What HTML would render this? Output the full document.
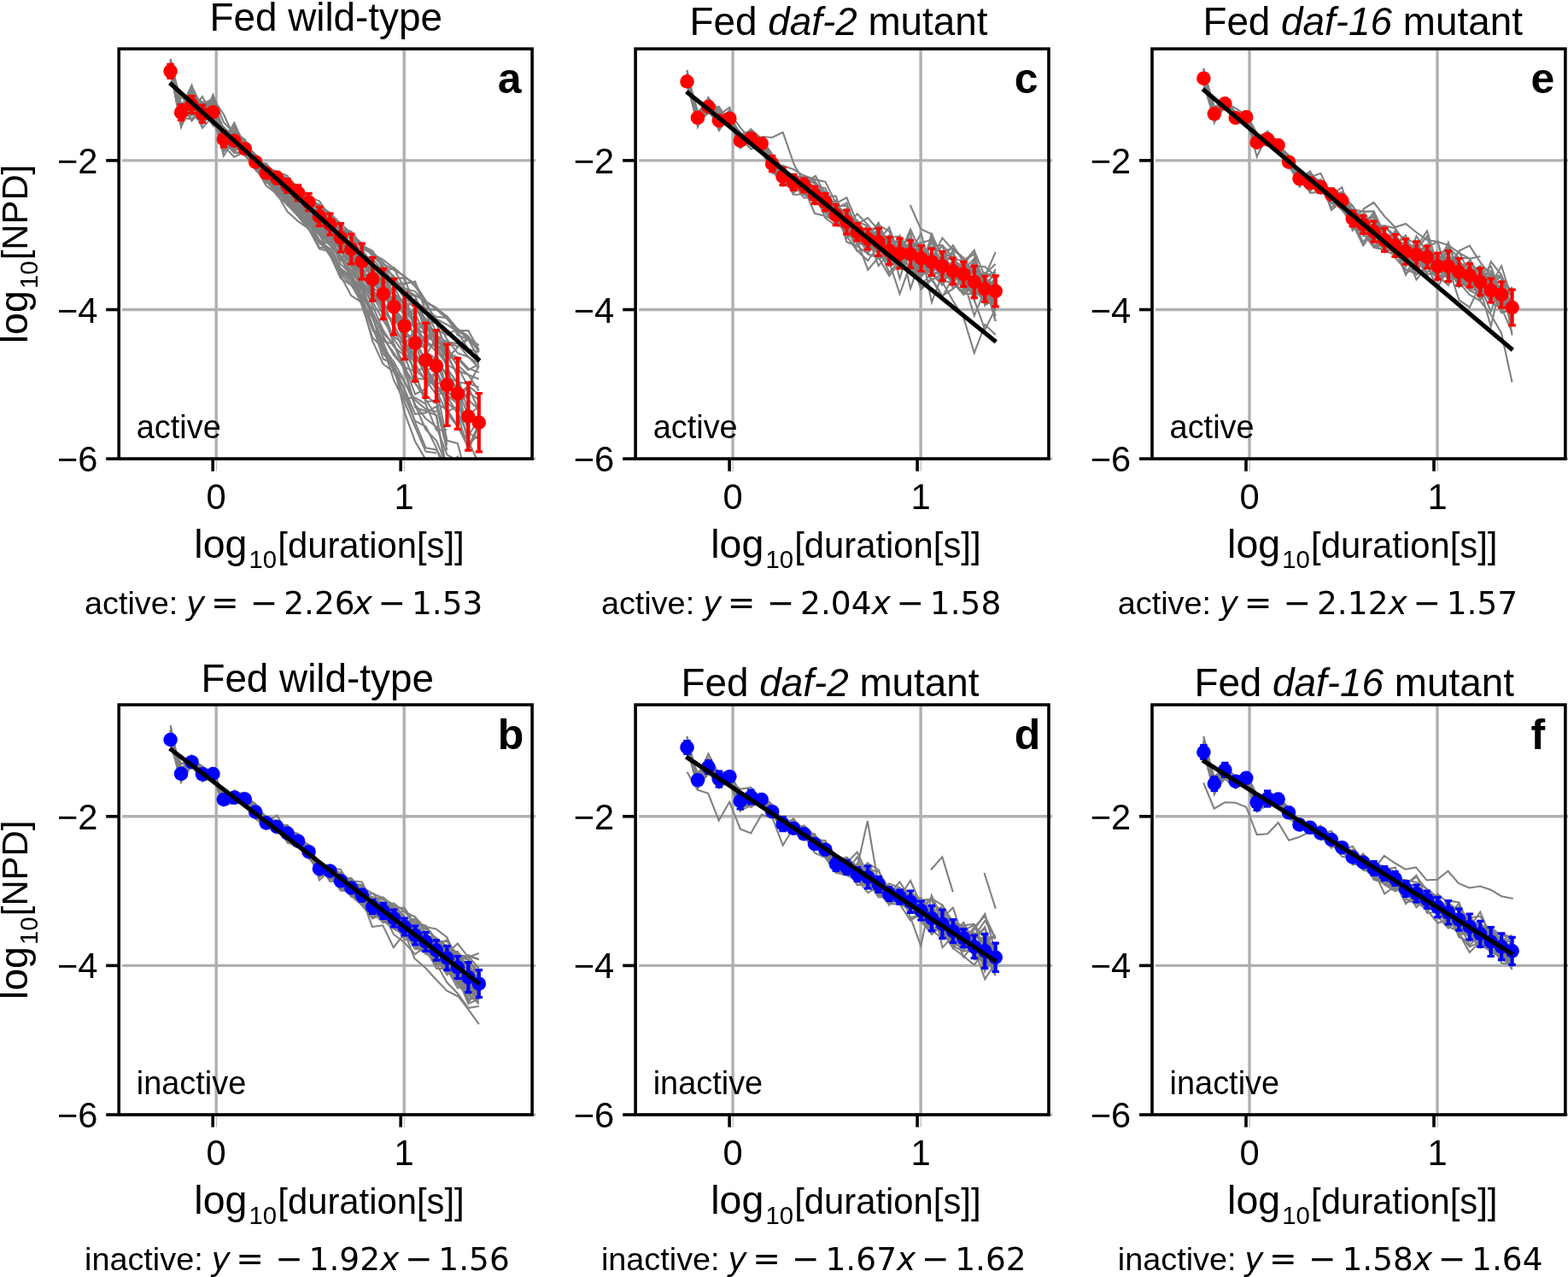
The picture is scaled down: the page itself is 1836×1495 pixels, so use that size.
<!DOCTYPE html>
<html lang="en"><head><meta charset="utf-8"><title>Figure</title>
<style>html,body{margin:0;padding:0;background:#fff;width:1836px;height:1495px;overflow:hidden}svg{display:block}text{font-family:'Liberation Sans', Arial, Helvetica, sans-serif;fill:#000}.dj{font-family:'DejaVu Sans', 'Liberation Sans', sans-serif}.it{font-style:italic}</style></head><body>
<svg width="1836" height="1495" viewBox="0 0 1836 1495" role="img" aria-label="Six-panel figure of log10 NPD versus log10 duration">
<rect width="1836" height="1495" fill="#fff"/>
<g id="panel-a">
<g stroke="#b0b0b0" stroke-width="3.4" fill="none">
<line x1="143.2" y1="187.9" x2="627.1" y2="187.9"/>
<line x1="143.2" y1="362.5" x2="627.1" y2="362.5"/>
<line x1="143.2" y1="537.1" x2="627.1" y2="537.1"/>
<line x1="253.2" y1="57.2" x2="253.2" y2="537.1"/>
<line x1="253.4" y1="537.1" x2="253.4" y2="551.7" stroke="#c4c4c4" stroke-width="1.4"/>
<line x1="473.2" y1="57.2" x2="473.2" y2="537.1"/>
<line x1="473.4" y1="537.1" x2="473.4" y2="551.7" stroke="#c4c4c4" stroke-width="1.4"/>
</g>
<clipPath id="cp-a"><rect x="139.2" y="57.2" width="483.9" height="479.9"/></clipPath>
<g stroke="#808080" stroke-width="2.1" fill="none" stroke-linejoin="miter" clip-path="url(#cp-a)">
<polyline points="199.6,75.5 212.06,141.17 224.51,122.45 236.97,139.13 249.42,120.97 261.88,166.12 274.33,152.88 286.78,164.02 299.24,187.32 311.69,196.36 324.15,204.64 336.61,212.1 349.06,230.2 361.51,244.07 373.97,251.41 386.42,260.76 398.88,272.67 411.34,289.74 423.79,306.39 436.25,314.57 448.7,332.78 461.15,342.81 473.61,356.76 486.06,354.44 498.52,377.62 510.98,377.68 523.43,411.91 535.88,427.42 548.34,438.7 560.79,457.74"/>
<polyline points="199.6,86.31 212.06,131.51 224.51,100.5 236.97,126.38 249.42,115.55 261.88,133.74 274.33,160.99 286.78,180.87 299.24,190.17 311.69,200.91 324.15,210.81 336.61,222.91 349.06,235.93 361.51,238.94 373.97,248.98 386.42,256.99 398.88,275.52 411.34,287.09 423.79,301.13 436.25,329.56 448.7,331.28 461.15,353.34 473.61,368.52 486.06,384.84 498.52,382.13 510.98,390.37 523.43,412.4 535.88,418.45 548.34,431.21 560.79,435.9"/>
<polyline points="199.6,69.69 212.06,133.28 224.51,126.42 236.97,129.53 249.42,139.53 261.88,164.89 274.33,156.21 286.78,169.55 299.24,196.4 311.69,207.17 324.15,213.31 336.61,230.09 349.06,237.71 361.51,255.1 373.97,262.98 386.42,283.95 398.88,301.28 411.34,323.67 423.79,337.78 436.25,365.23 448.7,390.1 461.15,403.07 473.61,429.62 486.06,435.19 498.52,429.8 510.98,449.88 523.43,471.29 535.88,482.21 548.34,510.06 560.79,490.82"/>
<polyline points="199.6,78.23 212.06,136.67 224.51,105.85 236.97,137.9 249.42,133.24 261.88,165.55 274.33,167.38 286.78,170.93 299.24,190.34 311.69,209.17 324.15,219.08 336.61,228.83 349.06,243.29 361.51,249.6 373.97,260.18 386.42,272.32 398.88,274.58 411.34,285.15 423.79,305.18 436.25,317.3 448.7,328.46 461.15,332 473.61,338.05 486.06,345.55 498.52,353.3 510.98,360.3 523.43,370.84 535.88,386.97 548.34,395.43 560.79,404.37"/>
<polyline points="199.6,78.91 212.06,136.79 224.51,129.34 236.97,113.03 249.42,136.4 261.88,161.25 274.33,167.74 286.78,177.61 299.24,188.29 311.69,197.71 324.15,210.91 336.61,216.01 349.06,232.29 361.51,238.97 373.97,253.87 386.42,258.76 398.88,267.07 411.34,274.81 423.79,301.55 436.25,320.66 448.7,336.61 461.15,364.62 473.61,401.48 486.06,419.06 498.52,433.44 510.98,457.32 523.43,483.42 535.88,499.64 548.34,515.93 560.79,543.54"/>
<polyline points="199.6,81.8 212.06,138.6 224.51,117.49 236.97,132.45 249.42,133.91 261.88,173.89 274.33,161.28 286.78,165.49 299.24,186.81 311.69,199.12 324.15,207.72 336.61,219.03 349.06,222.23 361.51,233.73 373.97,242.64 386.42,253.72 398.88,267.95 411.34,270.97 423.79,287.98 436.25,294.76 448.7,308.91 461.15,316 473.61,323.11 486.06,335.45 498.52,352.7 510.98,361.9 523.43,373.56 535.88,386.84 548.34,387.13 560.79,409.32"/>
<polyline points="199.6,73.53 212.06,135.05 224.51,115.24 236.97,126.15 249.42,129.55 261.88,165.45 274.33,154.68 286.78,165.46 299.24,186.82 311.69,199.79 324.15,212.26 336.61,233.78 349.06,239.97 361.51,253.77 373.97,271.63 386.42,284.33 398.88,301.99 411.34,311.45 423.79,339.52 436.25,371.19 448.7,406.18 461.15,445 473.61,470.35 486.06,500.01 498.52,528.56 510.98,530.39"/>
<polyline points="199.6,81.5 212.06,136.23 224.51,116.57 236.97,130.8 249.42,116.75 261.88,152.64 274.33,176.02 286.78,163.26 299.24,190.34 311.69,206.95 324.15,213.64 336.61,222.36 349.06,238.61 361.51,245.99 373.97,262.39 386.42,277.24 398.88,299.68 411.34,304.74 423.79,322.05 436.25,340.15 448.7,363.22 461.15,397 473.61,414.51 486.06,421.52 498.52,422.06 510.98,419.7 523.43,441.03 535.88,447.59 548.34,449.01 560.79,453.38"/>
<polyline points="199.6,83.08 212.06,147.96 224.51,122.79 236.97,131.1 249.42,118.35 261.88,170.95 274.33,183.62 286.78,177.79 299.24,194.92 311.69,204.27 324.15,214.11 336.61,226.62 349.06,233.84 361.51,244.18 373.97,263.36 386.42,277.89 398.88,291.69 411.34,312.08 423.79,319.03 436.25,340.02 448.7,357.27 461.15,381.15 473.61,404.05 486.06,386.08 498.52,397.55 510.98,412.4 523.43,456.5 535.88,454.43"/>
<polyline points="199.6,85.34 212.06,127.07 224.51,117.63 236.97,140.84 249.42,136.52 261.88,157.8 274.33,158.35 286.78,175.61 299.24,192.35 311.69,212.79 324.15,223.85 336.61,233.81 349.06,247.56 361.51,261.06 373.97,274.32 386.42,278.09 398.88,309.13 411.34,321.62 423.79,345.44 436.25,369.38 448.7,413.98 461.15,430.16 473.61,466.83 486.06,465.49 498.52,473.01 510.98,503.34 523.43,503.32"/>
<polyline points="199.6,71.45 212.06,139.64 224.51,114.12 236.97,131.16 249.42,140.4 261.88,158.42 274.33,166.04 286.78,168.97 299.24,188.23 311.69,204.2 324.15,219.9 336.61,231.37 349.06,242.41 361.51,255.27 373.97,265.72 386.42,269.8 398.88,283.69 411.34,285.19 423.79,292.29 436.25,309.08 448.7,316.5 461.15,329.68 473.61,346.8 486.06,351.44 498.52,363.42 510.98,403.31 523.43,418.36 535.88,419.95 548.34,433.27 560.79,426.4"/>
<polyline points="199.6,76.82 212.06,140.93 224.51,115.26 236.97,130.24 249.42,120.12 261.88,151.07 274.33,156.6 286.78,172.4 299.24,193.58 311.69,203.54 324.15,221.56 336.61,229.33 349.06,250.87 361.51,256.55 373.97,275.1 386.42,285.35 398.88,302.74 411.34,319.52 423.79,333.9 436.25,372.32 448.7,399.48 461.15,402.82 473.61,434.47 486.06,474.05 498.52,502.97 510.98,515.81 523.43,545.24 535.88,534.56 548.34,571.93 560.79,556.51"/>
<polyline points="199.6,80.01 212.06,114.32 224.51,121.34 236.97,129.12 249.42,135.24 261.88,154.43 274.33,163.67 286.78,169 299.24,193.1 311.69,208.78 324.15,216.72 336.61,231.84 349.06,245.6 361.51,261.82 373.97,275.1 386.42,296.89 398.88,316.39 411.34,325.15 423.79,351.17 436.25,386.14 448.7,406.57 461.15,423.47 473.61,446.59 486.06,468.21 498.52,478.92 510.98,482.09"/>
<polyline points="199.6,80.74 212.06,148.94 224.51,119.11 236.97,133.17 249.42,136.05 261.88,177.28 274.33,164.26 286.78,179.4 299.24,189.94 311.69,195.21 324.15,206.48 336.61,214 349.06,230.3 361.51,237.13 373.97,255.47 386.42,255.64 398.88,275.68 411.34,298.58 423.79,305.8 436.25,314.12 448.7,337.98 461.15,355.89 473.61,399.39 486.06,415.79 498.52,433.91 510.98,429.1 523.43,481.95 535.88,475.65 548.34,459.35 560.79,468.01"/>
<polyline points="199.6,78.48 212.06,144.45 224.51,123.2 236.97,139.76 249.42,137.3 261.88,176.99 274.33,157.34 286.78,180.11 299.24,191.57 311.69,203.04 324.15,215.39 336.61,230 349.06,242.96 361.51,253 373.97,262.13 386.42,276.52 398.88,292.11 411.34,297.68 423.79,315.21 436.25,346.01 448.7,349.21 461.15,357.8 473.61,361.96 486.06,399.15 498.52,441.78 510.98,450.55 523.43,465.28 535.88,463.11 548.34,500.07"/>
<polyline points="199.6,82.97 212.06,135.17 224.51,118.19 236.97,136.35 249.42,125.29 261.88,162.76 274.33,168.77 286.78,174.43 299.24,188.92 311.69,199.44 324.15,213.3 336.61,225.87 349.06,237.55 361.51,248.8 373.97,259.18 386.42,269.85 398.88,289.73 411.34,300.35 423.79,319.56 436.25,327.61 448.7,346.74 461.15,357.95 473.61,384.8 486.06,406.82 498.52,405.18 510.98,402.81 523.43,400.34 535.88,405.8 548.34,397.38 560.79,419.83"/>
<polyline points="199.6,78.88 212.06,129.01 224.51,119.41 236.97,134.54 249.42,125.28 261.88,159.03 274.33,163.58 286.78,181.85 299.24,195.85 311.69,199.99 324.15,212.11 336.61,228.61 349.06,231.62 361.51,249.61 373.97,267.67 386.42,275.25 398.88,287.76 411.34,298.27 423.79,320.5 436.25,345.56 448.7,360.05 461.15,361.62 473.61,389.11 486.06,397.82 498.52,422.62 510.98,425.49 523.43,436.74 535.88,456.34 548.34,486.38 560.79,475.96"/>
<polyline points="199.6,84.13 212.06,122.76 224.51,141.52 236.97,127.45 249.42,147.22 261.88,153.15 274.33,168.94 286.78,168.2 299.24,181.61 311.69,197.53 324.15,206.91 336.61,215.79 349.06,226.98 361.51,236.86 373.97,241.11 386.42,265.05 398.88,283.9 411.34,296.12 423.79,304.68 436.25,320.52 448.7,319.24 461.15,326.55 473.61,348.01 486.06,360.07 498.52,372.82 510.98,393.37"/>
<polyline points="199.6,82.58 212.06,125.93 224.51,99.9 236.97,145.5 249.42,116.11 261.88,169.13 274.33,158.89 286.78,169.31 299.24,186.33 311.69,195.99 324.15,204.78 336.61,210.5 349.06,222.21 361.51,235.71 373.97,239.49 386.42,252.44 398.88,265.96 411.34,274.59 423.79,291.2 436.25,297.07 448.7,307.28 461.15,325.58 473.61,325.33 486.06,359.33 498.52,381.36 510.98,388.49 523.43,431.26 535.88,448.27 548.34,468.51 560.79,479.09"/>
<polyline points="199.6,76.42 212.06,128.99 224.51,121.52 236.97,128.42 249.42,127.67 261.88,175.53 274.33,146.99 286.78,178.62 299.24,197.24 311.69,204.23 324.15,211.57 336.61,216.94 349.06,226.63 361.51,249.58 373.97,257.82 386.42,271.84 398.88,286.58 411.34,293.72 423.79,301.75 436.25,311.73 448.7,324.94 461.15,342.03 473.61,363.63 486.06,378.9 498.52,411.86 510.98,420.08"/>
<polyline points="199.6,72.91 212.06,135.46 224.51,122.7 236.97,149.91 249.42,136.16 261.88,167.84 274.33,163.15 286.78,167.13 299.24,190.05 311.69,200.57 324.15,212.43 336.61,218.87 349.06,231.09 361.51,243.52 373.97,266.41 386.42,274.55 398.88,293.45 411.34,311.06 423.79,335.44 436.25,353.25 448.7,375.26 461.15,394.41 473.61,402.69 486.06,437.16 498.52,470.84 510.98,468.29 523.43,521.29"/>
<polyline points="199.6,78.22 212.06,133.27 224.51,121.99 236.97,123.27 249.42,124.66 261.88,153.55 274.33,166.05 286.78,170.63 299.24,184.61 311.69,204.44 324.15,212.17 336.61,217.49 349.06,231.2 361.51,238.21 373.97,255.93 386.42,270.8 398.88,285.89 411.34,291.54 423.79,302.85 436.25,322.33 448.7,333.49 461.15,343.86 473.61,354.53 486.06,383.55 498.52,390.74 510.98,402.95"/>
<polyline points="199.6,79.01 212.06,126.89 224.51,126.38 236.97,137.47 249.42,124.88 261.88,157.68 274.33,150.19 286.78,169.62 299.24,180.78 311.69,197.55 324.15,203.12 336.61,211.59 349.06,217.41 361.51,231.73 373.97,245.03 386.42,256.18 398.88,274.35 411.34,297.53 423.79,318.83 436.25,329.79 448.7,344.52 461.15,366.12 473.61,401.06 486.06,419.22 498.52,416.19 510.98,394.94 523.43,415.05 535.88,438.74"/>
<polyline points="199.6,80.21 212.06,136.01 224.51,115.79 236.97,138.43 249.42,125.66 261.88,171.59 274.33,172.61 286.78,178.76 299.24,191.43 311.69,201.28 324.15,202.12 336.61,213.51 349.06,220.19 361.51,230.94 373.97,235.31 386.42,253.93 398.88,263.62 411.34,281.66 423.79,287.17 436.25,293.8 448.7,314.99 461.15,332.43 473.61,332.15 486.06,329.55 498.52,364.68 510.98,370.7 523.43,372.16 535.88,392.33 548.34,397.31 560.79,409.67"/>
<polyline points="199.6,73.38 212.06,137.3 224.51,115.49 236.97,136.87 249.42,134.29 261.88,173.83 274.33,172.01 286.78,171.32 299.24,189.1 311.69,199.23 324.15,213.37 336.61,220.37 349.06,232.87 361.51,251.85 373.97,258.87 386.42,276.73 398.88,290.81 411.34,291.08 423.79,295.69 436.25,314.08 448.7,339.43 461.15,352.54 473.61,363.31 486.06,367.81 498.52,391.85 510.98,392.81 523.43,400.29 535.88,402.28 548.34,417.85 560.79,426"/>
<polyline points="199.6,84.64 212.06,137.75 224.51,114.39 236.97,133.53 249.42,138.99 261.88,164.75 274.33,167.3 286.78,172.45 299.24,192.47 311.69,206.28 324.15,221.33 336.61,237.82 349.06,241.77 361.51,253.65 373.97,274.9 386.42,287.18 398.88,299.5 411.34,316.31 423.79,331.71 436.25,349.13 448.7,353.05 461.15,384.89 473.61,412.78 486.06,432.93 498.52,444.43 510.98,462.2 523.43,458.86 535.88,466.94 548.34,519.31 560.79,509.34"/>
<polyline points="199.6,69.04 212.06,121.42 224.51,118.75 236.97,126.75 249.42,136.85 261.88,160.14 274.33,176.88 286.78,181.8 299.24,195.71 311.69,205.19 324.15,217.67 336.61,229.66 349.06,241.76 361.51,242.2 373.97,261.06 386.42,274.06 398.88,289.36 411.34,302.8 423.79,332.67 436.25,357.87 448.7,386.63 461.15,405.9 473.61,416.42 486.06,448.64 498.52,467.8 510.98,487.33 523.43,557.83 535.88,562.28 548.34,600.41 560.79,606.44"/>
<polyline points="199.6,76.17 212.06,133.46 224.51,119.1 236.97,141.92 249.42,125.61 261.88,151.4 274.33,161.17 286.78,174.37 299.24,189.71 311.69,211.59 324.15,226.15 336.61,231.36 349.06,240.36 361.51,245.82 373.97,257.34 386.42,262.01 398.88,282.18 411.34,296.77 423.79,298.56 436.25,321.66 448.7,338.26 461.15,345.27 473.61,370.28 486.06,361.89 498.52,360.89 510.98,362.72 523.43,370.43 535.88,385.14 548.34,397.68 560.79,409.02"/>
<polyline points="199.6,81.69 212.06,133.95 224.51,133.52 236.97,119.89 249.42,135.04 261.88,156.64 274.33,165.67 286.78,175.94 299.24,193.06 311.69,201.17 324.15,216.92 336.61,227.54 349.06,240.73 361.51,257.9 373.97,273.3 386.42,279.45 398.88,304.69 411.34,303.36 423.79,320.43 436.25,336.65 448.7,362.43 461.15,380.6 473.61,403.81 486.06,418.91 498.52,419.31 510.98,426.86 523.43,452.79 535.88,461.37 548.34,452.15 560.79,461.46"/>
<polyline points="199.6,87.46 212.06,138.52 224.51,139.16 236.97,130.61 249.42,117.67 261.88,174 274.33,168.56 286.78,177.35 299.24,194.82 311.69,213.71 324.15,214.96 336.61,229.03 349.06,247.57 361.51,253.71 373.97,272.81 386.42,270.6 398.88,295.25 411.34,308.39 423.79,328.69 436.25,346.06 448.7,368.01 461.15,402.74 473.61,427.91 486.06,461.48 498.52,455.16 510.98,434.97 523.43,463.17 535.88,472.36"/>
<polyline points="199.6,77.35 212.06,137.23 224.51,131.84 236.97,130.69 249.42,120.81 261.88,157.99 274.33,168.37 286.78,170.13 299.24,188.36 311.69,207.81 324.15,220.67 336.61,237.93 349.06,252.66 361.51,267.95 373.97,291.44 386.42,294.59 398.88,319.45 411.34,327.18 423.79,347.79 436.25,361.14 448.7,364.6 461.15,375.71 473.61,385.12 486.06,412.86 498.52,441.21 510.98,450.92 523.43,442.19 535.88,468.97 548.34,452.31 560.79,427.96"/>
<polyline points="199.6,77.1 212.06,144.88 224.51,120.82 236.97,129.49 249.42,132.21 261.88,158.14 274.33,172.19 286.78,178.08 299.24,191.45 311.69,198.26 324.15,203.98 336.61,212.68 349.06,218.92 361.51,239.02 373.97,253.36 386.42,273.92 398.88,292.77 411.34,305.15 423.79,318.2 436.25,313.89 448.7,313.01 461.15,323.33 473.61,342.43 486.06,346.5 498.52,376.79 510.98,402.84 523.43,414.76 535.88,440.59 548.34,481.97 560.79,501.58"/>
<polyline points="199.6,77.05 212.06,121.69 224.51,139.67 236.97,128.89 249.42,128.27 261.88,163.89 274.33,163.41 286.78,173.99 299.24,199.12 311.69,211.46 324.15,224.63 336.61,234.15 349.06,252.49 361.51,263.08 373.97,282 386.42,291.27 398.88,316.85 411.34,330.59 423.79,353.6 436.25,385.22 448.7,396.32 461.15,413.04 473.61,431.8 486.06,448.84 498.52,463.22 510.98,472.7 523.43,479.26 535.88,498.79 548.34,523.88 560.79,495.75"/>
<polyline points="199.6,69.29 212.06,140.04 224.51,113.45 236.97,137.66 249.42,127.08 261.88,152.43 274.33,156.75 286.78,176.37 299.24,191.12 311.69,191.25 324.15,207.18 336.61,213.82 349.06,226.15 361.51,236.8 373.97,252.55 386.42,263.01 398.88,277.75 411.34,290.17 423.79,299.77 436.25,310.72 448.7,318.38 461.15,313.21 473.61,324.22 486.06,332.19 498.52,352.08 510.98,378.51 523.43,412.02"/>
<polyline points="199.6,79.63 212.06,129.42 224.51,117.99 236.97,138.9 249.42,111.07 261.88,143.18 274.33,156.12 286.78,179.27 299.24,191.14 311.69,198.72 324.15,211.69 336.61,228.68 349.06,244.97 361.51,253.59 373.97,269.37 386.42,283.28 398.88,288.86 411.34,295.34 423.79,306.77 436.25,328.05 448.7,330.61 461.15,335.05 473.61,359.06 486.06,353.7 498.52,361.18 510.98,389.93 523.43,419.83 535.88,406.56 548.34,395.08 560.79,411.45"/>
<polyline points="199.6,69.45 212.06,123.25 224.51,133.1 236.97,144.7 249.42,131.3 261.88,165.21 274.33,143.68 286.78,171.33 299.24,197.61 311.69,198.53 324.15,213.21 336.61,229.68 349.06,231.54 361.51,243.95 373.97,263.67 386.42,268.37 398.88,281.02 411.34,289.58 423.79,298.41 436.25,303.42 448.7,317.24 461.15,329.63 473.61,341.5 486.06,346.79 498.52,394 510.98,400.46 523.43,405.28 535.88,429.38 548.34,453.03 560.79,480.59"/>
<polyline points="199.6,74.28 212.06,131.4 224.51,124.94 236.97,121.99 249.42,115.46 261.88,165.66 274.33,153.46 286.78,175.49 299.24,187.73 311.69,199.61 324.15,204.94 336.61,212.39 349.06,219.52 361.51,231.88 373.97,240.47 386.42,249.34 398.88,261.85 411.34,273.24 423.79,285.12 436.25,299.93 448.7,311.72 461.15,332.77 473.61,348.66 486.06,378.15 498.52,402.01 510.98,405.21 523.43,426.71 535.88,475.1 548.34,493.21 560.79,493.33"/>
<polyline points="199.6,82.12 212.06,128.09 224.51,110.48 236.97,119.27 249.42,125.44 261.88,165.74 274.33,179.32 286.78,179.53 299.24,194.03 311.69,197.07 324.15,200.38 336.61,205.86 349.06,225.48 361.51,232.48 373.97,243.11 386.42,259.29 398.88,268.83 411.34,286.7 423.79,311.6 436.25,336.88 448.7,345.16 461.15,364.12 473.61,377.08 486.06,378.35 498.52,379.71 510.98,410.14 523.43,427.05 535.88,433.87 548.34,438.79 560.79,443.78"/>
<polyline points="199.6,78.04 212.06,142.94 224.51,121.91 236.97,133.55 249.42,132.98 261.88,150 274.33,171.78 286.78,176.6 299.24,187.6 311.69,196.72 324.15,206.84 336.61,218.7 349.06,222.02 361.51,238 373.97,252.19 386.42,264.97 398.88,286.56 411.34,287.78 423.79,315.47 436.25,331.91 448.7,344.3 461.15,363.16 473.61,398.28 486.06,426.66 498.52,445.31 510.98,435.23 523.43,457.45 535.88,454.54 548.34,506.59 560.79,514.14"/>
<polyline points="199.6,78.55 212.06,123.61 224.51,132.96 236.97,129.78 249.42,130.58 261.88,170.06 274.33,166.06 286.78,175.71 299.24,189.91 311.69,204.63 324.15,204.65 336.61,217.28 349.06,230.96 361.51,232.63 373.97,257.27 386.42,271.94 398.88,281.31 411.34,289.84 423.79,305.25 436.25,321.93 448.7,345.43 461.15,362.98 473.61,393.81 486.06,394.76 498.52,427.63 510.98,456.3 523.43,463.41 535.88,484.61 548.34,527.12 560.79,498.32"/>
<polyline points="199.6,74.88 212.06,133.62 224.51,127.86 236.97,143.03 249.42,133.82 261.88,182.52 274.33,161.19 286.78,174.93 299.24,195.29 311.69,207.84 324.15,214.57 336.61,221.13 349.06,231.98 361.51,245.26 373.97,246.93 386.42,261.23 398.88,274.04 411.34,274.44 423.79,300.98 436.25,312.51 448.7,326.29 461.15,347.45 473.61,351.92 486.06,380.22 498.52,383.17 510.98,373.56 523.43,379.98 535.88,388.41 548.34,408.85 560.79,412.33"/>
<polyline points="199.6,76.93 212.06,124.83 224.51,108.66 236.97,137.82 249.42,133.78 261.88,171.17 274.33,164.94 286.78,170.73 299.24,186.23 311.69,193.97 324.15,202.43 336.61,208.46 349.06,227.62 361.51,233.2 373.97,247.35 386.42,257.02 398.88,268.23 411.34,272.57 423.79,287.67 436.25,297.51 448.7,304.11 461.15,314.21 473.61,337.84 486.06,341.09 498.52,356.39 510.98,374.23 523.43,397.52 535.88,413.46 548.34,417.63 560.79,431.06"/>
<polyline points="199.6,80.13 212.06,136.29 224.51,133.07 236.97,134.48 249.42,118.87 261.88,156.29 274.33,170.86 286.78,172.81 299.24,188.22 311.69,205.27 324.15,213.23 336.61,225.49 349.06,240.89 361.51,250.21 373.97,266.62 386.42,276.55 398.88,285.12 411.34,300.72 423.79,315.56 436.25,330.84 448.7,338.41 461.15,360.86 473.61,375 486.06,391.65 498.52,401.07 510.98,386.45 523.43,391.73 535.88,384.88 548.34,393.41 560.79,412.18"/>
<polyline points="199.6,83.14 212.06,134.45 224.51,106.56 236.97,135.84 249.42,125.95 261.88,155.63 274.33,169.09 286.78,170.77 299.24,187.34 311.69,204.57 324.15,218.48 336.61,240.14 349.06,241.84 361.51,267.12 373.97,284.73 386.42,294.18 398.88,322.95 411.34,346.25 423.79,354.13 436.25,372.22 448.7,400.96 461.15,431.28 473.61,446.54 486.06,473.91 498.52,489.99 510.98,499.68 523.43,532.31 535.88,539.25 548.34,558.53"/>
<polyline points="199.6,79.68 212.06,133.85 224.51,119.54 236.97,130.11 249.42,133.52 261.88,164.69 274.33,174.71 286.78,173.06 299.24,190.45 311.69,211 324.15,225.43 336.61,237.59 349.06,250.16 361.51,259.12 373.97,281.03 386.42,299.35 398.88,315.32 411.34,322.35 423.79,353.73 436.25,399.32 448.7,426.33 461.15,435.34 473.61,463.56 486.06,492.86 498.52,499.23 510.98,524.32 523.43,560.75"/>
<polyline points="199.6,85.4 212.06,131.35 224.51,103.82 236.97,140.65 249.42,139.29 261.88,173.4 274.33,172.72 286.78,173.91 299.24,190.53 311.69,210.17 324.15,219.43 336.61,238.26 349.06,250.95 361.51,257.48 373.97,273.11 386.42,285.78 398.88,299.91 411.34,303.06 423.79,324.54 436.25,340.73 448.7,354.61 461.15,368.81 473.61,392.17 486.06,442.93 498.52,443.86 510.98,452.94 523.43,515.85 535.88,519.08 548.34,566.63"/>
<polyline points="199.6,80.41 212.06,144.19 224.51,110.49 236.97,120.72 249.42,135.59 261.88,148.48 274.33,161.91 286.78,179.6 299.24,195.24 311.69,213.47 324.15,221.07 336.61,240.26 349.06,250.55 361.51,261.14 373.97,281.47 386.42,285.62 398.88,314.16 411.34,324.37 423.79,357.95 436.25,395.36 448.7,407.96 461.15,434.6 473.61,455.59 486.06,484.78 498.52,483.36 510.98,475.75 523.43,527.16"/>
<polyline points="199.6,77.87 212.06,131.26 224.51,125.59 236.97,123.96 249.42,123.33 261.88,165.06 274.33,153.32 286.78,169.58 299.24,196.18 311.69,209.63 324.15,219.22 336.61,234.7 349.06,248.48 361.51,258.58 373.97,266.89 386.42,277.52 398.88,302.2 411.34,324.77 423.79,340.38 436.25,366.9 448.7,393.55 461.15,416.23 473.61,430.29 486.06,477.01 498.52,481.3 510.98,486.12 523.43,551.48"/>
<polyline points="199.6,79.14 212.06,133.91 224.51,135.25 236.97,130.05 249.42,128.11 261.88,159.37 274.33,177.08 286.78,164.29 299.24,195.81 311.69,217.42 324.15,226.79 336.61,247.73 349.06,259.18 361.51,267.59 373.97,289.52 386.42,291.56 398.88,320.95 411.34,333.57 423.79,355.14 436.25,383.42 448.7,406.79 461.15,427.47 473.61,456.65 486.06,494.29 498.52,524.35 510.98,526.62 523.43,545.79"/>
<polyline points="199.6,75.06 212.06,139.11 224.51,112.33 236.97,129.97 249.42,124.54 261.88,163.39 274.33,167.28 286.78,175.31 299.24,192.56 311.69,210.46 324.15,228.7 336.61,239.69 349.06,253.26 361.51,268.55 373.97,281.72 386.42,298.7 398.88,325.78 411.34,333.99 423.79,347.93 436.25,380.78 448.7,420.3 461.15,426.53 473.61,482.58 486.06,516.68 498.52,538.1 510.98,537.53 523.43,569.91"/>
</g>
<g stroke="#ff0000" fill="#ff0000">
<path d="M199.6 75.3V91.3" stroke-width="4.2"/>
<path d="M195.4 75.3H203.8M195.4 91.3H203.8" stroke-width="3.2"/>
<path d="M212.06 122.7V140.7" stroke-width="4.2"/>
<path d="M207.86 122.7H216.25M207.86 140.7H216.25" stroke-width="3.2"/>
<path d="M224.51 112.5V132.5" stroke-width="4.2"/>
<path d="M220.31 112.5H228.71M220.31 132.5H228.71" stroke-width="3.2"/>
<path d="M236.97 123.1V143.5" stroke-width="4.2"/>
<path d="M232.77 123.1H241.16M232.77 143.5H241.16" stroke-width="3.2"/>
<path d="M249.42 126.3V136.3" stroke-width="4.2"/>
<path d="M245.22 126.3H253.62M245.22 136.3H253.62" stroke-width="3.2"/>
<path d="M261.88 154V172" stroke-width="4.2"/>
<path d="M257.68 154H266.07M257.68 172H266.07" stroke-width="3.2"/>
<path d="M274.33 158.7V170.7" stroke-width="4.2"/>
<path d="M270.13 158.7H278.53M270.13 170.7H278.53" stroke-width="3.2"/>
<path d="M286.78 169.2V179.2" stroke-width="4.2"/>
<path d="M282.58 169.2H290.98M282.58 179.2H290.98" stroke-width="3.2"/>
<path d="M299.24 184.7V194.7" stroke-width="4.2"/>
<path d="M295.04 184.7H303.44M295.04 194.7H303.44" stroke-width="3.2"/>
<path d="M311.69 196.5V208.5" stroke-width="4.2"/>
<path d="M307.5 196.5H315.89M307.5 208.5H315.89" stroke-width="3.2"/>
<path d="M324.15 201.3V215.3" stroke-width="4.2"/>
<path d="M319.95 201.3H328.35M319.95 215.3H328.35" stroke-width="3.2"/>
<path d="M336.61 209.5V225.5" stroke-width="4.2"/>
<path d="M332.41 209.5H340.81M332.41 225.5H340.81" stroke-width="3.2"/>
<path d="M349.06 216.8V234.8" stroke-width="4.2"/>
<path d="M344.86 216.8H353.26M344.86 234.8H353.26" stroke-width="3.2"/>
<path d="M361.51 226.7V246.7" stroke-width="4.2"/>
<path d="M357.31 226.7H365.71M357.31 246.7H365.71" stroke-width="3.2"/>
<path d="M373.97 242.3V264.3" stroke-width="4.2"/>
<path d="M369.77 242.3H378.17M369.77 264.3H378.17" stroke-width="3.2"/>
<path d="M386.42 250V275" stroke-width="4.2"/>
<path d="M382.22 250H390.62M382.22 275H390.62" stroke-width="3.2"/>
<path d="M398.88 261.6V295" stroke-width="4.2"/>
<path d="M394.68 261.6H403.08M394.68 295H403.08" stroke-width="3.2"/>
<path d="M411.34 274V309" stroke-width="4.2"/>
<path d="M407.14 274H415.54M407.14 309H415.54" stroke-width="3.2"/>
<path d="M423.79 285.2V326.8" stroke-width="4.2"/>
<path d="M419.59 285.2H427.99M419.59 326.8H427.99" stroke-width="3.2"/>
<path d="M436.25 301.3V352.1" stroke-width="4.2"/>
<path d="M432.05 301.3H440.44M432.05 352.1H440.44" stroke-width="3.2"/>
<path d="M448.7 314.7V373.7" stroke-width="4.2"/>
<path d="M444.5 314.7H452.9M444.5 373.7H452.9" stroke-width="3.2"/>
<path d="M461.15 326.5V391.9" stroke-width="4.2"/>
<path d="M456.95 326.5H465.35M456.95 391.9H465.35" stroke-width="3.2"/>
<path d="M473.61 342.8V420.6" stroke-width="4.2"/>
<path d="M469.41 342.8H477.81M469.41 420.6H477.81" stroke-width="3.2"/>
<path d="M486.06 357.1V446.3" stroke-width="4.2"/>
<path d="M481.86 357.1H490.26M481.86 446.3H490.26" stroke-width="3.2"/>
<path d="M498.52 378.1V465.3" stroke-width="4.2"/>
<path d="M494.32 378.1H502.72M494.32 465.3H502.72" stroke-width="3.2"/>
<path d="M510.98 386.7V469.9" stroke-width="4.2"/>
<path d="M506.78 386.7H515.18M506.78 469.9H515.18" stroke-width="3.2"/>
<path d="M523.43 403.1V498.5" stroke-width="4.2"/>
<path d="M519.23 403.1H527.63M519.23 498.5H527.63" stroke-width="3.2"/>
<path d="M535.88 419.3V502.3" stroke-width="4.2"/>
<path d="M531.68 419.3H540.09M531.68 502.3H540.09" stroke-width="3.2"/>
<path d="M548.34 447.9V527.1" stroke-width="4.2"/>
<path d="M544.14 447.9H552.54M544.14 527.1H552.54" stroke-width="3.2"/>
<path d="M560.79 460.5V528.9" stroke-width="4.2"/>
<path d="M556.59 460.5H565M556.59 528.9H565" stroke-width="3.2"/>
<circle cx="199.6" cy="83.3" r="8.3" stroke="none"/>
<circle cx="212.06" cy="131.7" r="8.3" stroke="none"/>
<circle cx="224.51" cy="122.5" r="8.3" stroke="none"/>
<circle cx="236.97" cy="133.3" r="8.3" stroke="none"/>
<circle cx="249.42" cy="131.3" r="8.3" stroke="none"/>
<circle cx="261.88" cy="163" r="8.3" stroke="none"/>
<circle cx="274.33" cy="164.7" r="8.3" stroke="none"/>
<circle cx="286.78" cy="174.2" r="8.3" stroke="none"/>
<circle cx="299.24" cy="189.7" r="8.3" stroke="none"/>
<circle cx="311.69" cy="202.5" r="8.3" stroke="none"/>
<circle cx="324.15" cy="208.3" r="8.3" stroke="none"/>
<circle cx="336.61" cy="217.5" r="8.3" stroke="none"/>
<circle cx="349.06" cy="225.8" r="8.3" stroke="none"/>
<circle cx="361.51" cy="236.7" r="8.3" stroke="none"/>
<circle cx="373.97" cy="253.3" r="8.3" stroke="none"/>
<circle cx="386.42" cy="262.5" r="8.3" stroke="none"/>
<circle cx="398.88" cy="278.3" r="8.3" stroke="none"/>
<circle cx="411.34" cy="291.5" r="8.3" stroke="none"/>
<circle cx="423.79" cy="306" r="8.3" stroke="none"/>
<circle cx="436.25" cy="326.7" r="8.3" stroke="none"/>
<circle cx="448.7" cy="344.2" r="8.3" stroke="none"/>
<circle cx="461.15" cy="359.2" r="8.3" stroke="none"/>
<circle cx="473.61" cy="381.7" r="8.3" stroke="none"/>
<circle cx="486.06" cy="401.7" r="8.3" stroke="none"/>
<circle cx="498.52" cy="421.7" r="8.3" stroke="none"/>
<circle cx="510.98" cy="428.3" r="8.3" stroke="none"/>
<circle cx="523.43" cy="450.8" r="8.3" stroke="none"/>
<circle cx="535.88" cy="460.8" r="8.3" stroke="none"/>
<circle cx="548.34" cy="487.5" r="8.3" stroke="none"/>
<circle cx="560.79" cy="494.7" r="8.3" stroke="none"/>
</g>
<line x1="198.7" y1="97" x2="561.7" y2="422.5" stroke="#000" stroke-width="5.1"/>
<g stroke="#000" stroke-width="3.6" fill="none">
<line x1="249.2" y1="537.1" x2="249.2" y2="551.7"/>
<line x1="469.2" y1="537.1" x2="469.2" y2="551.7"/>
<line x1="124.2" y1="187.9" x2="139.2" y2="187.9"/>
<line x1="124.2" y1="362.5" x2="139.2" y2="362.5"/>
<line x1="124.2" y1="537.1" x2="139.2" y2="537.1"/>
<rect x="139.2" y="57.2" width="483.9" height="479.9" stroke-width="3.6"/>
</g>
<text x="114.4" y="202.9" font-size="41.67" text-anchor="end">−2</text>
<text x="114.4" y="377.5" font-size="41.67" text-anchor="end">−4</text>
<text x="114.4" y="552.1" font-size="41.67" text-anchor="end">−6</text>
<text x="253.2" y="596.3" font-size="41.67" text-anchor="middle">0</text>
<text x="473.2" y="596.3" font-size="41.67" text-anchor="middle">1</text>
<text x="227.3" y="652.8" font-size="46.5">log</text>
<text x="291.5" y="664.6" font-size="29.3">10</text>
<text x="325.3" y="652.8" font-size="41.8">[duration[s]]</text>
<g transform="translate(31.9 402.3) rotate(-90)">
<text x="0" y="0" font-size="46.5">log</text>
<text x="64.2" y="11.8" font-size="29.3">10</text>
<text x="98" y="0" font-size="41.8">[NPD]</text>
</g>
<text x="245.44" y="35.8" font-size="45.83" xml:space="preserve">Fed wild-type</text>
<text x="582.8" y="109.4" font-size="50" font-weight="bold">a</text>
<text x="159.8" y="512.5" font-size="37.9">active</text>
<text x="99" y="718.7" font-size="37.8">active:</text>
<text x="218" y="718.7" class="dj it" font-size="37.5">y</text>
<text x="246.9" y="718.7" class="dj" font-size="39">=</text>
<text x="292.8" y="718.7" class="dj" font-size="39">−</text>
<text x="332.2" y="718.7" class="dj" font-size="37.5">2.26</text>
<text x="413.8" y="718.7" class="dj it" font-size="37.5">x</text>
<text x="442.6" y="718.7" class="dj" font-size="39">−</text>
<text x="481.9" y="718.7" class="dj" font-size="37.5">1.53</text>
</g>
<g id="panel-b">
<g stroke="#b0b0b0" stroke-width="3.4" fill="none">
<line x1="143.2" y1="955.8" x2="627.1" y2="955.8"/>
<line x1="143.2" y1="1130.4" x2="627.1" y2="1130.4"/>
<line x1="143.2" y1="1305" x2="627.1" y2="1305"/>
<line x1="253.2" y1="825.1" x2="253.2" y2="1305"/>
<line x1="253.4" y1="1305" x2="253.4" y2="1319.6" stroke="#c4c4c4" stroke-width="1.4"/>
<line x1="473.2" y1="825.1" x2="473.2" y2="1305"/>
<line x1="473.4" y1="1305" x2="473.4" y2="1319.6" stroke="#c4c4c4" stroke-width="1.4"/>
</g>
<clipPath id="cp-b"><rect x="139.2" y="825.1" width="483.9" height="479.9"/></clipPath>
<g stroke="#808080" stroke-width="2.1" fill="none" stroke-linejoin="miter" clip-path="url(#cp-b)">
<polyline points="199.6,862.73 212.06,908.31 224.51,886.38 236.97,908.17 249.42,905.14 261.88,933.45 274.33,929.74 286.78,937.19 299.24,954.79 311.69,959.82 324.15,968.46 336.61,980.81 349.06,980.97 361.51,994.58 373.97,1010.78 386.42,1016.84 398.88,1029.07 411.34,1032.19 423.79,1038.02 436.25,1046.07 448.7,1051.5 461.15,1061.6 473.61,1077.24 486.06,1080.07 498.52,1083.65 510.98,1100.35 523.43,1106.88 535.88,1115.94 548.34,1123.69 560.79,1139.06"/>
<polyline points="199.6,872.79 212.06,894.03 224.51,893.73 236.97,904.72 249.42,904.52 261.88,935.58 274.33,929.03 286.78,934.02 299.24,952.63 311.69,966.02 324.15,968.89 336.61,973.21 349.06,980.07 361.51,1000.75 373.97,1017.89 386.42,1016.89 398.88,1021.69 411.34,1033.65 423.79,1038.22 436.25,1065.01 448.7,1069.23 461.15,1074.01 473.61,1082.65 486.06,1105.27 498.52,1104.76 510.98,1102.66 523.43,1116.92 535.88,1119.8 548.34,1123.95 560.79,1142.3"/>
<polyline points="199.6,867.13 212.06,900.8 224.51,896.37 236.97,910.73 249.42,908.02 261.88,935.53 274.33,935.89 286.78,934.7 299.24,950.88 311.69,961.3 324.15,970.89 336.61,975.53 349.06,990.31 361.51,1002.33 373.97,1016.53 386.42,1029.43 398.88,1029.52 411.34,1048.77 423.79,1059.82 436.25,1075.55 448.7,1069.57 461.15,1094.16 473.61,1103.42 486.06,1117.09 498.52,1107.84 510.98,1125.81 523.43,1135.99 535.88,1145.67 548.34,1174.98 560.79,1169.79"/>
<polyline points="199.6,866.42 212.06,909.75 224.51,890.89 236.97,908.69 249.42,904.47 261.88,936.66 274.33,933.95 286.78,935.99 299.24,950.9 311.69,962.44 324.15,967.13 336.61,967.13 349.06,988.74 361.51,994.45 373.97,1016.52 386.42,1016.66 398.88,1035.35 411.34,1035.32 423.79,1051.54 436.25,1067.68 448.7,1075.53 461.15,1085.18 473.61,1094 486.06,1094.42 498.52,1115.26 510.98,1126.73 523.43,1137.59 535.88,1149.29 548.34,1159.76 560.79,1162.08"/>
<polyline points="199.6,869.34 212.06,907.12 224.51,894.32 236.97,904.96 249.42,908.63 261.88,941.02 274.33,934.97 286.78,939.71 299.24,953.16 311.69,960.49 324.15,970.98 336.61,981.98 349.06,984.26 361.51,991.25 373.97,1019.36 386.42,1019 398.88,1040.49 411.34,1045 423.79,1055.23 436.25,1067.83 448.7,1075.66 461.15,1082.33 473.61,1090.95 486.06,1107.12 498.52,1110.91 510.98,1133.84 523.43,1133.95 535.88,1150.76 548.34,1168.95 560.79,1169.62"/>
<polyline points="199.6,869.54 212.06,906.11 224.51,889.26 236.97,904.19 249.42,907.85 261.88,932.05 274.33,929.74 286.78,927.94 299.24,949.25 311.69,959.69 324.15,972.64 336.61,971.39 349.06,985.52 361.51,998.39 373.97,1021.24 386.42,1012.51 398.88,1035.94 411.34,1034.33 423.79,1042.01 436.25,1053.06 448.7,1056.04 461.15,1062.97 473.61,1062.79 486.06,1082.37 498.52,1085.07 510.98,1087.67 523.43,1097.31 535.88,1125.07 548.34,1118.05 560.79,1123.21"/>
<polyline points="199.6,864.39 212.06,909.24 224.51,894.94 236.97,904.5 249.42,907.26 261.88,942.71 274.33,934.79 286.78,938.53 299.24,954 311.69,965.41 324.15,973.54 336.61,975.62 349.06,985.88 361.51,993.73 373.97,1026.54 386.42,1019.93 398.88,1030.53 411.34,1040.56 423.79,1040.8 436.25,1055.02 448.7,1056.37 461.15,1066.98 473.61,1073.9 486.06,1089.54 498.52,1095.5 510.98,1102.99 523.43,1113.98 535.88,1126.83 548.34,1134.05 560.79,1151.06"/>
<polyline points="199.6,864.2 212.06,904.42 224.51,897.13 236.97,904.57 249.42,907.28 261.88,935.08 274.33,935.46 286.78,934.91 299.24,948.83 311.69,968.36 324.15,966.78 336.61,970.42 349.06,983.64 361.51,999.78 373.97,1013.09 386.42,1022.6 398.88,1035.06 411.34,1049.88 423.79,1048.04 436.25,1066.88 448.7,1064.53 461.15,1076.41 473.61,1089.25 486.06,1101.01 498.52,1107.36 510.98,1117.94 523.43,1124.42 535.88,1134.19 548.34,1145.44 560.79,1157.04"/>
<polyline points="199.6,866.87 212.06,908.34 224.51,893.47 236.97,907.84 249.42,906.42 261.88,939.9 274.33,929.66 286.78,935.46 299.24,953.33 311.69,961.27 324.15,968.7 336.61,973.87 349.06,987.67 361.51,1001.93 373.97,1024.58 386.42,1023.55 398.88,1030.7 411.34,1046.26 423.79,1056.24 436.25,1073.6 448.7,1062.56 461.15,1082.05 473.61,1083.34 486.06,1105.83 498.52,1111.66 510.98,1124.29 523.43,1137.78 535.88,1146.91 548.34,1162.67 560.79,1175.59"/>
<polyline points="199.6,860.18 212.06,898.88 224.51,890.54 236.97,909.67 249.42,906.82 261.88,941.5 274.33,932.34 286.78,928.99 299.24,952.33 311.69,966.8 324.15,963.48 336.61,969.7 349.06,985.4 361.51,1000.17 373.97,1013.6 386.42,1019.72 398.88,1029.27 411.34,1036.46 423.79,1045.36 436.25,1064.18 448.7,1066.28 461.15,1073.83 473.61,1073.9 486.06,1100.55 498.52,1095.76 510.98,1109.49 523.43,1114.04 535.88,1134.79 548.34,1136.96 560.79,1152.58"/>
<polyline points="199.6,866.03 212.06,909.46 224.51,896.17 236.97,915 249.42,910.14 261.88,937.85 274.33,935.33 286.78,937.34 299.24,952.7 311.69,962.96 324.15,972.58 336.61,974.57 349.06,983.19 361.51,1000.05 373.97,1016.05 386.42,1019.71 398.88,1024.11 411.34,1044.51 423.79,1051.2 436.25,1064.9 448.7,1073.23 461.15,1083.01 473.61,1085.58 486.06,1109.01 498.52,1105.15 510.98,1121.92 523.43,1134.92 535.88,1133.37 548.34,1153.11 560.79,1156.67"/>
<polyline points="199.6,856.55 212.06,910.25 224.51,892.55 236.97,902.16 249.42,901.36 261.88,938.6 274.33,934.39 286.78,937.57 299.24,949.78 311.69,960.29 324.15,971.12 336.61,971.69 349.06,987.99 361.51,990.87 373.97,1013.74 386.42,1013.82 398.88,1035.75 411.34,1032.32 423.79,1044.39 436.25,1064.46 448.7,1067.7 461.15,1085.19 473.61,1093.61 486.06,1095.48 498.52,1104.69 510.98,1102.01 523.43,1114.73 535.88,1124.14 548.34,1134.92 560.79,1138.61"/>
<polyline points="199.6,857.92 212.06,907.74 224.51,886.87 236.97,905.71 249.42,906.59 261.88,933.86 274.33,935.1 286.78,934.28 299.24,952.18 311.69,962.65 324.15,966.1 336.61,976.33 349.06,986.68 361.51,997.69 373.97,1015.06 386.42,1015.88 398.88,1028.79 411.34,1034.73 423.79,1047.02 436.25,1060.76 448.7,1065.65 461.15,1074.65 473.61,1083.4 486.06,1098.53 498.52,1101.72 510.98,1102.35 523.43,1112.38 535.88,1120.13 548.34,1129.01 560.79,1132.46"/>
<polyline points="199.6,849.16 212.06,908.87 224.51,886.72 236.97,898.52 249.42,903.31 261.88,935.78 274.33,934.66 286.78,933.38 299.24,944.36 311.69,962.96 324.15,968.48 336.61,973.69 349.06,980.93 361.51,996.89 373.97,1014.61 386.42,1012.96 398.88,1029.33 411.34,1027.98 423.79,1043.96 436.25,1053 448.7,1050.44 461.15,1061.81 473.61,1079.71 486.06,1075.57 498.52,1091.82 510.98,1108.62 523.43,1099.99 535.88,1120.25 548.34,1119.48 560.79,1133.45"/>
<polyline points="199.6,859.4 212.06,904.31 224.51,884.18 236.97,905.17 249.42,901.52 261.88,931.71 274.33,934.38 286.78,932.42 299.24,941.05 311.69,962.66 324.15,954.58 336.61,974.8 349.06,981.56 361.51,990.39 373.97,1016.1 386.42,1017.62 398.88,1038.24 411.34,1034.97 423.79,1054.76 436.25,1063.32 448.7,1060.42 461.15,1064.57 473.61,1083.74 486.06,1085.9 498.52,1094.37 510.98,1101.91 523.43,1102.19 535.88,1118.29 548.34,1119.58 560.79,1123.36"/>
<polyline points="199.6,855.33 212.06,915.52 224.51,895.33 236.97,910.83 249.42,909.97 261.88,943.21 274.33,939.45 286.78,939.97 299.24,955.57 311.69,963.22 324.15,968.73 336.61,977.63 349.06,987.85 361.51,1000.03 373.97,1021.22 386.42,1022.94 398.88,1032.74 411.34,1041.49 423.79,1059.44 436.25,1072.8 448.7,1071.55 461.15,1087.26 473.61,1094.89 486.06,1103.56 498.52,1099.43 510.98,1112.3 523.43,1124.06 535.88,1147.87 548.34,1151.3 560.79,1159.85"/>
<polyline points="199.6,857.12 212.06,908.77 224.51,890.63 236.97,910.56 249.42,906.69 261.88,939.37 274.33,935.31 286.78,937.92 299.24,947.81 311.69,961.2 324.15,962.71 336.61,973.99 349.06,983.57 361.51,1000.39 373.97,1011.93 386.42,1032.04 398.88,1030.02 411.34,1041.19 423.79,1049 436.25,1045.59 448.7,1060.16 461.15,1073.78 473.61,1065.1 486.06,1087.25 498.52,1086.34 510.98,1099.2 523.43,1111.94 535.88,1114.2 548.34,1134.49 560.79,1137.83"/>
<polyline points="199.6,858.77 212.06,910.79 224.51,888.11 236.97,906.39 249.42,905.3 261.88,935.21 274.33,930.64 286.78,935.03 299.24,948.06 311.69,965.58 324.15,969.82 336.61,970.99 349.06,979.18 361.51,996.74 373.97,1021.34 386.42,1022.88 398.88,1031.9 411.34,1028.93 423.79,1049.43 436.25,1060.79 448.7,1066.29 461.15,1071.14 473.61,1086.36 486.06,1094.67 498.52,1117.23 510.98,1116.43 523.43,1126.2 535.88,1138.26 548.34,1151.47 560.79,1162.35"/>
<polyline points="199.6,859.66 212.06,905.77 224.51,895.95 236.97,902.69 249.42,907.23 261.88,939.99 274.33,933.72 286.78,930.13 299.24,948.76 311.69,964.83 324.15,962.08 336.61,969.22 349.06,984.91 361.51,992.86 373.97,1019.73 386.42,1014.64 398.88,1023.68 411.34,1037.09 423.79,1055.31 436.25,1059.24 448.7,1065.09 461.15,1076.49 473.61,1081.61 486.06,1101.7 498.52,1103.99 510.98,1113.17 523.43,1110.23 535.88,1120.5 548.34,1128.56 560.79,1147.37"/>
<polyline points="199.6,858.3 212.06,902.7 224.51,891.08 236.97,902.55 249.42,903.67 261.88,934.79 274.33,938.55 286.78,938.35 299.24,951.04 311.69,964.04 324.15,961.74 336.61,978.36 349.06,986.66 361.51,993.1 373.97,1018.18 386.42,1019.03 398.88,1029.46 411.34,1036.15 423.79,1046.96 436.25,1059.85 448.7,1072.63 461.15,1083.27 473.61,1094.25 486.06,1102.24 498.52,1108.63 510.98,1130.02 523.43,1126.19 535.88,1152.56 548.34,1165.54 560.79,1172.86"/>
<polyline points="199.6,857.92 212.06,903.78 224.51,890.35 236.97,911.41 249.42,905.07 261.88,931.62 274.33,928.56 286.78,934.24 299.24,952.02 311.69,967.96 324.15,966 336.61,972.42 349.06,990.19 361.51,994.61 373.97,1022.78 386.42,1020.39 398.88,1032.24 411.34,1037.29 423.79,1047.76 436.25,1056.36 448.7,1061.87 461.15,1075.54 473.61,1083.81 486.06,1096.5 498.52,1102.73 510.98,1111.06 523.43,1120.72 535.88,1133.33 548.34,1159.16 560.79,1150.22"/>
<polyline points="199.6,861.97 212.06,905.15 224.51,891.71 236.97,908.17 249.42,903.79 261.88,938.95 274.33,928.68 286.78,935.45 299.24,951.18 311.69,958.79 324.15,960.5 336.61,977.23 349.06,981.56 361.51,999.91 373.97,1020.18 386.42,1019.57 398.88,1031.14 411.34,1041.86 423.79,1047.06 436.25,1054.06 448.7,1064.16 461.15,1076.65 473.61,1084.26 486.06,1094.59 498.52,1100.89 510.98,1109.62 523.43,1110.2 535.88,1117.22 548.34,1137.03 560.79,1134.52"/>
<polyline points="199.6,856.34 212.06,901.44 224.51,889.79 236.97,906.92 249.42,905.07 261.88,937.33 274.33,928.22 286.78,934.39 299.24,948.07 311.69,960.51 324.15,966.64 336.61,965.86 349.06,983.8 361.51,995.5 373.97,1009.15 386.42,1016.8 398.88,1034.52 411.34,1031.3 423.79,1042.32 436.25,1050.32 448.7,1052.79 461.15,1058.81 473.61,1073.17 486.06,1089.8 498.52,1095.7 510.98,1097.68 523.43,1113.81 535.88,1118.87 548.34,1122.69 560.79,1142"/>
<polyline points="199.6,859.63 212.06,902.19 224.51,889.98 236.97,896.95 249.42,906.41 261.88,934.78 274.33,928.67 286.78,928.6 299.24,945.07 311.69,966.09 324.15,964.62 336.61,971.18 349.06,983.91 361.51,994.3 373.97,1015.24 386.42,1019.42 398.88,1029.5 411.34,1034.31 423.79,1035.87 436.25,1054.04 448.7,1056.96 461.15,1068.42 473.61,1076.28 486.06,1084.26 498.52,1092.38 510.98,1106.72 523.43,1108.53 535.88,1116.64 548.34,1138.59 560.79,1146.33"/>
<polyline points="199.6,859.9 212.06,908.72 224.51,889.91 236.97,904.24 249.42,902.44 261.88,937.56 274.33,938.44 286.78,929.87 299.24,951.65 311.69,965.9 324.15,965.46 336.61,973.8 349.06,980.65 361.51,993.85 373.97,1017.9 386.42,1022.54 398.88,1032.44 411.34,1045.34 423.79,1052.36 436.25,1062.44 448.7,1077.5 461.15,1087.39 473.61,1090.06 486.06,1111.29 498.52,1110.81 510.98,1120.45 523.43,1141.2 535.88,1128.38 548.34,1149.81 560.79,1167.59"/>
<polyline points="199.6,850.29 212.06,907.51 224.51,892.93 236.97,905.47 249.42,911.92 261.88,939.82 274.33,935.37 286.78,937.8 299.24,958.75 311.69,966.13 324.15,963.7 336.61,974.82 349.06,982.91 361.51,993.37 373.97,1016.76 386.42,1019.45 398.88,1030.03 411.34,1034.44 423.79,1048.72 436.25,1050.86 448.7,1064.32 461.15,1070.31 473.61,1080.57 486.06,1076.93 498.52,1105.46 510.98,1101.61 523.43,1112.52 535.88,1130.49 548.34,1134.87 560.79,1144.4"/>
<polyline points="199.6,854.9 212.06,908.9 224.51,886.75 236.97,906.9 249.42,905.43 261.88,933.51 274.33,932.96 286.78,931.57 299.24,950.42 311.69,958.14 324.15,962.64 336.61,981.06 349.06,981.85 361.51,988.97 373.97,1021.2 386.42,1016.79 398.88,1017.69 411.34,1038.97 423.79,1051.42 436.25,1061.97 448.7,1073.24 461.15,1074.34 473.61,1085.86 486.06,1087.56 498.52,1100.55 510.98,1115.34 523.43,1121.95 535.88,1131.9 548.34,1133.41 560.79,1147.85"/>
<polyline points="199.6,855.51 212.06,909.36 224.51,897.29 236.97,903.85 249.42,908.64 261.88,939.28 274.33,930.16 286.78,931.5 299.24,949.14 311.69,964.77 324.15,971.23 336.61,976.31 349.06,985.6 361.51,997.98 373.97,1018.19 386.42,1023.21 398.88,1034.49 411.34,1042.21 423.79,1053.32 436.25,1064.97 448.7,1074.1 461.15,1079.93 473.61,1099.86 486.06,1099.95 498.52,1111 510.98,1119.28 523.43,1134.82 535.88,1148.5 548.34,1162.42 560.79,1166.62"/>
<polyline points="199.6,855.02 212.06,905.3 224.51,887.27 236.97,906.16 249.42,908.24 261.88,932.51 274.33,930.29 286.78,935.86 299.24,949.79 311.69,970.04 324.15,969.55 336.61,977.72 349.06,991.76 361.51,994.81 373.97,1016.95 386.42,1015.42 398.88,1032.55 411.34,1042.96 423.79,1053.9 436.25,1060.88 448.7,1064.49 461.15,1070.95 473.61,1079.08 486.06,1095.77 498.52,1108.01 510.98,1099.9 523.43,1109.1 535.88,1140.79 548.34,1139.82 560.79,1160.12"/>
<polyline points="199.6,869.99 212.06,915.5 224.51,886.54 236.97,906.9 249.42,909.35 261.88,940.12 274.33,939.14 286.78,932.65 299.24,948.42 311.69,966.78 324.15,967.78 336.61,983.35 349.06,986.46 361.51,999.04 373.97,1020.05 386.42,1019.83 398.88,1033.02 411.34,1040.48 423.79,1051.15 436.25,1064.96 448.7,1074.09 461.15,1076.27 473.61,1086.89 486.06,1108.95 498.52,1116.38 510.98,1122.22 523.43,1137.36 535.88,1139.44 548.34,1173.43 560.79,1157.54"/>
<polyline points="199.6,864.88 212.06,903.28 224.51,895.78 236.97,904.16 249.42,903.55 261.88,935.45 274.33,932.4 286.78,929.44 299.24,949.76 311.69,961 324.15,972.57 336.61,984.16 349.06,979.34 361.51,992.82 373.97,1013.06 386.42,1016.33 398.88,1027.6 411.34,1037.37 423.79,1051.66 436.25,1055.22 448.7,1059.91 461.15,1067.86 473.61,1091.7 486.06,1101.53 498.52,1097.05 510.98,1107.72 523.43,1125.83 535.88,1144.71 548.34,1158.73 560.79,1157.25"/>
<polyline points="199.6,861.36 212.06,914.4 224.51,896.47 236.97,906.53 249.42,907.08 261.88,936.89 274.33,931.61 286.78,935.48 299.24,948.67 311.69,962.3 324.15,971.21 336.61,973.15 349.06,988.78 361.51,998.6 373.97,1021.14 386.42,1023.81 398.88,1036.5 411.34,1041.75 423.79,1050.57 436.25,1061.01 448.7,1067.55 461.15,1072.18 473.61,1086.99 486.06,1103.61 498.52,1106.31 510.98,1122.09 523.43,1124.17 535.88,1151.59 548.34,1159.08 560.79,1169.08"/>
<polyline points="199.6,866.6 212.06,913.77 224.51,895.2 236.97,899.09 249.42,907.87 261.88,934.47 274.33,931.1 286.78,933.07 299.24,956.95 311.69,957.84 324.15,966.78 336.61,981.54 349.06,988.88 361.51,992 373.97,1018.62 386.42,1020 398.88,1033.09 411.34,1048.51 423.79,1052.42 436.25,1067.98 448.7,1080.14 461.15,1074.51 473.61,1091 486.06,1104.83 498.52,1105.14 510.98,1118.3 523.43,1122.85 535.88,1140.19 548.34,1150.01 560.79,1170.52"/>
<polyline points="199.6,865.39 212.06,904.95 224.51,894.91 236.97,908.61 249.42,903.26 261.88,931.91 274.33,936.75 286.78,931.17 299.24,952.4 311.69,961.93 324.15,968.89 336.61,985.4 349.06,991.54 361.51,1001.18 373.97,1012.31 386.42,1021.63 398.88,1032.32 411.34,1040.5 423.79,1055.51 436.25,1055.98 448.7,1069.6 461.15,1079.23 473.61,1084.39 486.06,1107.87 498.52,1099.52 510.98,1115.55 523.43,1125.32 535.88,1125.58 548.34,1141.61 560.79,1153.6"/>
<polyline points="199.6,867.28 212.06,908.52 224.51,890.33 236.97,909.23 249.42,903.45 261.88,939.54 274.33,925.32 286.78,931.27 299.24,958.56 311.69,966.47 324.15,966.55 336.61,986.69 349.06,990.87 361.51,1003.97 373.97,1017.33 386.42,1024.04 398.88,1034.96 411.34,1036.61 423.79,1055.61 436.25,1065.85 448.7,1077.83 461.15,1086.82 473.61,1089.45 486.06,1099.45 498.52,1112.42 510.98,1129.19 523.43,1130.65 535.88,1140.63 548.34,1159.04 560.79,1167.83"/>
<polyline points="199.6,858.24 212.06,902.33 224.51,886.23 236.97,912.05 249.42,904.03 261.88,938.07 274.33,935.29 286.78,933.67 299.24,950.22 311.69,962.42 324.15,965.23 336.61,975.53 349.06,984.89 361.51,992.94 373.97,1011.87 386.42,1016.44 398.88,1031.83 411.34,1044.64 423.79,1053.27 436.25,1064.64 448.7,1072.63 461.15,1075.3 473.61,1091.43 486.06,1100.96 498.52,1108.26 510.98,1121.32 523.43,1133.9 535.88,1156.89 548.34,1153.94 560.79,1166.55"/>
<polyline points="199.6,867.53 212.06,904.8 224.51,897.46 236.97,908.5 249.42,909.05 261.88,940.16 274.33,932.24 286.78,940.15 299.24,944.81 311.69,970.98 324.15,963.21 336.61,974.72 349.06,983.45 361.51,1001.56 373.97,1021.46 386.42,1022.51 398.88,1034.59 411.34,1045.55 423.79,1053.1 436.25,1056.92 448.7,1063.01 461.15,1070.61 473.61,1091.13 486.06,1101.09 498.52,1106.04 510.98,1118.62 523.43,1121.26 535.88,1125.66 548.34,1137.66 560.79,1144.26"/>
<polyline points="199.6,856.94 212.06,909.9 224.51,895.31 236.97,908.01 249.42,905.75 261.88,938.46 274.33,940.95 286.78,936.96 299.24,949.03 311.69,965.5 324.15,963.43 336.61,977.67 349.06,984.94 361.51,1002.75 373.97,1018.91 386.42,1025.63 398.88,1042.64 411.34,1043.18 423.79,1049.63 436.25,1067.29 448.7,1070.41 461.15,1081.82 473.61,1089.65 486.06,1107.2 498.52,1113.49 510.98,1112.23 523.43,1131.99 535.88,1147.7 548.34,1170.13 560.79,1163.46"/>
<polyline points="199.6,862.84 212.06,907.89 224.51,891.7 236.97,913.31 249.42,907.65 261.88,936.05 274.33,931.71 286.78,936.37 299.24,954.78 311.69,968.25 324.15,964.94 336.61,984.08 349.06,985.65 361.51,994.74 373.97,1019.41 386.42,1018.24 398.88,1030.26 411.34,1041.56 423.79,1053.55 436.25,1065.5 448.7,1066.55 461.15,1086.51 473.61,1089.79 486.06,1108.54 498.52,1111.75 510.98,1123.95 523.43,1133.37 535.88,1147.39 548.34,1150.64 560.79,1157.03"/>
<polyline points="199.6,862.42 212.06,894.61 224.51,886.81 236.97,903.65 249.42,903.35 261.88,931.77 274.33,927.31 286.78,931.52 299.24,948.23 311.69,957.81 324.15,964.18 336.61,970.37 349.06,979.28 361.51,994.02 373.97,1008.72 386.42,1020.36 398.88,1021.55 411.34,1031.34 423.79,1032.47 436.25,1058.3 448.7,1058.59 461.15,1057.51 473.61,1067.45 486.06,1073.46 498.52,1087.71 510.98,1099.89 523.43,1116.36 535.88,1104.51 548.34,1120.57 560.79,1115.9"/>
<polyline points="199.6,855.08 212.06,906.88 224.51,889.91 236.97,912.06 249.42,908.37 261.88,938.97 274.33,930.89 286.78,936.61 299.24,945.61 311.69,955.53 324.15,967.26 336.61,974.28 349.06,988.23 361.51,1004.72 373.97,1018.31 386.42,1028.32 398.88,1029.82 411.34,1045.84 423.79,1048.05 436.25,1068.5 448.7,1073.65 461.15,1083.14 473.61,1094.15 486.06,1089.35 498.52,1106.49 510.98,1113.2 523.43,1130.63 535.88,1141.76 548.34,1151.68 560.79,1158.65"/>
<polyline points="199.6,862.84 212.06,899.16 224.51,892.23 236.97,906.86 249.42,907.31 261.88,934.91 274.33,929.64 286.78,934.94 299.24,947.33 311.69,970.64 324.15,965.17 336.61,973.27 349.06,985.15 361.51,992.96 373.97,1016.71 386.42,1020.28 398.88,1030.81 411.34,1043.08 423.79,1057.14 436.25,1068.24 448.7,1066.33 461.15,1081.28 473.61,1096.34 486.06,1100.31 498.52,1111.64 510.98,1118.53 523.43,1133.17 535.88,1137.39 548.34,1155 560.79,1160.61"/>
<polyline points="199.6,862.69 212.06,907.16 224.51,895.37 236.97,897.46 249.42,904.99 261.88,934.55 274.33,936.02 286.78,934.1 299.24,944.8 311.69,960.76 324.15,962.35 336.61,970.72 349.06,983.16 361.51,993.38 373.97,1016.7 386.42,1012.43 398.88,1039.47 411.34,1041.15 423.79,1047.17 436.25,1051.32 448.7,1052.84 461.15,1063.52 473.61,1077.85 486.06,1099.7 498.52,1101.18 510.98,1104.3 523.43,1123.64 535.88,1137.12 548.34,1137.32 560.79,1152.65"/>
<polyline points="199.6,868.54 212.06,901.11 224.51,889.08 236.97,904.47 249.42,905.1 261.88,933.68 274.33,926.74 286.78,931.32 299.24,950.3 311.69,965.04 324.15,961.15 336.61,972.45 349.06,975.99 361.51,993.69 373.97,1030.4 386.42,1018.63 398.88,1028.63 411.34,1034.24 423.79,1041.29 436.25,1051.79 448.7,1063.51 461.15,1070.46 473.61,1089.52 486.06,1086.08 498.52,1103.98 510.98,1121.51 523.43,1111.62 535.88,1138.34 548.34,1142.29 560.79,1164.84"/>
<polyline points="460.8,1080 473.3,1090 485,1121.7 498.3,1133.3 510.8,1147 523.3,1160 536.7,1166.7 548.3,1181.7 560.8,1199.2"/>
<polyline points="423.3,1050 435.8,1085 448.3,1083.3 460.8,1109.2 473.3,1093.3 485.8,1100"/>
<polyline points="498.3,1112 510.8,1128 523.3,1150 535.8,1163 548.3,1180 560.8,1178"/>
</g>
<g stroke="#0000ff" fill="#0000ff">
<path d="M411.34 1033.5V1045.5" stroke-width="4.2"/>
<path d="M407.14 1033.5H415.54M407.14 1045.5H415.54" stroke-width="3.2"/>
<path d="M423.79 1041.2V1055.2" stroke-width="4.2"/>
<path d="M419.59 1041.2H427.99M419.59 1055.2H427.99" stroke-width="3.2"/>
<path d="M436.25 1053.5V1069.5" stroke-width="4.2"/>
<path d="M432.05 1053.5H440.44M432.05 1069.5H440.44" stroke-width="3.2"/>
<path d="M448.7 1057.5V1075.5" stroke-width="4.2"/>
<path d="M444.5 1057.5H452.9M444.5 1075.5H452.9" stroke-width="3.2"/>
<path d="M461.15 1065V1085" stroke-width="4.2"/>
<path d="M456.95 1065H465.35M456.95 1085H465.35" stroke-width="3.2"/>
<path d="M473.61 1075V1095" stroke-width="4.2"/>
<path d="M469.41 1075H477.81M469.41 1095H477.81" stroke-width="3.2"/>
<path d="M486.06 1084V1106" stroke-width="4.2"/>
<path d="M481.86 1084H490.26M481.86 1106H490.26" stroke-width="3.2"/>
<path d="M498.52 1091.7V1113.3" stroke-width="4.2"/>
<path d="M494.32 1091.7H502.72M494.32 1113.3H502.72" stroke-width="3.2"/>
<path d="M510.98 1100.8V1124.2" stroke-width="4.2"/>
<path d="M506.78 1100.8H515.18M506.78 1124.2H515.18" stroke-width="3.2"/>
<path d="M523.43 1107.7V1135.7" stroke-width="4.2"/>
<path d="M519.23 1107.7H527.63M519.23 1135.7H527.63" stroke-width="3.2"/>
<path d="M535.88 1119.5V1145.5" stroke-width="4.2"/>
<path d="M531.68 1119.5H540.09M531.68 1145.5H540.09" stroke-width="3.2"/>
<path d="M548.34 1126.7V1161.7" stroke-width="4.2"/>
<path d="M544.14 1126.7H552.54M544.14 1161.7H552.54" stroke-width="3.2"/>
<path d="M560.79 1135.7V1167.7" stroke-width="4.2"/>
<path d="M556.59 1135.7H565M556.59 1167.7H565" stroke-width="3.2"/>
<circle cx="199.6" cy="866" r="8.3" stroke="none"/>
<circle cx="212.06" cy="905.8" r="8.3" stroke="none"/>
<circle cx="224.51" cy="892.2" r="8.3" stroke="none"/>
<circle cx="236.97" cy="906.3" r="8.3" stroke="none"/>
<circle cx="249.42" cy="906" r="8.3" stroke="none"/>
<circle cx="261.88" cy="936" r="8.3" stroke="none"/>
<circle cx="274.33" cy="933.8" r="8.3" stroke="none"/>
<circle cx="286.78" cy="935.5" r="8.3" stroke="none"/>
<circle cx="299.24" cy="950.5" r="8.3" stroke="none"/>
<circle cx="311.69" cy="963.3" r="8.3" stroke="none"/>
<circle cx="324.15" cy="968" r="8.3" stroke="none"/>
<circle cx="336.61" cy="975.5" r="8.3" stroke="none"/>
<circle cx="349.06" cy="984.7" r="8.3" stroke="none"/>
<circle cx="361.51" cy="997.2" r="8.3" stroke="none"/>
<circle cx="373.97" cy="1017.2" r="8.3" stroke="none"/>
<circle cx="386.42" cy="1019.7" r="8.3" stroke="none"/>
<circle cx="398.88" cy="1031.3" r="8.3" stroke="none"/>
<circle cx="411.34" cy="1039.5" r="8.3" stroke="none"/>
<circle cx="423.79" cy="1048.2" r="8.3" stroke="none"/>
<circle cx="436.25" cy="1061.5" r="8.3" stroke="none"/>
<circle cx="448.7" cy="1066.5" r="8.3" stroke="none"/>
<circle cx="461.15" cy="1075" r="8.3" stroke="none"/>
<circle cx="473.61" cy="1085" r="8.3" stroke="none"/>
<circle cx="486.06" cy="1095" r="8.3" stroke="none"/>
<circle cx="498.52" cy="1102.5" r="8.3" stroke="none"/>
<circle cx="510.98" cy="1112.5" r="8.3" stroke="none"/>
<circle cx="523.43" cy="1121.7" r="8.3" stroke="none"/>
<circle cx="535.88" cy="1132.5" r="8.3" stroke="none"/>
<circle cx="548.34" cy="1144.2" r="8.3" stroke="none"/>
<circle cx="560.79" cy="1151.7" r="8.3" stroke="none"/>
</g>
<line x1="198.7" y1="876.3" x2="561.7" y2="1152" stroke="#000" stroke-width="5.1"/>
<g stroke="#000" stroke-width="3.6" fill="none">
<line x1="249.2" y1="1305" x2="249.2" y2="1319.6"/>
<line x1="469.2" y1="1305" x2="469.2" y2="1319.6"/>
<line x1="124.2" y1="955.8" x2="139.2" y2="955.8"/>
<line x1="124.2" y1="1130.4" x2="139.2" y2="1130.4"/>
<line x1="124.2" y1="1305" x2="139.2" y2="1305"/>
<rect x="139.2" y="825.1" width="483.9" height="479.9" stroke-width="3.6"/>
</g>
<text x="114.4" y="970.8" font-size="41.67" text-anchor="end">−2</text>
<text x="114.4" y="1145.4" font-size="41.67" text-anchor="end">−4</text>
<text x="114.4" y="1320" font-size="41.67" text-anchor="end">−6</text>
<text x="253.2" y="1364.2" font-size="41.67" text-anchor="middle">0</text>
<text x="473.2" y="1364.2" font-size="41.67" text-anchor="middle">1</text>
<text x="227.3" y="1420.7" font-size="46.5">log</text>
<text x="291.5" y="1432.5" font-size="29.3">10</text>
<text x="325.3" y="1420.7" font-size="41.8">[duration[s]]</text>
<g transform="translate(31.9 1170.2) rotate(-90)">
<text x="0" y="0" font-size="46.5">log</text>
<text x="64.2" y="11.8" font-size="29.3">10</text>
<text x="98" y="0" font-size="41.8">[NPD]</text>
</g>
<text x="235.4" y="809.7" font-size="45.83" xml:space="preserve">Fed wild-type</text>
<text x="582.8" y="877.3" font-size="50" font-weight="bold">b</text>
<text x="159.8" y="1281.4" font-size="37.9">inactive</text>
<text x="99" y="1486.6" font-size="37.8">inactive:</text>
<text x="247.4" y="1486.6" class="dj it" font-size="37.5">y</text>
<text x="276.3" y="1486.6" class="dj" font-size="39">=</text>
<text x="322.2" y="1486.6" class="dj" font-size="39">−</text>
<text x="361.6" y="1486.6" class="dj" font-size="37.5">1.92</text>
<text x="445.2" y="1486.6" class="dj it" font-size="37.5">x</text>
<text x="474" y="1486.6" class="dj" font-size="39">−</text>
<text x="513.3" y="1486.6" class="dj" font-size="37.5">1.56</text>
</g>
<g id="panel-c">
<g stroke="#b0b0b0" stroke-width="3.4" fill="none">
<line x1="748.1" y1="187.9" x2="1232" y2="187.9"/>
<line x1="748.1" y1="362.5" x2="1232" y2="362.5"/>
<line x1="748.1" y1="537.1" x2="1232" y2="537.1"/>
<line x1="858.1" y1="57.2" x2="858.1" y2="537.1"/>
<line x1="858.3" y1="537.1" x2="858.3" y2="551.7" stroke="#c4c4c4" stroke-width="1.4"/>
<line x1="1078.1" y1="57.2" x2="1078.1" y2="537.1"/>
<line x1="1078.3" y1="537.1" x2="1078.3" y2="551.7" stroke="#c4c4c4" stroke-width="1.4"/>
</g>
<clipPath id="cp-c"><rect x="744.1" y="57.2" width="483.9" height="479.9"/></clipPath>
<g stroke="#808080" stroke-width="2.1" fill="none" stroke-linejoin="miter" clip-path="url(#cp-c)">
<polyline points="804.5,85.85 816.96,143.21 829.41,131.96 841.87,141.2 854.32,140.63 866.77,157.69 879.23,152.96 891.68,166.51 904.14,190.63 916.6,199.31 929.05,213.23 941.5,218.67 953.96,233.41 966.41,249.33 978.87,261.36 991.33,258.83 1003.78,273.85 1016.24,286.53 1028.69,271.59 1041.14,310.43 1053.6,308.63 1066.06,292.72 1078.51,292.31 1090.96,353.93 1103.42,320.91 1115.88,327.77 1128.33,344.15 1140.79,343.82 1153.24,338.55 1165.69,347.06"/>
<polyline points="804.5,99.36 816.96,144.21 829.41,119.75 841.87,129.26 854.32,141.66 866.77,162.39 879.23,161.64 891.68,176.37 904.14,197.78 916.6,209.04 929.05,220.54 941.5,220.16 953.96,239.51 966.41,237.94 978.87,253.61 991.33,265.05 1003.78,293.73 1016.24,305.11 1028.69,287.9 1041.14,319.36 1053.6,304.62 1066.06,320.22 1078.51,307.48 1090.96,328.05 1103.42,320.43 1115.88,322.81 1128.33,327.6 1140.79,339.59 1153.24,335.1 1165.69,327.03"/>
<polyline points="804.5,90.95 816.96,139.35 829.41,125.12 841.87,147.25 854.32,135.73 866.77,165.01 879.23,162.55 891.68,167.09 904.14,190.63 916.6,201.57 929.05,217.14 941.5,211.3 953.96,218.5 966.41,237.19 978.87,261.69 991.33,253.78 1003.78,263.51 1016.24,271.77 1028.69,282.06 1041.14,288.17 1053.6,297.4 1066.06,272.22 1078.51,322.92 1090.96,314.22 1103.42,302.26 1115.88,337.89 1128.33,328.77 1140.79,349.53 1153.24,322.55 1165.69,363.48"/>
<polyline points="804.5,87.75 816.96,136.58 829.41,119.19 841.87,142.2 854.32,129.12 866.77,170.66 879.23,164.25 891.68,164.78 904.14,186.58 916.6,200.94 929.05,216.37 941.5,205.55 953.96,209.87 966.41,212.86 978.87,238.07 991.33,231.27 1003.78,260.74 1016.24,273.37 1028.69,263.42 1041.14,270.75 1053.6,297.97 1066.06,282.27 1078.51,290.98 1090.96,303.64 1103.42,278.55 1115.88,292.77 1128.33,340.09 1140.79,311.76 1153.24,312.22 1165.69,323.19"/>
<polyline points="804.5,90.13 816.96,143.68 829.41,131.46 841.87,137.71 854.32,133.68 866.77,159.33 879.23,164.72 891.68,167.29 904.14,187.16 916.6,203.03 929.05,208.82 941.5,210.88 953.96,213.68 966.41,224.69 978.87,245.3 991.33,257.96 1003.78,264.17 1016.24,271.76 1028.69,294.4 1041.14,284.71 1053.6,291.58 1066.06,285.56 1078.51,284.38 1090.96,280.46 1103.42,296.47 1115.88,300.73 1128.33,328 1140.79,309.01 1153.24,328.38 1165.69,344.23"/>
<polyline points="804.5,88.05 816.96,138.3 829.41,123.8 841.87,135.16 854.32,136.3 866.77,168.17 879.23,168.01 891.68,166.29 904.14,194.84 916.6,210.72 929.05,220.83 941.5,219.83 953.96,234.26 966.41,247.22 978.87,248.27 991.33,267.54 1003.78,259.43 1016.24,264.68 1028.69,280.62 1041.14,279.08 1053.6,308.46 1066.06,316.47 1078.51,304.39 1090.96,310.25 1103.42,314.58 1115.88,319.92 1128.33,328.58 1140.79,345.96 1153.24,339.74 1165.69,339.97"/>
<polyline points="804.5,88.16 816.96,131.33 829.41,125.28 841.87,134.55 854.32,125.82 866.77,170.75 879.23,167 891.68,163.64 904.14,190.06 916.6,211.16 929.05,214.4 941.5,215.36 953.96,228.41 966.41,240.08 978.87,254.45 991.33,270.85 1003.78,274.4 1016.24,278.41 1028.69,291.27 1041.14,282.1 1053.6,326.08 1066.06,283.86 1078.51,310.07 1090.96,321.45 1103.42,328.63 1115.88,330.95 1128.33,345.07 1140.79,323.78 1153.24,342.9 1165.69,351.2"/>
<polyline points="804.5,95.72 816.96,134.38 829.41,125.32 841.87,132.12 854.32,141.3 866.77,169.91 879.23,155.84 891.68,167.52 904.14,193.54 916.6,204.41 929.05,204.96 941.5,208.56 953.96,231.71 966.41,247.42 978.87,240.95 991.33,258.12 1003.78,262.51 1016.24,272.6 1028.69,283.33 1041.14,288.65 1053.6,281.67 1066.06,320.31 1078.51,296.87 1090.96,303.59 1103.42,327.78 1115.88,320.58 1128.33,321.39 1140.79,348.29 1153.24,326.86 1165.69,354.23"/>
<polyline points="804.5,96.31 816.96,137.88 829.41,127.81 841.87,141.01 854.32,131.16 866.77,164.38 879.23,162.78 891.68,177.07 904.14,200.84 916.6,211.38 929.05,211.11 941.5,223.29 953.96,226.44 966.41,243.2 978.87,260.55 991.33,262.81 1003.78,278.41 1016.24,279.22 1028.69,277.95 1041.14,311.03 1053.6,303.93 1066.06,293.44 1078.51,292.89 1090.96,310.83 1103.42,319.19 1115.88,330.33 1128.33,341.96 1140.79,338.14 1153.24,327.09 1165.69,370.11"/>
<polyline points="804.5,90.5 816.96,142.04 829.41,121.7 841.87,138.2 854.32,146.21 866.77,160.76 879.23,159.05 891.68,161.44 904.14,191.19 916.6,204.74 929.05,227.93 941.5,227.28 953.96,225.23 966.41,255.36 978.87,264.03 991.33,265.37 1003.78,283.53 1016.24,289.18 1028.69,279.82 1041.14,278.72 1053.6,291.07 1066.06,304.16 1078.51,303.76 1090.96,302.34 1103.42,330.09 1115.88,311.47 1128.33,336.11 1140.79,328.99 1153.24,345.1 1165.69,329.68"/>
<polyline points="804.5,87.86 816.96,140.55 829.41,117.4 841.87,146.71 854.32,139.48 866.77,163.33 879.23,163.69 891.68,171.54 904.14,184.07 916.6,196.85 929.05,221.7 941.5,214.75 953.96,235.13 966.41,229.86 978.87,252.83 991.33,249.88 1003.78,273.64 1016.24,273.66 1028.69,273.06 1041.14,309.68 1053.6,297.81 1066.06,268.34 1078.51,295.45 1090.96,289.45 1103.42,286.93 1115.88,301.89 1128.33,306.38 1140.79,319.26 1153.24,321.17 1165.69,309.03"/>
<polyline points="804.5,89.08 816.96,142.16 829.41,124.01 841.87,142.93 854.32,142.99 866.77,162.44 879.23,174.46 891.68,169.33 904.14,197.29 916.6,209.19 929.05,218.49 941.5,220.75 953.96,223.45 966.41,229.29 978.87,257.11 991.33,265.24 1003.78,250.21 1016.24,263.11 1028.69,283.8 1041.14,297 1053.6,309.96 1066.06,286.56 1078.51,310.7 1090.96,303.7 1103.42,307.59 1115.88,319.84 1128.33,337.89 1140.79,340.25 1153.24,352.23 1165.69,335.26"/>
<polyline points="804.5,87.81 816.96,138.38 829.41,130.27 841.87,144.57 854.32,132.59 866.77,149.12 879.23,164.01 891.68,168.43 904.14,184.23 916.6,208.11 929.05,207.22 941.5,214.79 953.96,218.08 966.41,234.19 978.87,240.78 991.33,249.55 1003.78,278.15 1016.24,278.06 1028.69,260.73 1041.14,295.45 1053.6,305.22 1066.06,283.12 1078.51,293.84 1090.96,303.53 1103.42,302.4 1115.88,311.62 1128.33,321.08 1140.79,312.3 1153.24,357.05 1165.69,321.1"/>
<polyline points="804.5,93.32 816.96,139.47 829.41,124.98 841.87,147.84 854.32,138.73 866.77,167.04 879.23,161.19 891.68,167.25 904.14,189.41 916.6,215.79 929.05,220.13 941.5,219.88 953.96,237.74 966.41,241.79 978.87,256.25 991.33,275.95 1003.78,294.04 1016.24,291.26 1028.69,286.45 1041.14,306.65 1053.6,344.04 1066.06,308.83 1078.51,336.39 1090.96,325.74 1103.42,346.24 1115.88,338.18 1128.33,321.7 1140.79,351.13 1153.24,385.94 1165.69,361.38"/>
<polyline points="804.5,82.09 816.96,148.31 829.41,124.52 841.87,138.77 854.32,148.47 866.77,160.06 879.23,160.69 891.68,167.24 904.14,196.45 916.6,203.29 929.05,215.52 941.5,213.93 953.96,220.33 966.41,237.97 978.87,251.16 991.33,247.67 1003.78,261.89 1016.24,271.28 1028.69,292.28 1041.14,296.84 1053.6,297.04 1066.06,300.91 1078.51,292.76 1090.96,306.38 1103.42,294.19 1115.88,290.59 1128.33,302.2 1140.79,322.32 1153.24,334.52 1165.69,352.22"/>
<polyline points="804.5,93.87 816.96,134.03 829.41,125.67 841.87,150.93 854.32,137.92 866.77,170.3 879.23,163.46 891.68,169.22 904.14,196.31 916.6,206.61 929.05,212.27 941.5,221.94 953.96,228.59 966.41,239.18 978.87,238.6 991.33,257.74 1003.78,282.5 1016.24,289.99 1028.69,286.43 1041.14,283.12 1053.6,283.02 1066.06,297.6 1078.51,315.89 1090.96,301.51 1103.42,321.99 1115.88,308.13 1128.33,328.75 1140.79,310.18 1153.24,334.22 1165.69,318.8"/>
<polyline points="804.5,88.41 816.96,138.95 829.41,122.31 841.87,145.01 854.32,138.1 866.77,165.09 879.23,158.76 891.68,170.78 904.14,198.87 916.6,207.02 929.05,226.06 941.5,215.9 953.96,232.22 966.41,228.12 978.87,240.44 991.33,283.15 1003.78,288.2 1016.24,297.08 1028.69,270.2 1041.14,302.52 1053.6,306.99 1066.06,302.07 1078.51,309.85 1090.96,298.05 1103.42,313.93 1115.88,306.94 1128.33,318.16 1140.79,333.12 1153.24,327.66 1165.69,335.98"/>
<polyline points="804.5,85.58 816.96,131.35 829.41,119.18 841.87,135.23 854.32,142.16 866.77,163.35 879.23,165.96 891.68,167.59 904.14,188.47 916.6,209.08 929.05,215.96 941.5,216.47 953.96,220.83 966.41,233.67 978.87,243.16 991.33,260.15 1003.78,274.56 1016.24,297.61 1028.69,301.35 1041.14,303.28 1053.6,309.48 1066.06,301.56 1078.51,338.85 1090.96,327.32 1103.42,347.74 1115.88,324.31 1128.33,325.95 1140.79,342.67 1153.24,337.91 1165.69,338.09"/>
<polyline points="804.5,85.82 816.96,141.09 829.41,117.54 841.87,141.15 854.32,134.4 866.77,162.01 879.23,164.22 891.68,168.18 904.14,190.46 916.6,209.68 929.05,210.01 941.5,222.49 953.96,230.9 966.41,243.05 978.87,251.65 991.33,269.53 1003.78,274.44 1016.24,285.71 1028.69,286.6 1041.14,303.53 1053.6,283.29 1066.06,337.66 1078.51,302.44 1090.96,317.84 1103.42,312.86 1115.88,314.97 1128.33,330.12 1140.79,328.72 1153.24,336.53 1165.69,328.04"/>
<polyline points="804.5,93.94 816.96,132.88 829.41,117.08 841.87,136.33 854.32,134.78 866.77,158.09 879.23,156.43 891.68,169.91 904.14,192.05 916.6,208.95 929.05,211.46 941.5,208.19 953.96,228.3 966.41,225.28 978.87,241.38 991.33,240.72 1003.78,276.95 1016.24,283.41 1028.69,268.48 1041.14,280.67 1053.6,285.37 1066.06,288.44 1078.51,302.91 1090.96,296.34 1103.42,303.35 1115.88,287.03 1128.33,307.07 1140.79,292.91 1153.24,351.12 1165.69,347.69"/>
<polyline points="804.5,92.26 816.96,141.25 829.41,116.26 841.87,144.87 854.32,140.21 866.77,159.9 879.23,168.59 891.68,168.43 904.14,196.97 916.6,206.15 929.05,209.05 941.5,218.31 953.96,224 966.41,245.44 978.87,262.03 991.33,257.72 1003.78,259.24 1016.24,279.79 1028.69,274.31 1041.14,298.07 1053.6,302 1066.06,293.12 1078.51,305.39 1090.96,320.77 1103.42,333.75 1115.88,310.77 1128.33,333.11 1140.79,330.18 1153.24,325.64 1165.69,361.62"/>
<polyline points="804.5,92.05 816.96,138.1 829.41,122.84 841.87,146.46 854.32,141.97 866.77,172.81 879.23,154.01 891.68,168.78 904.14,189.05 916.6,201.93 929.05,213.05 941.5,210.15 953.96,213.31 966.41,231.84 978.87,251.13 991.33,278.88 1003.78,266.81 1016.24,269.89 1028.69,265.4 1041.14,293.5 1053.6,297.25 1066.06,302.56 1078.51,285.79 1090.96,300.62 1103.42,287.71 1115.88,325.59 1128.33,304.28 1140.79,297.79 1153.24,356.89 1165.69,351.23"/>
<polyline points="804.5,91.39 816.96,136.78 829.41,117.6 841.87,136.41 854.32,137.76 866.77,173.37 879.23,163.19 891.68,167.99 904.14,198.32 916.6,217.64 929.05,212.97 941.5,228 953.96,234.92 966.41,242.21 978.87,234.87 991.33,264.75 1003.78,286.03 1016.24,277.12 1028.69,311.06 1041.14,295.67 1053.6,284.05 1066.06,303.46 1078.51,304.93 1090.96,317.18 1103.42,307.77 1115.88,332.93 1128.33,310.55 1140.79,330.43 1153.24,319.08 1165.69,327.01"/>
<polyline points="804.5,94.49 816.96,136.41 829.41,127.81 841.87,147.59 854.32,135.73 866.77,159.94 879.23,157.88 891.68,171.43 904.14,193.59 916.6,193.83 929.05,198.28 941.5,205.94 953.96,215.16 966.41,234.4 978.87,247.55 991.33,271.33 1003.78,274.7 1016.24,278.71 1028.69,293.34 1041.14,278.18 1053.6,276.51 1066.06,294.76 1078.51,309.49 1090.96,278.65 1103.42,314.57 1115.88,320.75 1128.33,307.28 1140.79,320.47 1153.24,325.43 1165.69,335.06"/>
<polyline points="804.5,90.87 816.96,139.81 829.41,130.89 841.87,144.45 854.32,140.49 866.77,154.76 879.23,170.81 891.68,167.78 904.14,193.01 916.6,201.18 929.05,208.69 941.5,213.4 953.96,232.97 966.41,242.67 978.87,249.12 991.33,270.48 1003.78,260.28 1016.24,279.45 1028.69,267.88 1041.14,300.22 1053.6,288.56 1066.06,302.42 1078.51,318.64 1090.96,272.84 1103.42,329.59 1115.88,312.69 1128.33,309.81 1140.79,293.58 1153.24,323.58 1165.69,295.17"/>
<polyline points="804.5,97.52 816.96,144.7 829.41,123.32 841.87,143.13 854.32,134.62 866.77,158.7 879.23,159.25 891.68,168.71 904.14,187.89 916.6,195.54 929.05,214.66 941.5,213.83 953.96,223.27 966.41,229.67 978.87,229.65 991.33,269.96 1003.78,262.91 1016.24,282.43 1028.69,297.93 1041.14,306.54 1053.6,297.99 1066.06,299.04 1078.51,308.58 1090.96,319.69 1103.42,318.14 1115.88,309.64 1128.33,328.06 1140.79,335.88 1153.24,352.87 1165.69,349.5"/>
<polyline points="804.5,93.22 816.96,148.16 829.41,114.53 841.87,128.61 854.32,142.24 866.77,168.44 879.23,156.5 891.68,169.87 904.14,192.16 916.6,207.58 929.05,209.69 941.5,215.38 953.96,223.26 966.41,238.54 978.87,249.95 991.33,275.52 1003.78,278.08 1016.24,263.29 1028.69,286.29 1041.14,311.13 1053.6,303.18 1066.06,312.14 1078.51,302.6 1090.96,317.54 1103.42,305.05 1115.88,332.27 1128.33,305.49 1140.79,351.61 1153.24,323.14 1165.69,318.56"/>
<polyline points="804.5,82.49 816.96,139.25 829.41,125.65 841.87,142.74 854.32,140.73 866.77,159.08 879.23,157.12 891.68,164.12 904.14,186.2 916.6,206.29 929.05,215.67 941.5,231.7 953.96,230.78 966.41,235.22 978.87,262.72 991.33,252.26 1003.78,274.87 1016.24,289.28 1028.69,291.59 1041.14,296.83 1053.6,288.61 1066.06,278.21 1078.51,297.73 1090.96,298.34 1103.42,317.35 1115.88,313.43 1128.33,328.4 1140.79,310.44 1153.24,353.6 1165.69,329.74"/>
<polyline points="804.5,86.25 816.96,135.31 829.41,129.65 841.87,124.9 854.32,144.54 866.77,166.9 879.23,163.49 891.68,162.15 904.14,198.63 916.6,200.8 929.05,205.87 941.5,216.93 953.96,217.93 966.41,220.53 978.87,244.2 991.33,237.48 1003.78,269.07 1016.24,269.85 1028.69,281.96 1041.14,266.04 1053.6,300.22 1066.06,288.91 1078.51,314.88 1090.96,282.93 1103.42,318.59 1115.88,310.94 1128.33,316.15 1140.79,302.64 1153.24,332.08 1165.69,336.6"/>
<polyline points="804.5,93.23 816.96,134.6 829.41,123.73 841.87,152.9 854.32,134.63 866.77,164.55 879.23,158.05 891.68,165.06 904.14,185.23 916.6,202.55 929.05,207.62 941.5,215.64 953.96,225.81 966.41,225.56 978.87,261.29 991.33,243.85 1003.78,270.06 1016.24,296.65 1028.69,267.63 1041.14,304.31 1053.6,308.17 1066.06,296.03 1078.51,273.16 1090.96,318.12 1103.42,301.43 1115.88,296.94 1128.33,325.75 1140.79,304.98 1153.24,339.07 1165.69,315.18"/>
<polyline points="804.5,86.1 816.96,136.79 829.41,123.11 841.87,133.57 854.32,132.82 866.77,160.6 879.23,159.75 891.68,163.04 904.14,180.39 916.6,197.72 929.05,210.78 941.5,210.72 953.96,227.29 966.41,239.37 978.87,252.33 991.33,250.53 1003.78,262.22 1016.24,255.14 1028.69,269.46 1041.14,294.23 1053.6,276.12 1066.06,309.53 1078.51,314.85 1090.96,296.12 1103.42,315.2 1115.88,292.73 1128.33,302.02 1140.79,322.11 1153.24,336.18 1165.69,335.36"/>
<polyline points="804.5,92.45 816.96,142.12 829.41,132.13 841.87,132.27 854.32,142.99 866.77,157.67 879.23,163.85 891.68,175.54 904.14,199.49 916.6,215.61 929.05,216.63 941.5,220.26 953.96,249.78 966.41,253 978.87,258.65 991.33,269.74 1003.78,281.85 1016.24,315.93 1028.69,301.4 1041.14,322.89 1053.6,307.92 1066.06,295.38 1078.51,332.47 1090.96,320.9 1103.42,319.34 1115.88,324.49 1128.33,324.68 1140.79,339.18 1153.24,332.41 1165.69,375.87"/>
<polyline points="804.5,93.82 816.96,136.8 829.41,125.84 841.87,141.59 854.32,136.1 866.77,163.81 879.23,168.19 891.68,168.56 904.14,202.55 916.6,206.2 929.05,209.73 941.5,220.39 953.96,238.34 966.41,237.18 978.87,260.66 991.33,271.33 1003.78,282.94 1016.24,280.07 1028.69,286.09 1041.14,275.41 1053.6,300.04 1066.06,303.45 1078.51,324.75 1090.96,296.44 1103.42,308.04 1115.88,312.26 1128.33,339.73 1140.79,303.85 1153.24,328.61 1165.69,376.03"/>
<polyline points="804.5,91.07 816.96,134.34 829.41,114.14 841.87,133.93 854.32,135.76 866.77,163.02 879.23,151.17 891.68,162.5 904.14,181.75 916.6,197.43 929.05,208.42 941.5,206.52 953.96,211.64 966.41,231.39 978.87,239.74 991.33,256.69 1003.78,257.96 1016.24,276.67 1028.69,261.89 1041.14,288.56 1053.6,291.2 1066.06,297.02 1078.51,286.68 1090.96,301.85 1103.42,300.24 1115.88,313.02 1128.33,328.7 1140.79,369.61 1153.24,339.5 1165.69,350.62"/>
<polyline points="869,170 881.5,166 893.5,160 904,161 916.7,155 930,193 941.5,214 955,206 966,228"/>
<polyline points="1065.8,240 1078.3,268.3 1090.8,274 1103,300 1116,305 1128,312"/>
<polyline points="1103.3,330 1115.8,352 1128.3,372 1140.8,413.3 1153.3,380 1165.8,392"/>
</g>
<g stroke="#ff0000" fill="#ff0000">
<path d="M904.14 182.7V200.7" stroke-width="4.2"/>
<path d="M899.94 182.7H908.34M899.94 200.7H908.34" stroke-width="3.2"/>
<path d="M916.6 196.7V216.7" stroke-width="4.2"/>
<path d="M912.39 196.7H920.8M912.39 216.7H920.8" stroke-width="3.2"/>
<path d="M929.05 204.3V222.3" stroke-width="4.2"/>
<path d="M924.85 204.3H933.25M924.85 222.3H933.25" stroke-width="3.2"/>
<path d="M941.5 209V225" stroke-width="4.2"/>
<path d="M937.3 209H945.71M937.3 225H945.71" stroke-width="3.2"/>
<path d="M953.96 218.3V238.3" stroke-width="4.2"/>
<path d="M949.76 218.3H958.16M949.76 238.3H958.16" stroke-width="3.2"/>
<path d="M966.41 226.7V246.7" stroke-width="4.2"/>
<path d="M962.21 226.7H970.62M962.21 246.7H970.62" stroke-width="3.2"/>
<path d="M978.87 239.7V263.7" stroke-width="4.2"/>
<path d="M974.67 239.7H983.07M974.67 263.7H983.07" stroke-width="3.2"/>
<path d="M991.33 246V274" stroke-width="4.2"/>
<path d="M987.12 246H995.53M987.12 274H995.53" stroke-width="3.2"/>
<path d="M1003.78 261.7V281.7" stroke-width="4.2"/>
<path d="M999.58 261.7H1007.98M999.58 281.7H1007.98" stroke-width="3.2"/>
<path d="M1016.24 268V292" stroke-width="4.2"/>
<path d="M1012.03 268H1020.44M1012.03 292H1020.44" stroke-width="3.2"/>
<path d="M1028.69 267.3V299.3" stroke-width="4.2"/>
<path d="M1024.49 267.3H1032.89M1024.49 299.3H1032.89" stroke-width="3.2"/>
<path d="M1041.14 277.7V309.7" stroke-width="4.2"/>
<path d="M1036.94 277.7H1045.35M1036.94 309.7H1045.35" stroke-width="3.2"/>
<path d="M1053.6 279.2V314.2" stroke-width="4.2"/>
<path d="M1049.4 279.2H1057.8M1049.4 314.2H1057.8" stroke-width="3.2"/>
<path d="M1066.06 281.7V313.3" stroke-width="4.2"/>
<path d="M1061.86 281.7H1070.26M1061.86 313.3H1070.26" stroke-width="3.2"/>
<path d="M1078.51 287.5V317.5" stroke-width="4.2"/>
<path d="M1074.31 287.5H1082.71M1074.31 317.5H1082.71" stroke-width="3.2"/>
<path d="M1090.96 291.1V322.3" stroke-width="4.2"/>
<path d="M1086.76 291.1H1095.16M1086.76 322.3H1095.16" stroke-width="3.2"/>
<path d="M1103.42 294.7V328.7" stroke-width="4.2"/>
<path d="M1099.22 294.7H1107.62M1099.22 328.7H1107.62" stroke-width="3.2"/>
<path d="M1115.88 302.1V332.9" stroke-width="4.2"/>
<path d="M1111.67 302.1H1120.08M1111.67 332.9H1120.08" stroke-width="3.2"/>
<path d="M1128.33 306.3V335.3" stroke-width="4.2"/>
<path d="M1124.13 306.3H1132.53M1124.13 335.3H1132.53" stroke-width="3.2"/>
<path d="M1140.79 311.3V348.7" stroke-width="4.2"/>
<path d="M1136.59 311.3H1144.99M1136.59 348.7H1144.99" stroke-width="3.2"/>
<path d="M1153.24 323.3V353.3" stroke-width="4.2"/>
<path d="M1149.04 323.3H1157.44M1149.04 353.3H1157.44" stroke-width="3.2"/>
<path d="M1165.69 322.8V358.8" stroke-width="4.2"/>
<path d="M1161.49 322.8H1169.89M1161.49 358.8H1169.89" stroke-width="3.2"/>
<circle cx="804.5" cy="95.5" r="8.3" stroke="none"/>
<circle cx="816.96" cy="137.8" r="8.3" stroke="none"/>
<circle cx="829.41" cy="125" r="8.3" stroke="none"/>
<circle cx="841.87" cy="141.2" r="8.3" stroke="none"/>
<circle cx="854.32" cy="138.7" r="8.3" stroke="none"/>
<circle cx="866.77" cy="164.7" r="8.3" stroke="none"/>
<circle cx="879.23" cy="162" r="8.3" stroke="none"/>
<circle cx="891.68" cy="168" r="8.3" stroke="none"/>
<circle cx="904.14" cy="191.7" r="8.3" stroke="none"/>
<circle cx="916.6" cy="206.7" r="8.3" stroke="none"/>
<circle cx="929.05" cy="213.3" r="8.3" stroke="none"/>
<circle cx="941.5" cy="217" r="8.3" stroke="none"/>
<circle cx="953.96" cy="228.3" r="8.3" stroke="none"/>
<circle cx="966.41" cy="236.7" r="8.3" stroke="none"/>
<circle cx="978.87" cy="251.7" r="8.3" stroke="none"/>
<circle cx="991.33" cy="260" r="8.3" stroke="none"/>
<circle cx="1003.78" cy="271.7" r="8.3" stroke="none"/>
<circle cx="1016.24" cy="280" r="8.3" stroke="none"/>
<circle cx="1028.69" cy="283.3" r="8.3" stroke="none"/>
<circle cx="1041.14" cy="293.7" r="8.3" stroke="none"/>
<circle cx="1053.6" cy="296.7" r="8.3" stroke="none"/>
<circle cx="1066.06" cy="297.5" r="8.3" stroke="none"/>
<circle cx="1078.51" cy="302.5" r="8.3" stroke="none"/>
<circle cx="1090.96" cy="306.7" r="8.3" stroke="none"/>
<circle cx="1103.42" cy="311.7" r="8.3" stroke="none"/>
<circle cx="1115.88" cy="317.5" r="8.3" stroke="none"/>
<circle cx="1128.33" cy="320.8" r="8.3" stroke="none"/>
<circle cx="1140.79" cy="330" r="8.3" stroke="none"/>
<circle cx="1153.24" cy="338.3" r="8.3" stroke="none"/>
<circle cx="1165.69" cy="340.8" r="8.3" stroke="none"/>
</g>
<line x1="803.7" y1="107.2" x2="1166.3" y2="400.3" stroke="#000" stroke-width="5.1"/>
<g stroke="#000" stroke-width="3.6" fill="none">
<line x1="854.1" y1="537.1" x2="854.1" y2="551.7"/>
<line x1="1074.1" y1="537.1" x2="1074.1" y2="551.7"/>
<line x1="729.1" y1="187.9" x2="744.1" y2="187.9"/>
<line x1="729.1" y1="362.5" x2="744.1" y2="362.5"/>
<line x1="729.1" y1="537.1" x2="744.1" y2="537.1"/>
<rect x="744.1" y="57.2" width="483.9" height="479.9" stroke-width="3.6"/>
</g>
<text x="719.3" y="202.9" font-size="41.67" text-anchor="end">−2</text>
<text x="719.3" y="377.5" font-size="41.67" text-anchor="end">−4</text>
<text x="719.3" y="552.1" font-size="41.67" text-anchor="end">−6</text>
<text x="858.1" y="596.3" font-size="41.67" text-anchor="middle">0</text>
<text x="1078.1" y="596.3" font-size="41.67" text-anchor="middle">1</text>
<text x="832.2" y="652.8" font-size="46.5">log</text>
<text x="896.4" y="664.6" font-size="29.3">10</text>
<text x="930.2" y="652.8" font-size="41.8">[duration[s]]</text>
<text x="807.5" y="40.5" font-size="45.83" xml:space="preserve">Fed <tspan font-style="italic">daf-2</tspan> mutant</text>
<text x="1187.7" y="109.4" font-size="50" font-weight="bold">c</text>
<text x="764.7" y="512.5" font-size="37.9">active</text>
<text x="703.9" y="718.7" font-size="37.8">active:</text>
<text x="822.9" y="718.7" class="dj it" font-size="37.5">y</text>
<text x="851.8" y="718.7" class="dj" font-size="39">=</text>
<text x="897.7" y="718.7" class="dj" font-size="39">−</text>
<text x="937.1" y="718.7" class="dj" font-size="37.5">2.04</text>
<text x="1020.7" y="718.7" class="dj it" font-size="37.5">x</text>
<text x="1049.5" y="718.7" class="dj" font-size="39">−</text>
<text x="1088.8" y="718.7" class="dj" font-size="37.5">1.58</text>
</g>
<g id="panel-d">
<g stroke="#b0b0b0" stroke-width="3.4" fill="none">
<line x1="748.1" y1="955.8" x2="1232" y2="955.8"/>
<line x1="748.1" y1="1130.4" x2="1232" y2="1130.4"/>
<line x1="748.1" y1="1305" x2="1232" y2="1305"/>
<line x1="858.1" y1="825.1" x2="858.1" y2="1305"/>
<line x1="858.3" y1="1305" x2="858.3" y2="1319.6" stroke="#c4c4c4" stroke-width="1.4"/>
<line x1="1078.1" y1="825.1" x2="1078.1" y2="1305"/>
<line x1="1078.3" y1="1305" x2="1078.3" y2="1319.6" stroke="#c4c4c4" stroke-width="1.4"/>
</g>
<clipPath id="cp-d"><rect x="744.1" y="825.1" width="483.9" height="479.9"/></clipPath>
<g stroke="#808080" stroke-width="2.1" fill="none" stroke-linejoin="miter" clip-path="url(#cp-d)">
<polyline points="804.5,865.87 816.96,920.16 829.41,901.27 841.87,919.83 854.32,913.71 866.77,943.64 879.23,936.65 891.68,938.24 904.14,952.39 916.6,970.45 929.05,973.79 941.5,974.23 953.96,990.79 966.41,1000.95 978.87,1010.63 991.33,1019.64 1003.78,1022.09 1016.24,1031.83 1028.69,1050.47 1041.14,1049.9 1053.6,1045.3 1066.06,1063.83 1078.51,1074.3 1090.96,1093.74 1103.42,1079.82 1115.88,1088.8 1128.33,1103.88 1140.79,1099.01 1153.24,1137.38 1165.69,1107.44"/>
<polyline points="804.5,875.56 816.96,904.69 829.41,891.36 841.87,906.27 854.32,916.22 866.77,931.13 879.23,931.08 891.68,936.41 904.14,953.56 916.6,957.89 929.05,970.45 941.5,973.75 953.96,981.93 966.41,988.27 978.87,1001.02 991.33,1018.09 1003.78,1020.67 1016.24,1019.46 1028.69,1030.89 1041.14,1039.38 1053.6,1046.58 1066.06,1050.53 1078.51,1067.6 1090.96,1077.95 1103.42,1059.81 1115.88,1086.65 1128.33,1108.96 1140.79,1093.9 1153.24,1104.98 1165.69,1119.23"/>
<polyline points="804.5,871.25 816.96,912.14 829.41,901.15 841.87,912.9 854.32,912.67 866.77,942.01 879.23,936.27 891.68,934.78 904.14,952.65 916.6,965.02 929.05,964.8 941.5,974.88 953.96,986.86 966.41,997.58 978.87,1018.68 991.33,1011.87 1003.78,1030.66 1016.24,1031.43 1028.69,1031.2 1041.14,1056.77 1053.6,1047.91 1066.06,1050.46 1078.51,1078.93 1090.96,1093.44 1103.42,1084.25 1115.88,1107.39 1128.33,1113.82 1140.79,1110.21 1153.24,1146.41 1165.69,1127.16"/>
<polyline points="804.5,872.23 816.96,907.79 829.41,893.57 841.87,905.94 854.32,908.59 866.77,930.24 879.23,930.77 891.68,934.24 904.14,945.34 916.6,959.24 929.05,969.74 941.5,977.29 953.96,981.66 966.41,989.3 978.87,1004.9 991.33,1004.52 1003.78,1014.82 1016.24,1019.85 1028.69,1028.88 1041.14,1053.6 1053.6,1045.8 1066.06,1058.32 1078.51,1065.83 1090.96,1085.71 1103.42,1065.82 1115.88,1077.92 1128.33,1103.37 1140.79,1092.7 1153.24,1093.9 1165.69,1112.78"/>
<polyline points="804.5,878.57 816.96,910.54 829.41,882.39 841.87,906.47 854.32,908.85 866.77,930.17 879.23,931.47 891.68,931.18 904.14,941.83 916.6,963.69 929.05,970.4 941.5,969.07 953.96,985.43 966.41,997.07 978.87,1002.5 991.33,1016.18 1003.78,1036.1 1016.24,1035.12 1028.69,1034.61 1041.14,1047.88 1053.6,1042.01 1066.06,1054.71 1078.51,1060.77 1090.96,1060.08 1103.42,1064.45 1115.88,1106.92 1128.33,1097.19 1140.79,1095.47 1153.24,1105.35 1165.69,1135.1"/>
<polyline points="804.5,862.19 816.96,917.54 829.41,906.53 841.87,909.39 854.32,909.02 866.77,938.08 879.23,928.56 891.68,934.8 904.14,950.64 916.6,959.88 929.05,971.51 941.5,981.08 953.96,983.04 966.41,984.04 978.87,1011.61 991.33,1008.25 1003.78,1024.04 1016.24,1022.84 1028.69,1035.55 1041.14,1053.4 1053.6,1055.96 1066.06,1051.99 1078.51,1055.59 1090.96,1052.13 1103.42,1059.54 1115.88,1080 1128.33,1096.94 1140.79,1097.17 1153.24,1099.53 1165.69,1098.13"/>
<polyline points="804.5,873.59 816.96,911.18 829.41,895.22 841.87,902.82 854.32,906.67 866.77,930.39 879.23,930.66 891.68,932.1 904.14,948.92 916.6,960.33 929.05,970.55 941.5,966.51 953.96,978.23 966.41,989.25 978.87,1005.33 991.33,1011.47 1003.78,1019.78 1016.24,1033.12 1028.69,1033.85 1041.14,1045.88 1053.6,1041.39 1066.06,1053.9 1078.51,1063.86 1090.96,1071.74 1103.42,1069.12 1115.88,1084.98 1128.33,1103.82 1140.79,1088.2 1153.24,1069.89 1165.69,1115.69"/>
<polyline points="804.5,873.74 816.96,915.18 829.41,899.99 841.87,917.24 854.32,907.36 866.77,941.14 879.23,938.1 891.68,936.72 904.14,950.76 916.6,964.55 929.05,970.1 941.5,979.13 953.96,986.78 966.41,986.67 978.87,1011.71 991.33,1014.43 1003.78,1025.73 1016.24,1025.85 1028.69,1043.98 1041.14,1034.39 1053.6,1039.02 1066.06,1057.56 1078.51,1053.6 1090.96,1074.19 1103.42,1074.49 1115.88,1062.67 1128.33,1099.28 1140.79,1113.29 1153.24,1104.09 1165.69,1095.07"/>
<polyline points="804.5,867.18 816.96,915.3 829.41,896.1 841.87,912.98 854.32,907.12 866.77,938.74 879.23,932.64 891.68,941.87 904.14,946.9 916.6,961.54 929.05,968.32 941.5,976.41 953.96,990.27 966.41,989.12 978.87,1003.74 991.33,1012.12 1003.78,1024.38 1016.24,1011.07 1028.69,1018.19 1041.14,1050.54 1053.6,1052.54 1066.06,1059.13 1078.51,1052.69 1090.96,1066.09 1103.42,1076.23 1115.88,1087.71 1128.33,1091.42 1140.79,1099.61 1153.24,1111.95 1165.69,1105.58"/>
<polyline points="804.5,871.78 816.96,915.08 829.41,897.63 841.87,906.9 854.32,915.79 866.77,938.64 879.23,930.36 891.68,934.65 904.14,948.14 916.6,964.27 929.05,969.49 941.5,970.37 953.96,982.59 966.41,990.79 978.87,1006.26 991.33,1009.99 1003.78,1016.17 1016.24,1026.01 1028.69,1038.51 1041.14,1045.68 1053.6,1032.54 1066.06,1052.82 1078.51,1069.14 1090.96,1072.23 1103.42,1082.49 1115.88,1089.18 1128.33,1083.34 1140.79,1081.82 1153.24,1118.91 1165.69,1115"/>
<polyline points="804.5,879.09 816.96,911.39 829.41,894.57 841.87,916.08 854.32,910.08 866.77,933.6 879.23,927.97 891.68,935.54 904.14,948.25 916.6,968.69 929.05,958.38 941.5,975.91 953.96,976.3 966.41,999.28 978.87,1007.51 991.33,1023.38 1003.78,1019.33 1016.24,1032.39 1028.69,1036.54 1041.14,1054.47 1053.6,1049.97 1066.06,1031.03 1078.51,1059.19 1090.96,1060.58 1103.42,1088.97 1115.88,1094.08 1128.33,1097.01 1140.79,1111.39 1153.24,1111.38 1165.69,1112"/>
<polyline points="804.5,878.57 816.96,917.48 829.41,903.41 841.87,920.35 854.32,909.36 866.77,943.04 879.23,940.07 891.68,934.62 904.14,947.35 916.6,962.12 929.05,974.95 941.5,980.77 953.96,986.23 966.41,995.76 978.87,1014.2 991.33,1020.26 1003.78,1011.07 1016.24,1022.99 1028.69,1033.96 1041.14,1048.26 1053.6,1049.79 1066.06,1051.64 1078.51,1067.49 1090.96,1050.24 1103.42,1109.36 1115.88,1096.03 1128.33,1106.72 1140.79,1100.04 1153.24,1115.27 1165.69,1141.35"/>
<polyline points="804.5,862.8 816.96,914.6 829.41,905.24 841.87,914.46 854.32,911.67 866.77,938.01 879.23,931.01 891.68,936.4 904.14,951.64 916.6,966.34 929.05,970.14 941.5,974.85 953.96,984.18 966.41,993.21 978.87,1013.41 991.33,1020.37 1003.78,1003.41 1016.24,1030.31 1028.69,1042.5 1041.14,1055.74 1053.6,1053.1 1066.06,1061.5 1078.51,1061.59 1090.96,1072.73 1103.42,1084.28 1115.88,1077.63 1128.33,1089.57 1140.79,1108.25 1153.24,1095.68 1165.69,1118.99"/>
<polyline points="804.5,868.38 816.96,922.78 829.41,893.6 841.87,903.85 854.32,908.9 866.77,938.92 879.23,928.43 891.68,935.29 904.14,947.17 916.6,961.73 929.05,965.29 941.5,972.24 953.96,980.9 966.41,992.04 978.87,1022.01 991.33,1015.83 1003.78,1024.82 1016.24,1039.95 1028.69,1030.75 1041.14,1040.25 1053.6,1055.49 1066.06,1049.1 1078.51,1073.87 1090.96,1090.81 1103.42,1076.76 1115.88,1090.46 1128.33,1120.51 1140.79,1105.08 1153.24,1117.08 1165.69,1133.48"/>
<polyline points="804.5,870.79 816.96,909.33 829.41,899.41 841.87,912.84 854.32,901.96 866.77,930.1 879.23,931.58 891.68,933.96 904.14,949.87 916.6,960.89 929.05,974.85 941.5,968.45 953.96,981.17 966.41,989.54 978.87,1001.7 991.33,1008.83 1003.78,1019.97 1016.24,1010.39 1028.69,1032.11 1041.14,1052.42 1053.6,1055.05 1066.06,1068.01 1078.51,1071.11 1090.96,1069.37 1103.42,1091.47 1115.88,1091.57 1128.33,1112.64 1140.79,1096.84 1153.24,1077.94 1165.69,1098.22"/>
<polyline points="804.5,870.29 816.96,921.39 829.41,906.16 841.87,912.84 854.32,908.58 866.77,941.62 879.23,929.61 891.68,935.77 904.14,947.32 916.6,967.38 929.05,970.99 941.5,974.79 953.96,985.03 966.41,987.78 978.87,1006.23 991.33,1022.2 1003.78,1022.97 1016.24,1037.98 1028.69,1032.24 1041.14,1049.54 1053.6,1050.2 1066.06,1060.25 1078.51,1078.74 1090.96,1062.33 1103.42,1094.45 1115.88,1101.01 1128.33,1102.46 1140.79,1114.47 1153.24,1120.74 1165.69,1135.79"/>
<polyline points="804.5,869.47 816.96,917.56 829.41,894.82 841.87,910.59 854.32,907.11 866.77,938.08 879.23,925.96 891.68,934.59 904.14,944.28 916.6,963.02 929.05,960.26 941.5,971.17 953.96,988.29 966.41,992.19 978.87,1005.6 991.33,1006.93 1003.78,1017.93 1016.24,1011.82 1028.69,1033.79 1041.14,1050.55 1053.6,1053.96 1066.06,1051.26 1078.51,1072.87 1090.96,1076.23 1103.42,1084.99 1115.88,1091.05 1128.33,1096.29 1140.79,1100.06 1153.24,1085.26 1165.69,1127.6"/>
<polyline points="804.5,873.41 816.96,922.93 829.41,903.78 841.87,916.61 854.32,917.11 866.77,943.06 879.23,937.6 891.68,937.59 904.14,952.65 916.6,972.67 929.05,969.22 941.5,977.68 953.96,998.37 966.41,1004.02 978.87,1021.65 991.33,1024.82 1003.78,1029.95 1016.24,1045.23 1028.69,1037.8 1041.14,1053.3 1053.6,1051.8 1066.06,1059.3 1078.51,1075.69 1090.96,1085.8 1103.42,1089.96 1115.88,1100.09 1128.33,1107.81 1140.79,1113.57 1153.24,1121.23 1165.69,1132.04"/>
<polyline points="804.5,868.05 816.96,915.79 829.41,901.17 841.87,913.62 854.32,916.72 866.77,949.45 879.23,935.22 891.68,938.59 904.14,947.85 916.6,972.34 929.05,970.66 941.5,976.12 953.96,994.6 966.41,995.85 978.87,1014.99 991.33,1024.47 1003.78,1025.26 1016.24,1037.14 1028.69,1037.25 1041.14,1053.91 1053.6,1055.92 1066.06,1062.62 1078.51,1058.52 1090.96,1093.5 1103.42,1080.87 1115.88,1110.1 1128.33,1095.08 1140.79,1109.09 1153.24,1118.88 1165.69,1142.15"/>
<polyline points="804.5,868.86 816.96,914.54 829.41,899.82 841.87,911.6 854.32,916.73 866.77,936.92 879.23,937.87 891.68,938.74 904.14,945.72 916.6,967.87 929.05,974.46 941.5,980.31 953.96,984.6 966.41,996.68 978.87,1008.2 991.33,1011.52 1003.78,1024.59 1016.24,1030.97 1028.69,1048.29 1041.14,1049.02 1053.6,1058.49 1066.06,1046.38 1078.51,1057.24 1090.96,1072.33 1103.42,1099.57 1115.88,1078.01 1128.33,1084.67 1140.79,1109.98 1153.24,1130.72 1165.69,1107.98"/>
<polyline points="804.5,871.74 816.96,918.11 829.41,895.77 841.87,905.58 854.32,908.34 866.77,938.06 879.23,935.54 891.68,934.15 904.14,950.56 916.6,960.01 929.05,973.12 941.5,976.44 953.96,988 966.41,988.99 978.87,1005.52 991.33,1010.16 1003.78,997.54 1016.24,1024.86 1028.69,1029.36 1041.14,1040.48 1053.6,1042.79 1066.06,1048.13 1078.51,1060.78 1090.96,1053.04 1103.42,1071.38 1115.88,1080.22 1128.33,1089.52 1140.79,1082.84 1153.24,1098.62 1165.69,1095.69"/>
<polyline points="804.5,870.69 816.96,916.87 829.41,903.35 841.87,922.82 854.32,913.22 866.77,949.28 879.23,942.8 891.68,933.82 904.14,953.44 916.6,970.53 929.05,974.43 941.5,974.14 953.96,993.13 966.41,997.12 978.87,1008.27 991.33,1024.62 1003.78,1020.94 1016.24,1024.59 1028.69,1040.81 1041.14,1043.71 1053.6,1055.56 1066.06,1059.3 1078.51,1072.4 1090.96,1087.54 1103.42,1088.41 1115.88,1104.15 1128.33,1110.18 1140.79,1103.58 1153.24,1129.65 1165.69,1131.98"/>
<polyline points="804.5,868.22 816.96,913.78 829.41,901.28 841.87,910.55 854.32,911.11 866.77,936.96 879.23,935.9 891.68,937.03 904.14,948.97 916.6,967.54 929.05,967.51 941.5,973.82 953.96,994.39 966.41,987.39 978.87,1019.41 991.33,1024 1003.78,1024.8 1016.24,1039.36 1028.69,1044.43 1041.14,1039.69 1053.6,1057.29 1066.06,1066.44 1078.51,1067.32 1090.96,1088.85 1103.42,1098.85 1115.88,1094.24 1128.33,1086.53 1140.79,1123.44 1153.24,1121.47 1165.69,1115.37"/>
<polyline points="804.5,869.37 816.96,912.3 829.41,891.58 841.87,906 854.32,914.08 866.77,923.88 879.23,921.98 891.68,935.41 904.14,948.84 916.6,961.07 929.05,972.79 941.5,981.93 953.96,982.37 966.41,995.49 978.87,1001.87 991.33,1012.54 1003.78,1015.22 1016.24,1018.39 1028.69,1020.32 1041.14,1040.73 1053.6,1040.35 1066.06,1043.85 1078.51,1053.67 1090.96,1052.84 1103.42,1075.9 1115.88,1081.05 1128.33,1099.9 1140.79,1085.49 1153.24,1072.44 1165.69,1098.55"/>
<polyline points="804.5,872.88 816.96,921.1 829.41,897.32 841.87,909.62 854.32,913.6 866.77,936.37 879.23,938.58 891.68,938.96 904.14,951.42 916.6,970.52 929.05,965.06 941.5,972.47 953.96,987.96 966.41,995.77 978.87,1015.31 991.33,1022.03 1003.78,1022.54 1016.24,1018.28 1028.69,1040.4 1041.14,1047.74 1053.6,1058.63 1066.06,1077.55 1078.51,1069.87 1090.96,1083.94 1103.42,1076.53 1115.88,1101.85 1128.33,1104.7 1140.79,1115.21 1153.24,1129.86 1165.69,1111.85"/>
<polyline points="804.5,861.97 816.96,912.55 829.41,898.89 841.87,916.64 854.32,909.93 866.77,938.11 879.23,932.38 891.68,937.39 904.14,948.54 916.6,968.12 929.05,970.49 941.5,973.39 953.96,990.06 966.41,994.07 978.87,1016.19 991.33,1014.08 1003.78,1028.33 1016.24,1039.72 1028.69,1037.69 1041.14,1054.25 1053.6,1046.92 1066.06,1054.73 1078.51,1051.29 1090.96,1076.07 1103.42,1074.04 1115.88,1093.45 1128.33,1079.83 1140.79,1104 1153.24,1120.34 1165.69,1130.24"/>
<polyline points="804.5,868.92 816.96,910.4 829.41,892.41 841.87,909.1 854.32,907.33 866.77,940.57 879.23,937.04 891.68,939.02 904.14,947.56 916.6,958.28 929.05,968.46 941.5,972.16 953.96,994.49 966.41,995.01 978.87,1007.74 991.33,1014.76 1003.78,1031.35 1016.24,1022.14 1028.69,1039.01 1041.14,1036.61 1053.6,1049.56 1066.06,1050.27 1078.51,1068.75 1090.96,1076.19 1103.42,1092.23 1115.88,1095.63 1128.33,1089.96 1140.79,1092.52 1153.24,1101.32 1165.69,1115.29"/>
<polyline points="804.5,867.78 816.96,910.47 829.41,895.18 841.87,909.19 854.32,904.29 866.77,934.56 879.23,932.44 891.68,936.5 904.14,945 916.6,961.19 929.05,964.97 941.5,971.48 953.96,985.58 966.41,990.58 978.87,1011.29 991.33,1014.62 1003.78,1018.45 1016.24,1018.87 1028.69,1045.52 1041.14,1058.71 1053.6,1051.08 1066.06,1050.72 1078.51,1071.99 1090.96,1083.91 1103.42,1071.2 1115.88,1103.59 1128.33,1091.59 1140.79,1114.94 1153.24,1102.26 1165.69,1115.91"/>
<polyline points="804.5,864.87 816.96,910.02 829.41,895.61 841.87,907.03 854.32,907.44 866.77,932.93 879.23,934.75 891.68,935.11 904.14,947.15 916.6,966.57 929.05,971.84 941.5,977.47 953.96,989.13 966.41,992.83 978.87,1010.83 991.33,1003.47 1003.78,1014.78 1016.24,1022.38 1028.69,1040.74 1041.14,1058.54 1053.6,1051.94 1066.06,1056.24 1078.51,1078.48 1090.96,1073.64 1103.42,1087.71 1115.88,1095.36 1128.33,1085.28 1140.79,1113.6 1153.24,1115.84 1165.69,1106.43"/>
<polyline points="804.5,870.49 816.96,913.45 829.41,887.56 841.87,912.26 854.32,903.57 866.77,933.67 879.23,928.55 891.68,935.73 904.14,951.73 916.6,963.64 929.05,968.79 941.5,971.27 953.96,981.24 966.41,994.69 978.87,1016.17 991.33,1016.4 1003.78,1019.42 1016.24,1024.1 1028.69,1037.42 1041.14,1058.04 1053.6,1041.94 1066.06,1058.21 1078.51,1065.12 1090.96,1064.3 1103.42,1068.24 1115.88,1100.55 1128.33,1099.67 1140.79,1103.39 1153.24,1109.1 1165.69,1124.53"/>
<polyline points="804.5,870.13 816.96,914.16 829.41,897.55 841.87,922.32 854.32,914.51 866.77,941.22 879.23,944.93 891.68,937.67 904.14,949.91 916.6,969.08 929.05,963.55 941.5,976.23 953.96,981.69 966.41,1001.39 978.87,1017.93 991.33,1013.3 1003.78,1033.66 1016.24,1026.61 1028.69,1043.96 1041.14,1057.95 1053.6,1058.63 1066.06,1058.59 1078.51,1074.55 1090.96,1083.67 1103.42,1091.34 1115.88,1109.99 1128.33,1119.46 1140.79,1129.65 1153.24,1112.05 1165.69,1117.98"/>
<polyline points="804.5,866.44 816.96,909.6 829.41,902.43 841.87,911.22 854.32,910.6 866.77,942.56 879.23,942.61 891.68,937.95 904.14,949.64 916.6,967.43 929.05,965.41 941.5,977.3 953.96,987.72 966.41,997.48 978.87,1020.31 991.33,1006.6 1003.78,1027 1016.24,1032.82 1028.69,1026.7 1041.14,1059.58 1053.6,1041.84 1066.06,1074.58 1078.51,1070.13 1090.96,1081.95 1103.42,1077.29 1115.88,1094.8 1128.33,1084.33 1140.79,1097.72 1153.24,1087.11 1165.69,1122.17"/>
<polyline points="804.5,903.8 816.7,924.7 829.2,928.8 841.7,960.5 854.2,938.8 866.7,970.5 879.2,975.5 891.7,953.8 904.2,957.2 916.7,989.7 926.7,973"/>
<polyline points="1004.2,1013 1015.8,961.3 1026.7,1024.7"/>
<polyline points="1090,1018.3 1103.3,1003.3 1115.8,1044.2"/>
<polyline points="1152.5,1022 1165.8,1063.7"/>
<polyline points="1065.8,1073.3 1078.3,1107.5 1090.8,1048.3 1103,1075"/>
</g>
<g stroke="#0000ff" fill="#0000ff">
<path d="M804.5 867.5V882.5" stroke-width="4.2"/>
<path d="M800.3 867.5H808.7M800.3 882.5H808.7" stroke-width="3.2"/>
<path d="M829.41 890.5V905.5" stroke-width="4.2"/>
<path d="M825.21 890.5H833.61M825.21 905.5H833.61" stroke-width="3.2"/>
<path d="M841.87 903.2V921.2" stroke-width="4.2"/>
<path d="M837.66 903.2H846.07M837.66 921.2H846.07" stroke-width="3.2"/>
<path d="M866.77 929V947" stroke-width="4.2"/>
<path d="M862.57 929H870.98M862.57 947H870.98" stroke-width="3.2"/>
<path d="M879.23 925V941" stroke-width="4.2"/>
<path d="M875.03 925H883.43M875.03 941H883.43" stroke-width="3.2"/>
<path d="M916.6 956.7V972.7" stroke-width="4.2"/>
<path d="M912.39 956.7H920.8M912.39 972.7H920.8" stroke-width="3.2"/>
<path d="M978.87 1003.5V1019.5" stroke-width="4.2"/>
<path d="M974.67 1003.5H983.07M974.67 1019.5H983.07" stroke-width="3.2"/>
<path d="M991.33 1007.3V1023.3" stroke-width="4.2"/>
<path d="M987.12 1007.3H995.53M987.12 1023.3H995.53" stroke-width="3.2"/>
<path d="M1003.78 1015.5V1031.5" stroke-width="4.2"/>
<path d="M999.58 1015.5H1007.98M999.58 1031.5H1007.98" stroke-width="3.2"/>
<path d="M1016.24 1014V1040" stroke-width="4.2"/>
<path d="M1012.03 1014H1020.44M1012.03 1040H1020.44" stroke-width="3.2"/>
<path d="M1028.69 1026.3V1044.3" stroke-width="4.2"/>
<path d="M1024.49 1026.3H1032.89M1024.49 1044.3H1032.89" stroke-width="3.2"/>
<path d="M1041.14 1038.5V1054.5" stroke-width="4.2"/>
<path d="M1036.94 1038.5H1045.35M1036.94 1054.5H1045.35" stroke-width="3.2"/>
<path d="M1053.6 1042.2V1058.2" stroke-width="4.2"/>
<path d="M1049.4 1042.2H1057.8M1049.4 1058.2H1057.8" stroke-width="3.2"/>
<path d="M1066.06 1043V1068.4" stroke-width="4.2"/>
<path d="M1061.86 1043H1070.26M1061.86 1068.4H1070.26" stroke-width="3.2"/>
<path d="M1078.51 1055V1077" stroke-width="4.2"/>
<path d="M1074.31 1055H1082.71M1074.31 1077H1082.71" stroke-width="3.2"/>
<path d="M1090.96 1060.4V1089.6" stroke-width="4.2"/>
<path d="M1086.76 1060.4H1095.16M1086.76 1089.6H1095.16" stroke-width="3.2"/>
<path d="M1103.42 1065V1098.4" stroke-width="4.2"/>
<path d="M1099.22 1065H1107.62M1099.22 1098.4H1107.62" stroke-width="3.2"/>
<path d="M1115.88 1076.7V1103.3" stroke-width="4.2"/>
<path d="M1111.67 1076.7H1120.08M1111.67 1103.3H1120.08" stroke-width="3.2"/>
<path d="M1128.33 1087.9V1108.7" stroke-width="4.2"/>
<path d="M1124.13 1087.9H1132.53M1124.13 1108.7H1132.53" stroke-width="3.2"/>
<path d="M1140.79 1095V1121.6" stroke-width="4.2"/>
<path d="M1136.59 1095H1144.99M1136.59 1121.6H1144.99" stroke-width="3.2"/>
<path d="M1153.24 1093.3V1133.3" stroke-width="4.2"/>
<path d="M1149.04 1093.3H1157.44M1149.04 1133.3H1157.44" stroke-width="3.2"/>
<path d="M1165.69 1104.1V1137.5" stroke-width="4.2"/>
<path d="M1161.49 1104.1H1169.89M1161.49 1137.5H1169.89" stroke-width="3.2"/>
<circle cx="804.5" cy="875" r="8.3" stroke="none"/>
<circle cx="816.96" cy="913.3" r="8.3" stroke="none"/>
<circle cx="829.41" cy="898" r="8.3" stroke="none"/>
<circle cx="841.87" cy="912.2" r="8.3" stroke="none"/>
<circle cx="854.32" cy="909.2" r="8.3" stroke="none"/>
<circle cx="866.77" cy="938" r="8.3" stroke="none"/>
<circle cx="879.23" cy="933" r="8.3" stroke="none"/>
<circle cx="891.68" cy="936" r="8.3" stroke="none"/>
<circle cx="904.14" cy="950.2" r="8.3" stroke="none"/>
<circle cx="916.6" cy="964.7" r="8.3" stroke="none"/>
<circle cx="929.05" cy="969.7" r="8.3" stroke="none"/>
<circle cx="941.5" cy="976.3" r="8.3" stroke="none"/>
<circle cx="953.96" cy="988" r="8.3" stroke="none"/>
<circle cx="966.41" cy="994.7" r="8.3" stroke="none"/>
<circle cx="978.87" cy="1011.5" r="8.3" stroke="none"/>
<circle cx="991.33" cy="1015.3" r="8.3" stroke="none"/>
<circle cx="1003.78" cy="1023.5" r="8.3" stroke="none"/>
<circle cx="1016.24" cy="1027" r="8.3" stroke="none"/>
<circle cx="1028.69" cy="1035.3" r="8.3" stroke="none"/>
<circle cx="1041.14" cy="1046.5" r="8.3" stroke="none"/>
<circle cx="1053.6" cy="1050.2" r="8.3" stroke="none"/>
<circle cx="1066.06" cy="1055.7" r="8.3" stroke="none"/>
<circle cx="1078.51" cy="1066" r="8.3" stroke="none"/>
<circle cx="1090.96" cy="1075" r="8.3" stroke="none"/>
<circle cx="1103.42" cy="1081.7" r="8.3" stroke="none"/>
<circle cx="1115.88" cy="1090" r="8.3" stroke="none"/>
<circle cx="1128.33" cy="1098.3" r="8.3" stroke="none"/>
<circle cx="1140.79" cy="1108.3" r="8.3" stroke="none"/>
<circle cx="1153.24" cy="1113.3" r="8.3" stroke="none"/>
<circle cx="1165.69" cy="1120.8" r="8.3" stroke="none"/>
</g>
<line x1="803.3" y1="886" x2="1166.7" y2="1125.8" stroke="#000" stroke-width="5.1"/>
<g stroke="#000" stroke-width="3.6" fill="none">
<line x1="854.1" y1="1305" x2="854.1" y2="1319.6"/>
<line x1="1074.1" y1="1305" x2="1074.1" y2="1319.6"/>
<line x1="729.1" y1="955.8" x2="744.1" y2="955.8"/>
<line x1="729.1" y1="1130.4" x2="744.1" y2="1130.4"/>
<line x1="729.1" y1="1305" x2="744.1" y2="1305"/>
<rect x="744.1" y="825.1" width="483.9" height="479.9" stroke-width="3.6"/>
</g>
<text x="719.3" y="970.8" font-size="41.67" text-anchor="end">−2</text>
<text x="719.3" y="1145.4" font-size="41.67" text-anchor="end">−4</text>
<text x="719.3" y="1320" font-size="41.67" text-anchor="end">−6</text>
<text x="858.1" y="1364.2" font-size="41.67" text-anchor="middle">0</text>
<text x="1078.1" y="1364.2" font-size="41.67" text-anchor="middle">1</text>
<text x="832.2" y="1420.7" font-size="46.5">log</text>
<text x="896.4" y="1432.5" font-size="29.3">10</text>
<text x="930.2" y="1420.7" font-size="41.8">[duration[s]]</text>
<text x="797.5" y="814.5" font-size="45.83" xml:space="preserve">Fed <tspan font-style="italic">daf-2</tspan> mutant</text>
<text x="1187.7" y="877.3" font-size="50" font-weight="bold">d</text>
<text x="764.7" y="1281.4" font-size="37.9">inactive</text>
<text x="703.9" y="1486.6" font-size="37.8">inactive:</text>
<text x="852.3" y="1486.6" class="dj it" font-size="37.5">y</text>
<text x="881.2" y="1486.6" class="dj" font-size="39">=</text>
<text x="927.1" y="1486.6" class="dj" font-size="39">−</text>
<text x="966.5" y="1486.6" class="dj" font-size="37.5">1.67</text>
<text x="1050.1" y="1486.6" class="dj it" font-size="37.5">x</text>
<text x="1078.9" y="1486.6" class="dj" font-size="39">−</text>
<text x="1118.2" y="1486.6" class="dj" font-size="37.5">1.62</text>
</g>
<g id="panel-e">
<g stroke="#b0b0b0" stroke-width="3.4" fill="none">
<line x1="1353" y1="187.9" x2="1836" y2="187.9"/>
<line x1="1353" y1="362.5" x2="1836" y2="362.5"/>
<line x1="1353" y1="537.1" x2="1836" y2="537.1"/>
<line x1="1463" y1="57.2" x2="1463" y2="537.1"/>
<line x1="1463.2" y1="537.1" x2="1463.2" y2="551.7" stroke="#c4c4c4" stroke-width="1.4"/>
<line x1="1683" y1="57.2" x2="1683" y2="537.1"/>
<line x1="1683.2" y1="537.1" x2="1683.2" y2="551.7" stroke="#c4c4c4" stroke-width="1.4"/>
</g>
<clipPath id="cp-e"><rect x="1349" y="57.2" width="483.9" height="479.9"/></clipPath>
<g stroke="#808080" stroke-width="2.1" fill="none" stroke-linejoin="miter" clip-path="url(#cp-e)">
<polyline points="1409.4,86.81 1421.86,132.77 1434.31,117.42 1446.77,140.23 1459.22,135.76 1471.68,168.1 1484.13,161.62 1496.59,171.62 1509.04,193.88 1521.5,213.31 1533.95,220.15 1546.41,213.38 1558.86,233.1 1571.32,239.46 1583.77,256.34 1596.23,264.37 1608.68,248.74 1621.14,283.49 1633.59,285.4 1646.05,275.37 1658.5,308.31 1670.96,296.17 1683.41,318.87 1695.87,316.52 1708.32,326.3 1720.78,326.49 1733.23,330.48 1745.69,348.26 1758.14,356.8 1770.6,335.85"/>
<polyline points="1409.4,84.37 1421.86,132.58 1434.31,122.57 1446.77,137.16 1459.22,138.32 1471.68,162.15 1484.13,163.67 1496.59,172.17 1509.04,190.86 1521.5,207.74 1533.95,210.99 1546.41,210.52 1558.86,227.81 1571.32,230.22 1583.77,246.86 1596.23,268.11 1608.68,256.63 1621.14,276.59 1633.59,294.5 1646.05,301.9 1658.5,289.05 1670.96,300.29 1683.41,316.38 1695.87,309.06 1708.32,306.82 1720.78,323.5 1733.23,323.12 1745.69,336.51 1758.14,353.16 1770.6,356.6"/>
<polyline points="1409.4,89.81 1421.86,125.81 1434.31,120.79 1446.77,143.48 1459.22,140.31 1471.68,158.35 1484.13,162.93 1496.59,168.85 1509.04,191.55 1521.5,205.56 1533.95,220.05 1546.41,218.87 1558.86,231.28 1571.32,240.27 1583.77,241.01 1596.23,259.59 1608.68,283.59 1621.14,282.1 1633.59,296.64 1646.05,295.7 1658.5,289.83 1670.96,300.34 1683.41,318.14 1695.87,320.27 1708.32,331.52 1720.78,309.09 1733.23,338.3 1745.69,322.2 1758.14,341.52 1770.6,354.48"/>
<polyline points="1409.4,90.32 1421.86,128.09 1434.31,117.27 1446.77,138.32 1459.22,133.66 1471.68,168.53 1484.13,154.19 1496.59,170.4 1509.04,187.44 1521.5,204.54 1533.95,215.17 1546.41,217.98 1558.86,224.94 1571.32,240.98 1583.77,260.64 1596.23,268.57 1608.68,288.14 1621.14,282.11 1633.59,299.32 1646.05,292.57 1658.5,310.59 1670.96,310.38 1683.41,311.35 1695.87,299.75 1708.32,306.6 1720.78,315.3 1733.23,341.83 1745.69,342.01 1758.14,348.88 1770.6,375.36"/>
<polyline points="1409.4,81.96 1421.86,134.55 1434.31,117.58 1446.77,136.47 1459.22,144 1471.68,169.14 1484.13,163.56 1496.59,171.9 1509.04,192.16 1521.5,212.23 1533.95,210.63 1546.41,215.98 1558.86,243.16 1571.32,233.49 1583.77,267.93 1596.23,260.9 1608.68,287.42 1621.14,293.4 1633.59,291.16 1646.05,321.96 1658.5,296.28 1670.96,307.22 1683.41,312.05 1695.87,313.33 1708.32,321.66 1720.78,320.6 1733.23,334.81 1745.69,364.71 1758.14,330.95 1770.6,356.46"/>
<polyline points="1409.4,89.37 1421.86,139.16 1434.31,120.88 1446.77,140.13 1459.22,143 1471.68,173.09 1484.13,161.18 1496.59,168.05 1509.04,193.76 1521.5,210.17 1533.95,210.59 1546.41,216.43 1558.86,227.85 1571.32,231.45 1583.77,250.63 1596.23,256.09 1608.68,254 1621.14,293.2 1633.59,298.53 1646.05,307.56 1658.5,294.25 1670.96,299.92 1683.41,315.2 1695.87,316.98 1708.32,294.33 1720.78,320.63 1733.23,310.98 1745.69,333.78 1758.14,328.48 1770.6,367.63"/>
<polyline points="1409.4,87.36 1421.86,133.82 1434.31,120.78 1446.77,139.3 1459.22,133.18 1471.68,156.07 1484.13,170.6 1496.59,169.18 1509.04,193.31 1521.5,215.3 1533.95,216.8 1546.41,223.43 1558.86,233.8 1571.32,246.02 1583.77,259.63 1596.23,271.66 1608.68,268.48 1621.14,277.13 1633.59,288.1 1646.05,296.85 1658.5,302.97 1670.96,321.35 1683.41,320.02 1695.87,309.76 1708.32,336.3 1720.78,324.76 1733.23,331.17 1745.69,343.09 1758.14,340.07 1770.6,341.92"/>
<polyline points="1409.4,88.23 1421.86,132.76 1434.31,127.35 1446.77,133.31 1459.22,137.57 1471.68,170.54 1484.13,159.34 1496.59,170 1509.04,181.68 1521.5,209.43 1533.95,202.38 1546.41,217.05 1558.86,238.09 1571.32,237.62 1583.77,254.95 1596.23,262.84 1608.68,288.77 1621.14,286.95 1633.59,298.18 1646.05,290.6 1658.5,293.12 1670.96,288.44 1683.41,304.5 1695.87,296.17 1708.32,324.16 1720.78,325.93 1733.23,324.61 1745.69,333.4 1758.14,311.31 1770.6,351.32"/>
<polyline points="1409.4,85.99 1421.86,140.65 1434.31,124.33 1446.77,142.41 1459.22,136.68 1471.68,165.04 1484.13,159.16 1496.59,174.99 1509.04,188.69 1521.5,207.31 1533.95,212.31 1546.41,221.51 1558.86,225.58 1571.32,236.98 1583.77,258.6 1596.23,276.17 1608.68,264.17 1621.14,287.73 1633.59,285.48 1646.05,294.28 1658.5,321.7 1670.96,312.32 1683.41,311.2 1695.87,320.51 1708.32,322.87 1720.78,338.21 1733.23,327.65 1745.69,347.94 1758.14,343.69 1770.6,363.65"/>
<polyline points="1409.4,87.77 1421.86,139.01 1434.31,122.36 1446.77,138.65 1459.22,134.04 1471.68,168.32 1484.13,164.8 1496.59,166.82 1509.04,196 1521.5,202.51 1533.95,216.37 1546.41,215.39 1558.86,226.45 1571.32,226.99 1583.77,247.27 1596.23,263.17 1608.68,262.97 1621.14,271.06 1633.59,291.7 1646.05,297.01 1658.5,296.87 1670.96,302.04 1683.41,328.77 1695.87,306.83 1708.32,318.84 1720.78,325.08 1733.23,312.38 1745.69,317.63 1758.14,346.54 1770.6,369.47"/>
<polyline points="1409.4,94.67 1421.86,141.82 1434.31,125.22 1446.77,136.58 1459.22,133.19 1471.68,165.38 1484.13,161.86 1496.59,169.97 1509.04,185.65 1521.5,215.07 1533.95,208.8 1546.41,220.08 1558.86,226.18 1571.32,225.12 1583.77,253.6 1596.23,261.36 1608.68,268.08 1621.14,288.58 1633.59,282.72 1646.05,320.61 1658.5,309.54 1670.96,289.51 1683.41,282.88 1695.87,325.87 1708.32,320.24 1720.78,323.78 1733.23,322.5 1745.69,324.74 1758.14,324.49 1770.6,392.55"/>
<polyline points="1409.4,80.04 1421.86,143.79 1434.31,116.77 1446.77,131.63 1459.22,139.87 1471.68,168.88 1484.13,162.12 1496.59,169.46 1509.04,191.42 1521.5,215.86 1533.95,208.89 1546.41,215.34 1558.86,221.95 1571.32,233.91 1583.77,255.04 1596.23,250.41 1608.68,270.74 1621.14,264.29 1633.59,280.21 1646.05,287.69 1658.5,287.73 1670.96,312.53 1683.41,326.66 1695.87,318.02 1708.32,333.27 1720.78,318.65 1733.23,347.68 1745.69,342.35 1758.14,348.88 1770.6,366.34"/>
<polyline points="1409.4,89.44 1421.86,133.36 1434.31,123.99 1446.77,139.13 1459.22,138.59 1471.68,163.42 1484.13,156.53 1496.59,165.66 1509.04,187.9 1521.5,212.38 1533.95,213.78 1546.41,226.09 1558.86,226.24 1571.32,234.75 1583.77,254.97 1596.23,246.1 1608.68,270.03 1621.14,264.24 1633.59,276.55 1646.05,311.86 1658.5,276.36 1670.96,295.31 1683.41,306.37 1695.87,299.89 1708.32,311.01 1720.78,307.77 1733.23,344.3 1745.69,306.29 1758.14,322.01 1770.6,365.83"/>
<polyline points="1409.4,82.03 1421.86,125.45 1434.31,117.87 1446.77,135.86 1459.22,135.71 1471.68,167.75 1484.13,156.49 1496.59,169.49 1509.04,183.64 1521.5,203.11 1533.95,225.86 1546.41,224.71 1558.86,223.82 1571.32,245.2 1583.77,263.48 1596.23,266.71 1608.68,280.69 1621.14,273.84 1633.59,285.06 1646.05,284.22 1658.5,302.3 1670.96,286.09 1683.41,304.23 1695.87,315.42 1708.32,311.26 1720.78,324.2 1733.23,351.55 1745.69,328 1758.14,363.27 1770.6,353.08"/>
<polyline points="1409.4,92.77 1421.86,126.21 1434.31,119.84 1446.77,126.61 1459.22,134.98 1471.68,168.43 1484.13,162.51 1496.59,169.81 1509.04,184.96 1521.5,210.89 1533.95,208.78 1546.41,223.46 1558.86,227.54 1571.32,232.53 1583.77,267.83 1596.23,261.47 1608.68,283.06 1621.14,285.52 1633.59,290.37 1646.05,309.22 1658.5,308.09 1670.96,306.69 1683.41,314.41 1695.87,320.23 1708.32,324.92 1720.78,322.82 1733.23,321.48 1745.69,311.82 1758.14,344.81 1770.6,357.5"/>
<polyline points="1409.4,89.22 1421.86,132.38 1434.31,120.61 1446.77,143.12 1459.22,138.81 1471.68,166.56 1484.13,158.84 1496.59,170.99 1509.04,192.43 1521.5,211.46 1533.95,223.87 1546.41,210.28 1558.86,245.96 1571.32,235.63 1583.77,250.09 1596.23,252.37 1608.68,279.91 1621.14,289.69 1633.59,287.55 1646.05,296.45 1658.5,305.28 1670.96,298.26 1683.41,327.7 1695.87,321.51 1708.32,319.49 1720.78,305.23 1733.23,349.85 1745.69,335.74 1758.14,334.69 1770.6,379.51"/>
<polyline points="1409.4,91.28 1421.86,129.01 1434.31,118.51 1446.77,137.88 1459.22,134.02 1471.68,160.14 1484.13,154.78 1496.59,171.92 1509.04,192.31 1521.5,200.85 1533.95,216.49 1546.41,213.02 1558.86,224.49 1571.32,237.03 1583.77,245.17 1596.23,247.58 1608.68,247.38 1621.14,274.14 1633.59,283.41 1646.05,292.72 1658.5,295.12 1670.96,295.11 1683.41,315.36 1695.87,290.41 1708.32,313.46 1720.78,318.64 1733.23,316.93 1745.69,351.38 1758.14,341.02 1770.6,365.56"/>
<polyline points="1409.4,87.2 1421.86,134.79 1434.31,119.42 1446.77,139.73 1459.22,133.74 1471.68,168.16 1484.13,163.75 1496.59,168.49 1509.04,186.73 1521.5,204.46 1533.95,212.92 1546.41,221.47 1558.86,226.35 1571.32,235.07 1583.77,262.62 1596.23,257.42 1608.68,271.48 1621.14,284.63 1633.59,286.4 1646.05,290.81 1658.5,295.88 1670.96,319.19 1683.41,307.11 1695.87,302.23 1708.32,321.86 1720.78,340.24 1733.23,346.06 1745.69,341.23 1758.14,354.31 1770.6,365.38"/>
<polyline points="1409.4,87.51 1421.86,137.39 1434.31,117.87 1446.77,137.16 1459.22,138.89 1471.68,167.47 1484.13,167.75 1496.59,176.31 1509.04,189.59 1521.5,213.04 1533.95,200.5 1546.41,221.87 1558.86,235.45 1571.32,230.66 1583.77,269.82 1596.23,253.69 1608.68,287.61 1621.14,280.89 1633.59,282.15 1646.05,293.29 1658.5,300.79 1670.96,292.57 1683.41,301.44 1695.87,312.33 1708.32,333.64 1720.78,329 1733.23,347.88 1745.69,334.1 1758.14,342.1 1770.6,356.62"/>
<polyline points="1409.4,99.35 1421.86,138.8 1434.31,117.86 1446.77,141.71 1459.22,135.29 1471.68,170.11 1484.13,160.5 1496.59,168.8 1509.04,195.86 1521.5,205.01 1533.95,208.64 1546.41,223.46 1558.86,227.08 1571.32,234.1 1583.77,258.05 1596.23,283.96 1608.68,266.92 1621.14,280.46 1633.59,292.98 1646.05,286.7 1658.5,299.91 1670.96,311.43 1683.41,306.9 1695.87,327.74 1708.32,311.11 1720.78,325.03 1733.23,338.59 1745.69,382.05 1758.14,329.18 1770.6,372.2"/>
<polyline points="1409.4,91.41 1421.86,131.9 1434.31,122.29 1446.77,137.68 1459.22,131.71 1471.68,165.58 1484.13,169.06 1496.59,171.21 1509.04,193.52 1521.5,203.23 1533.95,203.89 1546.41,213.47 1558.86,234.11 1571.32,226.24 1583.77,246.67 1596.23,270.69 1608.68,267.62 1621.14,277.3 1633.59,289.01 1646.05,291.87 1658.5,292.21 1670.96,300.78 1683.41,298.85 1695.87,304.57 1708.32,319.26 1720.78,305.32 1733.23,320.57 1745.69,319.92 1758.14,346.03 1770.6,358.95"/>
<polyline points="1409.4,88.87 1421.86,132.95 1434.31,126.25 1446.77,138.46 1459.22,135.19 1471.68,183.43 1484.13,157.52 1496.59,170.23 1509.04,192.57 1521.5,206.96 1533.95,217.61 1546.41,219.59 1558.86,220.41 1571.32,240.17 1583.77,249.91 1596.23,261.11 1608.68,289.36 1621.14,276.94 1633.59,301.67 1646.05,315.52 1658.5,320.47 1670.96,312.4 1683.41,315.7 1695.87,305.89 1708.32,327.42 1720.78,335.59 1733.23,332.42 1745.69,337.29 1758.14,366.09 1770.6,361.27"/>
<polyline points="1409.4,97.59 1421.86,127.34 1434.31,121.32 1446.77,130.72 1459.22,138.62 1471.68,159.53 1484.13,166.11 1496.59,173.65 1509.04,183.86 1521.5,213.77 1533.95,213.57 1546.41,226.31 1558.86,223.59 1571.32,231.77 1583.77,252.44 1596.23,270.87 1608.68,250.82 1621.14,283.12 1633.59,281.61 1646.05,280.26 1658.5,284.62 1670.96,301.54 1683.41,308.74 1695.87,312.26 1708.32,293.7 1720.78,287.64 1733.23,306.88 1745.69,322.75 1758.14,322.68 1770.6,349.94"/>
<polyline points="1409.4,88.88 1421.86,129.26 1434.31,124.93 1446.77,133.32 1459.22,138.01 1471.68,169.9 1484.13,162.59 1496.59,172.09 1509.04,187.4 1521.5,215.63 1533.95,213.8 1546.41,215.93 1558.86,226.77 1571.32,234.26 1583.77,249.99 1596.23,269.8 1608.68,271.52 1621.14,286.19 1633.59,271.01 1646.05,280.69 1658.5,294.89 1670.96,288.68 1683.41,309.26 1695.87,319.81 1708.32,328.78 1720.78,339.07 1733.23,339.93 1745.69,330.48 1758.14,351.4 1770.6,353.79"/>
<polyline points="1409.4,94.43 1421.86,130.98 1434.31,115.17 1446.77,132.46 1459.22,137.1 1471.68,165.3 1484.13,153.76 1496.59,165.94 1509.04,189.13 1521.5,218.69 1533.95,207.33 1546.41,203.04 1558.86,228.42 1571.32,227.89 1583.77,240.97 1596.23,260.78 1608.68,263.95 1621.14,264.37 1633.59,267.25 1646.05,284.88 1658.5,290.35 1670.96,270.3 1683.41,311.37 1695.87,283.83 1708.32,320.2 1720.78,316.22 1733.23,315.74 1745.69,332.24 1758.14,323.94 1770.6,342.33"/>
<polyline points="1409.4,85.79 1421.86,125.09 1434.31,121.58 1446.77,141.06 1459.22,142.96 1471.68,167.24 1484.13,161.11 1496.59,168.61 1509.04,191.05 1521.5,210.92 1533.95,207.57 1546.41,217.7 1558.86,228.88 1571.32,219.24 1583.77,260.55 1596.23,255.69 1608.68,273.99 1621.14,276.39 1633.59,280.16 1646.05,287.6 1658.5,293.62 1670.96,303.13 1683.41,299.4 1695.87,289.45 1708.32,301.8 1720.78,302.51 1733.23,329.9 1745.69,321.28 1758.14,354.54 1770.6,349.22"/>
<polyline points="1409.4,80.06 1421.86,133.27 1434.31,118.97 1446.77,137.42 1459.22,139.21 1471.68,168.07 1484.13,167.16 1496.59,167.83 1509.04,186.2 1521.5,203.18 1533.95,204.96 1546.41,218.02 1558.86,230.7 1571.32,237.31 1583.77,262.23 1596.23,287.44 1608.68,269.98 1621.14,289.74 1633.59,292.32 1646.05,297.84 1658.5,327.44 1670.96,311.21 1683.41,337.14 1695.87,312.04 1708.32,351.17 1720.78,359.83 1733.23,333.38 1745.69,354.65 1758.14,360.51 1770.6,389.06"/>
<polyline points="1409.4,86.85 1421.86,137.78 1434.31,116.89 1446.77,143.71 1459.22,131.85 1471.68,168.35 1484.13,165.86 1496.59,173.88 1509.04,188.07 1521.5,206.1 1533.95,207.22 1546.41,225.38 1558.86,228.42 1571.32,234.29 1583.77,254.05 1596.23,266.7 1608.68,274.3 1621.14,295.37 1633.59,270.04 1646.05,308.28 1658.5,298.49 1670.96,303.69 1683.41,312.41 1695.87,314.71 1708.32,328.63 1720.78,324.79 1733.23,312.81 1745.69,339.85 1758.14,343.57 1770.6,361.58"/>
<polyline points="1409.4,89.01 1421.86,125.45 1434.31,120.91 1446.77,136.25 1459.22,134.12 1471.68,173.91 1484.13,168.52 1496.59,171.87 1509.04,189.5 1521.5,208.1 1533.95,219.66 1546.41,218.68 1558.86,237.83 1571.32,243.47 1583.77,253.5 1596.23,273.38 1608.68,289.91 1621.14,292.39 1633.59,282.1 1646.05,294.31 1658.5,296.15 1670.96,303.15 1683.41,312.93 1695.87,306.96 1708.32,324.3 1720.78,335.47 1733.23,323.4 1745.69,319.56 1758.14,346.31 1770.6,357.32"/>
<polyline points="1409.4,94.83 1421.86,134.95 1434.31,120.78 1446.77,135.57 1459.22,133.87 1471.68,158.82 1484.13,170.6 1496.59,172.29 1509.04,191.81 1521.5,208.58 1533.95,201.51 1546.41,217.28 1558.86,227.68 1571.32,241.51 1583.77,247.77 1596.23,262.34 1608.68,266.85 1621.14,277.73 1633.59,274.57 1646.05,291.4 1658.5,293.1 1670.96,276.26 1683.41,322.61 1695.87,333.9 1708.32,305.49 1720.78,333.82 1733.23,316.36 1745.69,335.48 1758.14,365.07 1770.6,363.93"/>
<polyline points="1708,330 1720.5,345 1733,352 1745.5,368 1758,390 1770.5,447.5"/>
<polyline points="1596,245 1608.5,237 1621,253 1633.5,266 1646,262 1658.5,272 1671,281 1683.5,283 1696,287 1708.5,296 1721,303 1733.5,300"/>
</g>
<g stroke="#ff0000" fill="#ff0000">
<path d="M1521.5 203.2V215.2" stroke-width="4.2"/>
<path d="M1517.3 203.2H1525.7M1517.3 215.2H1525.7" stroke-width="3.2"/>
<path d="M1533.95 208.2V220.2" stroke-width="4.2"/>
<path d="M1529.75 208.2H1538.15M1529.75 220.2H1538.15" stroke-width="3.2"/>
<path d="M1546.41 212.7V225.7" stroke-width="4.2"/>
<path d="M1542.21 212.7H1550.61M1542.21 225.7H1550.61" stroke-width="3.2"/>
<path d="M1558.86 221V234" stroke-width="4.2"/>
<path d="M1554.66 221H1563.06M1554.66 234H1563.06" stroke-width="3.2"/>
<path d="M1571.32 228V242" stroke-width="4.2"/>
<path d="M1567.12 228H1575.52M1567.12 242H1575.52" stroke-width="3.2"/>
<path d="M1583.77 246.8V264.8" stroke-width="4.2"/>
<path d="M1579.57 246.8H1587.97M1579.57 264.8H1587.97" stroke-width="3.2"/>
<path d="M1596.23 252.5V273.5" stroke-width="4.2"/>
<path d="M1592.03 252.5H1600.43M1592.03 273.5H1600.43" stroke-width="3.2"/>
<path d="M1608.68 259.2V283.2" stroke-width="4.2"/>
<path d="M1604.48 259.2H1612.88M1604.48 283.2H1612.88" stroke-width="3.2"/>
<path d="M1621.14 267.1V294.5" stroke-width="4.2"/>
<path d="M1616.94 267.1H1625.34M1616.94 294.5H1625.34" stroke-width="3.2"/>
<path d="M1633.59 274.5V300.5" stroke-width="4.2"/>
<path d="M1629.39 274.5H1637.79M1629.39 300.5H1637.79" stroke-width="3.2"/>
<path d="M1646.05 279.5V309.5" stroke-width="4.2"/>
<path d="M1641.85 279.5H1650.25M1641.85 309.5H1650.25" stroke-width="3.2"/>
<path d="M1658.5 282.9V313.7" stroke-width="4.2"/>
<path d="M1654.3 282.9H1662.7M1654.3 313.7H1662.7" stroke-width="3.2"/>
<path d="M1670.96 288V314" stroke-width="4.2"/>
<path d="M1666.76 288H1675.16M1666.76 314H1675.16" stroke-width="3.2"/>
<path d="M1683.41 296.3V327.1" stroke-width="4.2"/>
<path d="M1679.21 296.3H1687.61M1679.21 327.1H1687.61" stroke-width="3.2"/>
<path d="M1695.87 293.7V329.7" stroke-width="4.2"/>
<path d="M1691.66 293.7H1700.07M1691.66 329.7H1700.07" stroke-width="3.2"/>
<path d="M1708.32 302.5V334.1" stroke-width="4.2"/>
<path d="M1704.12 302.5H1712.52M1704.12 334.1H1712.52" stroke-width="3.2"/>
<path d="M1720.78 308.8V336.2" stroke-width="4.2"/>
<path d="M1716.58 308.8H1724.98M1716.58 336.2H1724.98" stroke-width="3.2"/>
<path d="M1733.23 314.2V345.8" stroke-width="4.2"/>
<path d="M1729.03 314.2H1737.43M1729.03 345.8H1737.43" stroke-width="3.2"/>
<path d="M1745.69 326V354" stroke-width="4.2"/>
<path d="M1741.49 326H1749.89M1741.49 354H1749.89" stroke-width="3.2"/>
<path d="M1758.14 330V360" stroke-width="4.2"/>
<path d="M1753.94 330H1762.34M1753.94 360H1762.34" stroke-width="3.2"/>
<path d="M1770.6 339.2V380.8" stroke-width="4.2"/>
<path d="M1766.39 339.2H1774.8M1766.39 380.8H1774.8" stroke-width="3.2"/>
<circle cx="1409.4" cy="91.7" r="8.3" stroke="none"/>
<circle cx="1421.86" cy="133.3" r="8.3" stroke="none"/>
<circle cx="1434.31" cy="121.3" r="8.3" stroke="none"/>
<circle cx="1446.77" cy="138" r="8.3" stroke="none"/>
<circle cx="1459.22" cy="137" r="8.3" stroke="none"/>
<circle cx="1471.68" cy="166.7" r="8.3" stroke="none"/>
<circle cx="1484.13" cy="163" r="8.3" stroke="none"/>
<circle cx="1496.59" cy="170" r="8.3" stroke="none"/>
<circle cx="1509.04" cy="189.7" r="8.3" stroke="none"/>
<circle cx="1521.5" cy="209.2" r="8.3" stroke="none"/>
<circle cx="1533.95" cy="214.2" r="8.3" stroke="none"/>
<circle cx="1546.41" cy="219.2" r="8.3" stroke="none"/>
<circle cx="1558.86" cy="227.5" r="8.3" stroke="none"/>
<circle cx="1571.32" cy="235" r="8.3" stroke="none"/>
<circle cx="1583.77" cy="255.8" r="8.3" stroke="none"/>
<circle cx="1596.23" cy="263" r="8.3" stroke="none"/>
<circle cx="1608.68" cy="271.2" r="8.3" stroke="none"/>
<circle cx="1621.14" cy="280.8" r="8.3" stroke="none"/>
<circle cx="1633.59" cy="287.5" r="8.3" stroke="none"/>
<circle cx="1646.05" cy="294.5" r="8.3" stroke="none"/>
<circle cx="1658.5" cy="298.3" r="8.3" stroke="none"/>
<circle cx="1670.96" cy="301" r="8.3" stroke="none"/>
<circle cx="1683.41" cy="311.7" r="8.3" stroke="none"/>
<circle cx="1695.87" cy="311.7" r="8.3" stroke="none"/>
<circle cx="1708.32" cy="318.3" r="8.3" stroke="none"/>
<circle cx="1720.78" cy="322.5" r="8.3" stroke="none"/>
<circle cx="1733.23" cy="330" r="8.3" stroke="none"/>
<circle cx="1745.69" cy="340" r="8.3" stroke="none"/>
<circle cx="1758.14" cy="345" r="8.3" stroke="none"/>
<circle cx="1770.6" cy="360" r="8.3" stroke="none"/>
</g>
<line x1="1408.3" y1="104.2" x2="1771.3" y2="409.7" stroke="#000" stroke-width="5.1"/>
<g stroke="#000" stroke-width="3.6" fill="none">
<line x1="1459" y1="537.1" x2="1459" y2="551.7"/>
<line x1="1679" y1="537.1" x2="1679" y2="551.7"/>
<line x1="1334" y1="187.9" x2="1349" y2="187.9"/>
<line x1="1334" y1="362.5" x2="1349" y2="362.5"/>
<line x1="1334" y1="537.1" x2="1349" y2="537.1"/>
<rect x="1349" y="57.2" width="483.9" height="479.9" stroke-width="3.6"/>
</g>
<text x="1324.2" y="202.9" font-size="41.67" text-anchor="end">−2</text>
<text x="1324.2" y="377.5" font-size="41.67" text-anchor="end">−4</text>
<text x="1324.2" y="552.1" font-size="41.67" text-anchor="end">−6</text>
<text x="1463" y="596.3" font-size="41.67" text-anchor="middle">0</text>
<text x="1683" y="596.3" font-size="41.67" text-anchor="middle">1</text>
<text x="1437.1" y="652.8" font-size="46.5">log</text>
<text x="1501.3" y="664.6" font-size="29.3">10</text>
<text x="1535.1" y="652.8" font-size="41.8">[duration[s]]</text>
<text x="1408.4" y="40.5" font-size="45.83" xml:space="preserve">Fed <tspan font-style="italic">daf-16</tspan> mutant</text>
<text x="1792.6" y="109.4" font-size="50" font-weight="bold">e</text>
<text x="1369.6" y="512.5" font-size="37.9">active</text>
<text x="1308.8" y="718.7" font-size="37.8">active:</text>
<text x="1427.8" y="718.7" class="dj it" font-size="37.5">y</text>
<text x="1456.7" y="718.7" class="dj" font-size="39">=</text>
<text x="1502.6" y="718.7" class="dj" font-size="39">−</text>
<text x="1542" y="718.7" class="dj" font-size="37.5">2.12</text>
<text x="1625.6" y="718.7" class="dj it" font-size="37.5">x</text>
<text x="1654.4" y="718.7" class="dj" font-size="39">−</text>
<text x="1693.7" y="718.7" class="dj" font-size="37.5">1.57</text>
</g>
<g id="panel-f">
<g stroke="#b0b0b0" stroke-width="3.4" fill="none">
<line x1="1353" y1="955.8" x2="1836" y2="955.8"/>
<line x1="1353" y1="1130.4" x2="1836" y2="1130.4"/>
<line x1="1353" y1="1305" x2="1836" y2="1305"/>
<line x1="1463" y1="825.1" x2="1463" y2="1305"/>
<line x1="1463.2" y1="1305" x2="1463.2" y2="1319.6" stroke="#c4c4c4" stroke-width="1.4"/>
<line x1="1683" y1="825.1" x2="1683" y2="1305"/>
<line x1="1683.2" y1="1305" x2="1683.2" y2="1319.6" stroke="#c4c4c4" stroke-width="1.4"/>
</g>
<clipPath id="cp-f"><rect x="1349" y="825.1" width="483.9" height="479.9"/></clipPath>
<g stroke="#808080" stroke-width="2.1" fill="none" stroke-linejoin="miter" clip-path="url(#cp-f)">
<polyline points="1409.4,878.77 1421.86,918.58 1434.31,899.53 1446.77,914.07 1459.22,912.8 1471.68,943.78 1484.13,934.79 1496.59,938.63 1509.04,949.25 1521.5,966.65 1533.95,965.69 1546.41,976.85 1558.86,980.05 1571.32,993.42 1583.77,1007.86 1596.23,1006.6 1608.68,1012.51 1621.14,1025.55 1633.59,1033.89 1646.05,1045.47 1658.5,1043 1670.96,1063.56 1683.41,1065.18 1695.87,1081.72 1708.32,1075 1720.78,1094.49 1733.23,1109.71 1745.69,1104.91 1758.14,1111.42 1770.6,1126.08"/>
<polyline points="1409.4,881.82 1421.86,913.86 1434.31,899.34 1446.77,912.48 1459.22,910.99 1471.68,933.95 1484.13,934.12 1496.59,936.17 1509.04,950.09 1521.5,971.05 1533.95,968.77 1546.41,977.11 1558.86,984.23 1571.32,992.24 1583.77,1007.73 1596.23,1017.24 1608.68,1019.8 1621.14,1021.48 1633.59,1035.17 1646.05,1030.42 1658.5,1051.2 1670.96,1055.61 1683.41,1070.06 1695.87,1063.22 1708.32,1079.99 1720.78,1084.73 1733.23,1097.91 1745.69,1115.87 1758.14,1116.15 1770.6,1118.02"/>
<polyline points="1409.4,866.62 1421.86,921.03 1434.31,903.3 1446.77,916.36 1459.22,910.69 1471.68,944.79 1484.13,934.54 1496.59,937.41 1509.04,948.79 1521.5,966.11 1533.95,965.23 1546.41,974.73 1558.86,985.13 1571.32,996.85 1583.77,994.61 1596.23,1005.71 1608.68,1010.95 1621.14,1029.69 1633.59,1024.83 1646.05,1045.16 1658.5,1043.9 1670.96,1042.79 1683.41,1064.28 1695.87,1061.55 1708.32,1083.32 1720.78,1090.05 1733.23,1102.18 1745.69,1088.47 1758.14,1120.13 1770.6,1117.35"/>
<polyline points="1409.4,873.67 1421.86,930.24 1434.31,905.76 1446.77,914.68 1459.22,909.1 1471.68,950.43 1484.13,942.1 1496.59,940.2 1509.04,951.41 1521.5,967.8 1533.95,972.86 1546.41,980.35 1558.86,980.08 1571.32,992.77 1583.77,1005.28 1596.23,1003.05 1608.68,1029.84 1621.14,1033.83 1633.59,1040.26 1646.05,1040.16 1658.5,1056.57 1670.96,1065.24 1683.41,1080.72 1695.87,1076.9 1708.32,1092.88 1720.78,1114.92 1733.23,1102.14 1745.69,1114.07 1758.14,1117.61 1770.6,1109.63"/>
<polyline points="1409.4,880.54 1421.86,927.39 1434.31,902.06 1446.77,917.22 1459.22,910.74 1471.68,939.94 1484.13,937.23 1496.59,935.57 1509.04,956.65 1521.5,967.11 1533.95,969.81 1546.41,976.64 1558.86,981.44 1571.32,994.17 1583.77,1004.36 1596.23,1003 1608.68,1019.29 1621.14,1046.44 1633.59,1037.68 1646.05,1045.59 1658.5,1056.72 1670.96,1054.03 1683.41,1072.95 1695.87,1086.8 1708.32,1074.82 1720.78,1091.01 1733.23,1102.03 1745.69,1113.89 1758.14,1117.84 1770.6,1131.71"/>
<polyline points="1409.4,866.25 1421.86,917.4 1434.31,906.12 1446.77,918.29 1459.22,912.96 1471.68,942.36 1484.13,940.89 1496.59,931.63 1509.04,952.67 1521.5,969.54 1533.95,965.86 1546.41,976.93 1558.86,988.28 1571.32,997.49 1583.77,1003.29 1596.23,1018.85 1608.68,1020.79 1621.14,1030.35 1633.59,1023.89 1646.05,1037.49 1658.5,1043.03 1670.96,1066.51 1683.41,1046.49 1695.87,1057.43 1708.32,1084.04 1720.78,1085.59 1733.23,1067.74 1745.69,1096.64 1758.14,1106.16 1770.6,1123.08"/>
<polyline points="1409.4,872.36 1421.86,909.24 1434.31,897.84 1446.77,912.45 1459.22,907.18 1471.68,933.45 1484.13,929.62 1496.59,936.76 1509.04,955.14 1521.5,965.06 1533.95,972.7 1546.41,975.28 1558.86,976.79 1571.32,992.27 1583.77,1009.55 1596.23,1016.17 1608.68,1013.11 1621.14,1035.03 1633.59,1024.27 1646.05,1036.26 1658.5,1043.41 1670.96,1062.94 1683.41,1064.26 1695.87,1073.7 1708.32,1057.38 1720.78,1083.88 1733.23,1090.35 1745.69,1105.12 1758.14,1101.87 1770.6,1122.38"/>
<polyline points="1409.4,868.97 1421.86,913.5 1434.31,900.36 1446.77,918.94 1459.22,908.98 1471.68,933.05 1484.13,929.56 1496.59,932.91 1509.04,945.52 1521.5,968.16 1533.95,969.01 1546.41,981.55 1558.86,979.93 1571.32,993.86 1583.77,1004.04 1596.23,1008.53 1608.68,1016.57 1621.14,1018.65 1633.59,1023.31 1646.05,1036.04 1658.5,1026.32 1670.96,1042.18 1683.41,1050.99 1695.87,1073.13 1708.32,1073.56 1720.78,1082.96 1733.23,1089.96 1745.69,1091.47 1758.14,1114.93 1770.6,1101.21"/>
<polyline points="1409.4,870.08 1421.86,915.74 1434.31,904.55 1446.77,910.85 1459.22,909.16 1471.68,934.71 1484.13,936.99 1496.59,938.47 1509.04,951.82 1521.5,968.25 1533.95,967.56 1546.41,980.18 1558.86,983.81 1571.32,991.38 1583.77,1012.34 1596.23,1010.71 1608.68,1022.57 1621.14,1026.39 1633.59,1035.2 1646.05,1044.67 1658.5,1041.57 1670.96,1057.35 1683.41,1068.33 1695.87,1074.78 1708.32,1080.6 1720.78,1106.55 1733.23,1094.53 1745.69,1114.76 1758.14,1120.31 1770.6,1115.34"/>
<polyline points="1409.4,879.55 1421.86,923.56 1434.31,902.6 1446.77,918.75 1459.22,907.28 1471.68,938.17 1484.13,940.67 1496.59,934.69 1509.04,951.41 1521.5,962.49 1533.95,968.82 1546.41,971.42 1558.86,985.15 1571.32,998.71 1583.77,1005.9 1596.23,1011.05 1608.68,1016.38 1621.14,1027.78 1633.59,1024.59 1646.05,1040.65 1658.5,1062.2 1670.96,1049.29 1683.41,1063.78 1695.87,1067 1708.32,1093.91 1720.78,1093.17 1733.23,1094.42 1745.69,1103.27 1758.14,1127.51 1770.6,1129.54"/>
<polyline points="1409.4,879.6 1421.86,916.78 1434.31,905.97 1446.77,914.98 1459.22,904.78 1471.68,930.7 1484.13,932.73 1496.59,934.14 1509.04,950.13 1521.5,968.01 1533.95,966.24 1546.41,970.73 1558.86,983.79 1571.32,995.46 1583.77,1010.65 1596.23,1004.58 1608.68,1015.46 1621.14,1020.52 1633.59,1036.59 1646.05,1043.29 1658.5,1044.27 1670.96,1055.77 1683.41,1057.87 1695.87,1065.69 1708.32,1077.24 1720.78,1083.31 1733.23,1095.42 1745.69,1111.17 1758.14,1115.88 1770.6,1131.94"/>
<polyline points="1409.4,877.83 1421.86,921.33 1434.31,907.02 1446.77,916.21 1459.22,911.72 1471.68,939.77 1484.13,941.08 1496.59,938.56 1509.04,950.54 1521.5,963.9 1533.95,969.7 1546.41,973.31 1558.86,983.58 1571.32,995.41 1583.77,1006.4 1596.23,1015.72 1608.68,1016.27 1621.14,1015.16 1633.59,1020.72 1646.05,1040.87 1658.5,1053.83 1670.96,1047.09 1683.41,1050.59 1695.87,1073.56 1708.32,1070.9 1720.78,1085.48 1733.23,1094.18 1745.69,1086.26 1758.14,1095.22 1770.6,1097.49"/>
<polyline points="1409.4,869.74 1421.86,922.28 1434.31,904.44 1446.77,912.95 1459.22,912.09 1471.68,945.53 1484.13,939.98 1496.59,935.06 1509.04,957.98 1521.5,966.66 1533.95,968.25 1546.41,973.56 1558.86,979.48 1571.32,995.54 1583.77,990.74 1596.23,1009.15 1608.68,1011.48 1621.14,1023.74 1633.59,1029.86 1646.05,1034.97 1658.5,1042.86 1670.96,1065.51 1683.41,1062.55 1695.87,1071.35 1708.32,1075.75 1720.78,1093.21 1733.23,1106.61 1745.69,1113.06 1758.14,1115.94 1770.6,1122.95"/>
<polyline points="1409.4,873.72 1421.86,912.89 1434.31,904.78 1446.77,912.99 1459.22,909.96 1471.68,944.76 1484.13,944.39 1496.59,934.9 1509.04,951.16 1521.5,968.36 1533.95,971.25 1546.41,978.43 1558.86,985.37 1571.32,992.25 1583.77,1002.13 1596.23,1008.31 1608.68,1025.1 1621.14,1035.59 1633.59,1043.27 1646.05,1038.21 1658.5,1050.19 1670.96,1058.15 1683.41,1066.54 1695.87,1066.68 1708.32,1097.14 1720.78,1102.05 1733.23,1095.53 1745.69,1103.62 1758.14,1112.08 1770.6,1102.99"/>
<polyline points="1409.4,868.71 1421.86,922.23 1434.31,900.06 1446.77,911.32 1459.22,908.91 1471.68,935.72 1484.13,935.64 1496.59,935.15 1509.04,951.42 1521.5,966.81 1533.95,971.82 1546.41,977.94 1558.86,984.33 1571.32,994.89 1583.77,999.94 1596.23,1005.58 1608.68,1021.47 1621.14,1027.98 1633.59,1041.85 1646.05,1042.56 1658.5,1044.2 1670.96,1060.57 1683.41,1064.13 1695.87,1068.48 1708.32,1093.46 1720.78,1108.44 1733.23,1102.53 1745.69,1102.83 1758.14,1114.08 1770.6,1115.35"/>
<polyline points="1409.4,880.71 1421.86,927.09 1434.31,907.33 1446.77,917.83 1459.22,912.92 1471.68,945.35 1484.13,943.91 1496.59,939.99 1509.04,949.79 1521.5,967.32 1533.95,974.14 1546.41,980.24 1558.86,979.43 1571.32,993.78 1583.77,1005.2 1596.23,1011.07 1608.68,1007.95 1621.14,1029.06 1633.59,1021.85 1646.05,1056.9 1658.5,1053.04 1670.96,1055.08 1683.41,1068.92 1695.87,1072.73 1708.32,1075.18 1720.78,1086.74 1733.23,1096.61 1745.69,1099.15 1758.14,1116.24 1770.6,1127.53"/>
<polyline points="1409.4,871.85 1421.86,913.52 1434.31,900.11 1446.77,915.81 1459.22,910.81 1471.68,941.45 1484.13,935.67 1496.59,937.95 1509.04,949.25 1521.5,968.37 1533.95,968.44 1546.41,973.29 1558.86,984.34 1571.32,989.82 1583.77,1002.65 1596.23,1010.24 1608.68,1026.78 1621.14,1034.46 1633.59,1038.79 1646.05,1046.42 1658.5,1044.54 1670.96,1059.11 1683.41,1068.16 1695.87,1073.37 1708.32,1078.44 1720.78,1089.8 1733.23,1108.74 1745.69,1100.78 1758.14,1117.67 1770.6,1133.23"/>
<polyline points="1409.4,862.07 1421.86,914.05 1434.31,895.93 1446.77,910.46 1459.22,907.47 1471.68,932.97 1484.13,937.19 1496.59,937.82 1509.04,947.58 1521.5,964.63 1533.95,966.98 1546.41,978.52 1558.86,979.24 1571.32,997.93 1583.77,1002.78 1596.23,1004.85 1608.68,1011.81 1621.14,1013.86 1633.59,1035.36 1646.05,1036.67 1658.5,1035.85 1670.96,1048.48 1683.41,1066.04 1695.87,1054.34 1708.32,1056.39 1720.78,1090.98 1733.23,1091.67 1745.69,1090.57 1758.14,1102.65 1770.6,1116.77"/>
<polyline points="1409.4,863.06 1421.86,915.28 1434.31,908.81 1446.77,920.44 1459.22,913.27 1471.68,949.19 1484.13,929.73 1496.59,935.37 1509.04,952.99 1521.5,966.75 1533.95,967.59 1546.41,976.88 1558.86,980.91 1571.32,990.64 1583.77,998.45 1596.23,1011.15 1608.68,1015.9 1621.14,1024.13 1633.59,1040.05 1646.05,1045.63 1658.5,1051.51 1670.96,1047.57 1683.41,1066.45 1695.87,1084.61 1708.32,1090.43 1720.78,1096.13 1733.23,1101.12 1745.69,1112.3 1758.14,1122.19 1770.6,1120.52"/>
<polyline points="1409.4,875.86 1421.86,923.89 1434.31,902.34 1446.77,921.35 1459.22,917.09 1471.68,949.93 1484.13,936.17 1496.59,937.44 1509.04,950.91 1521.5,966.66 1533.95,965.75 1546.41,983.16 1558.86,982.42 1571.32,995.39 1583.77,1009.78 1596.23,1014.9 1608.68,1028.15 1621.14,1029.92 1633.59,1038.19 1646.05,1047.94 1658.5,1039.78 1670.96,1068.93 1683.41,1067.37 1695.87,1076 1708.32,1082.68 1720.78,1083.29 1733.23,1092.19 1745.69,1099.13 1758.14,1121.84 1770.6,1131.63"/>
<polyline points="1409.4,868.59 1421.86,914.36 1434.31,897.91 1446.77,918.21 1459.22,909.38 1471.68,932.61 1484.13,933.09 1496.59,934.33 1509.04,948.92 1521.5,965.63 1533.95,965.03 1546.41,971.1 1558.86,980.55 1571.32,990.22 1583.77,1002.33 1596.23,1002.43 1608.68,1019.99 1621.14,1021.4 1633.59,1023.98 1646.05,1035.69 1658.5,1024.67 1670.96,1053.72 1683.41,1048.84 1695.87,1066.9 1708.32,1061.76 1720.78,1089.61 1733.23,1080.99 1745.69,1092.42 1758.14,1115.72 1770.6,1115.29"/>
<polyline points="1409.4,866.9 1421.86,915.52 1434.31,900.42 1446.77,911.23 1459.22,914.42 1471.68,932.86 1484.13,932.23 1496.59,930.36 1509.04,951.28 1521.5,965.14 1533.95,972.47 1546.41,966.48 1558.86,984.65 1571.32,994.86 1583.77,1001.53 1596.23,1015.03 1608.68,1024.26 1621.14,1026.47 1633.59,1032.91 1646.05,1047.56 1658.5,1048.14 1670.96,1060.26 1683.41,1063.83 1695.87,1060.7 1708.32,1064.69 1720.78,1089.2 1733.23,1091.3 1745.69,1091.2 1758.14,1105.28 1770.6,1122.54"/>
<polyline points="1409.4,875.46 1421.86,922.94 1434.31,897.6 1446.77,909.92 1459.22,911.79 1471.68,940.36 1484.13,926.2 1496.59,933.25 1509.04,951 1521.5,962.49 1533.95,969.17 1546.41,970.23 1558.86,979.25 1571.32,990.69 1583.77,1004.61 1596.23,1008.81 1608.68,1010.11 1621.14,1018.18 1633.59,1015.54 1646.05,1051.99 1658.5,1040.87 1670.96,1048.11 1683.41,1062.39 1695.87,1070.7 1708.32,1075.46 1720.78,1074.2 1733.23,1072.77 1745.69,1093 1758.14,1092.71 1770.6,1097.68"/>
<polyline points="1409.4,874.25 1421.86,917.43 1434.31,900.06 1446.77,917.59 1459.22,909.28 1471.68,936.4 1484.13,929.45 1496.59,934.89 1509.04,949.74 1521.5,967.28 1533.95,970.67 1546.41,973.02 1558.86,984.83 1571.32,997.52 1583.77,1002.54 1596.23,1004.38 1608.68,1029.67 1621.14,1026.91 1633.59,1033.26 1646.05,1058.15 1658.5,1043.75 1670.96,1056.95 1683.41,1051.57 1695.87,1074.41 1708.32,1085.06 1720.78,1083.33 1733.23,1092.65 1745.69,1108.26 1758.14,1113.77 1770.6,1135.31"/>
<polyline points="1409.4,876.76 1421.86,926.61 1434.31,911.57 1446.77,922.89 1459.22,905.68 1471.68,948.59 1484.13,932.1 1496.59,939.56 1509.04,951.5 1521.5,966.26 1533.95,965.88 1546.41,978.34 1558.86,985.58 1571.32,989.88 1583.77,1000.21 1596.23,1012.96 1608.68,1020.14 1621.14,1025.23 1633.59,1024.99 1646.05,1038.29 1658.5,1049.89 1670.96,1055.8 1683.41,1064.52 1695.87,1061.44 1708.32,1062.97 1720.78,1076.89 1733.23,1086.13 1745.69,1085.89 1758.14,1100.96 1770.6,1094.62"/>
<polyline points="1409.4,876.05 1421.86,918.71 1434.31,896.38 1446.77,910.4 1459.22,909.1 1471.68,946.29 1484.13,937.34 1496.59,937.23 1509.04,948.48 1521.5,967.02 1533.95,972.18 1546.41,977.26 1558.86,992.58 1571.32,985.73 1583.77,997.4 1596.23,1007.21 1608.68,1008.29 1621.14,1020.76 1633.59,1029.45 1646.05,1038.31 1658.5,1043.72 1670.96,1054.38 1683.41,1063.87 1695.87,1057.18 1708.32,1065.98 1720.78,1086.87 1733.23,1083.13 1745.69,1085.98 1758.14,1103.48 1770.6,1101.58"/>
<polyline points="1409.4,882.77 1421.86,918.5 1434.31,906.86 1446.77,916.94 1459.22,915.65 1471.68,944.91 1484.13,933.72 1496.59,937.89 1509.04,949.85 1521.5,963.72 1533.95,968.6 1546.41,974.88 1558.86,986.33 1571.32,1002.88 1583.77,1004.94 1596.23,1015.89 1608.68,1012.32 1621.14,1021.25 1633.59,1022.78 1646.05,1034.75 1658.5,1052.25 1670.96,1054.17 1683.41,1063.33 1695.87,1060.3 1708.32,1088.17 1720.78,1082.79 1733.23,1087.45 1745.69,1103.56 1758.14,1114.2 1770.6,1118.17"/>
<polyline points="1409.4,872.32 1421.86,917.65 1434.31,905.33 1446.77,910.41 1459.22,908.85 1471.68,936.86 1484.13,932.27 1496.59,929.94 1509.04,951.29 1521.5,960.42 1533.95,970.14 1546.41,977.08 1558.86,972.79 1571.32,993.2 1583.77,1003.37 1596.23,1005.22 1608.68,1015.98 1621.14,1030.5 1633.59,1027.96 1646.05,1030.25 1658.5,1032.96 1670.96,1040.72 1683.41,1050.5 1695.87,1068.76 1708.32,1069.68 1720.78,1072.7 1733.23,1088.48 1745.69,1090.95 1758.14,1101.71 1770.6,1099.04"/>
<polyline points="1409.4,869.76 1421.86,916.47 1434.31,897.75 1446.77,916.35 1459.22,908.35 1471.68,937.39 1484.13,938.47 1496.59,935.76 1509.04,952.93 1521.5,965.71 1533.95,970.55 1546.41,976.06 1558.86,978.57 1571.32,993.11 1583.77,1001.68 1596.23,1008.24 1608.68,1017.17 1621.14,1019.77 1633.59,1020.69 1646.05,1046.28 1658.5,1055.81 1670.96,1048.77 1683.41,1067.22 1695.87,1070.19 1708.32,1069.95 1720.78,1076.34 1733.23,1089.1 1745.69,1096.15 1758.14,1102.85 1770.6,1110.8"/>
<polyline points="1409.4,874.96 1421.86,924.13 1434.31,904.39 1446.77,913.94 1459.22,907 1471.68,946.52 1484.13,937.89 1496.59,938.3 1509.04,955.05 1521.5,966.89 1533.95,963.13 1546.41,973.67 1558.86,989.13 1571.32,994.08 1583.77,1010.68 1596.23,999.31 1608.68,1017.13 1621.14,1023.39 1633.59,1023.02 1646.05,1040.17 1658.5,1055.32 1670.96,1062.05 1683.41,1063.42 1695.87,1075.57 1708.32,1092 1720.78,1078.18 1733.23,1096.33 1745.69,1109.98 1758.14,1099.02 1770.6,1119.8"/>
<polyline points="1409.4,874.45 1421.86,920.84 1434.31,904.59 1446.77,907.76 1459.22,909.5 1471.68,943.92 1484.13,939.54 1496.59,936.16 1509.04,949.07 1521.5,964.57 1533.95,969.89 1546.41,980.43 1558.86,986.17 1571.32,993.07 1583.77,1005.9 1596.23,1014.66 1608.68,1013.9 1621.14,1022.07 1633.59,1032.41 1646.05,1052.24 1658.5,1058.47 1670.96,1054.11 1683.41,1071.69 1695.87,1074.74 1708.32,1084.02 1720.78,1096.63 1733.23,1099.69 1745.69,1107.99 1758.14,1105.36 1770.6,1108.09"/>
<polyline points="1409.4,873.51 1421.86,918.12 1434.31,904.94 1446.77,912.78 1459.22,909.63 1471.68,943.59 1484.13,937.61 1496.59,938.02 1509.04,947.17 1521.5,968.67 1533.95,967.15 1546.41,980.07 1558.86,987.25 1571.32,987.54 1583.77,1003.18 1596.23,1012.71 1608.68,1012.92 1621.14,1018.71 1633.59,1026.8 1646.05,1043.99 1658.5,1052.03 1670.96,1050.22 1683.41,1069.41 1695.87,1079.63 1708.32,1084.29 1720.78,1077.12 1733.23,1082.52 1745.69,1101.58 1758.14,1114.57 1770.6,1117.89"/>
<polyline points="1409.2,916.3 1421.7,946.7 1434.2,939.3 1446.7,939.7 1459.2,944.7 1471.7,977.2 1484.2,976.3 1496.7,963 1509.2,983.8 1521.7,979.7 1531.7,974.7"/>
<polyline points="1609.2,1017.2 1620.7,1002 1633.5,1010.5 1645.5,1017.7 1658,1015.4 1670.5,1030.4 1683,1029.7 1695.5,1019.7 1708,1034.2 1720.5,1039.5 1733,1037.5 1745.5,1041.7 1758,1049.2 1771.7,1052"/>
</g>
<g stroke="#0000ff" fill="#0000ff">
<path d="M1409.4 872.5V888.5" stroke-width="4.2"/>
<path d="M1405.2 872.5H1413.6M1405.2 888.5H1413.6" stroke-width="3.2"/>
<path d="M1421.86 909.5V925.5" stroke-width="4.2"/>
<path d="M1417.65 909.5H1426.06M1417.65 925.5H1426.06" stroke-width="3.2"/>
<path d="M1434.31 893.3V909.3" stroke-width="4.2"/>
<path d="M1430.11 893.3H1438.51M1430.11 909.3H1438.51" stroke-width="3.2"/>
<path d="M1471.68 930.3V948.3" stroke-width="4.2"/>
<path d="M1467.48 930.3H1475.88M1467.48 948.3H1475.88" stroke-width="3.2"/>
<path d="M1484.13 926V944" stroke-width="4.2"/>
<path d="M1479.93 926H1488.33M1479.93 944H1488.33" stroke-width="3.2"/>
<path d="M1608.68 1008.5V1024.5" stroke-width="4.2"/>
<path d="M1604.48 1008.5H1612.88M1604.48 1024.5H1612.88" stroke-width="3.2"/>
<path d="M1621.14 1014.7V1030.7" stroke-width="4.2"/>
<path d="M1616.94 1014.7H1625.34M1616.94 1030.7H1625.34" stroke-width="3.2"/>
<path d="M1633.59 1020.5V1036.5" stroke-width="4.2"/>
<path d="M1629.39 1020.5H1637.79M1629.39 1036.5H1637.79" stroke-width="3.2"/>
<path d="M1646.05 1031.5V1049.5" stroke-width="4.2"/>
<path d="M1641.85 1031.5H1650.25M1641.85 1049.5H1650.25" stroke-width="3.2"/>
<path d="M1658.5 1036V1056" stroke-width="4.2"/>
<path d="M1654.3 1036H1662.7M1654.3 1056H1662.7" stroke-width="3.2"/>
<path d="M1670.96 1043.2V1063.2" stroke-width="4.2"/>
<path d="M1666.76 1043.2H1675.16M1666.76 1063.2H1675.16" stroke-width="3.2"/>
<path d="M1683.41 1050.3V1073.7" stroke-width="4.2"/>
<path d="M1679.21 1050.3H1687.61M1679.21 1073.7H1687.61" stroke-width="3.2"/>
<path d="M1695.87 1054.6V1082" stroke-width="4.2"/>
<path d="M1691.66 1054.6H1700.07M1691.66 1082H1700.07" stroke-width="3.2"/>
<path d="M1708.32 1064.2V1089.2" stroke-width="4.2"/>
<path d="M1704.12 1064.2H1712.52M1704.12 1089.2H1712.52" stroke-width="3.2"/>
<path d="M1720.78 1070V1100" stroke-width="4.2"/>
<path d="M1716.58 1070H1724.98M1716.58 1100H1724.98" stroke-width="3.2"/>
<path d="M1733.23 1078.3V1108.3" stroke-width="4.2"/>
<path d="M1729.03 1078.3H1737.43M1729.03 1108.3H1737.43" stroke-width="3.2"/>
<path d="M1745.69 1085.5V1119.5" stroke-width="4.2"/>
<path d="M1741.49 1085.5H1749.89M1741.49 1119.5H1749.89" stroke-width="3.2"/>
<path d="M1758.14 1092.9V1123.7" stroke-width="4.2"/>
<path d="M1753.94 1092.9H1762.34M1753.94 1123.7H1762.34" stroke-width="3.2"/>
<path d="M1770.6 1097.3V1129.3" stroke-width="4.2"/>
<path d="M1766.39 1097.3H1774.8M1766.39 1129.3H1774.8" stroke-width="3.2"/>
<circle cx="1409.4" cy="880.5" r="8.3" stroke="none"/>
<circle cx="1421.86" cy="917.5" r="8.3" stroke="none"/>
<circle cx="1434.31" cy="901.3" r="8.3" stroke="none"/>
<circle cx="1446.77" cy="914.7" r="8.3" stroke="none"/>
<circle cx="1459.22" cy="910.8" r="8.3" stroke="none"/>
<circle cx="1471.68" cy="939.3" r="8.3" stroke="none"/>
<circle cx="1484.13" cy="935" r="8.3" stroke="none"/>
<circle cx="1496.59" cy="935.5" r="8.3" stroke="none"/>
<circle cx="1509.04" cy="951.3" r="8.3" stroke="none"/>
<circle cx="1521.5" cy="965.5" r="8.3" stroke="none"/>
<circle cx="1533.95" cy="968.8" r="8.3" stroke="none"/>
<circle cx="1546.41" cy="975.5" r="8.3" stroke="none"/>
<circle cx="1558.86" cy="983" r="8.3" stroke="none"/>
<circle cx="1571.32" cy="992.2" r="8.3" stroke="none"/>
<circle cx="1583.77" cy="1003.5" r="8.3" stroke="none"/>
<circle cx="1596.23" cy="1009.5" r="8.3" stroke="none"/>
<circle cx="1608.68" cy="1016.5" r="8.3" stroke="none"/>
<circle cx="1621.14" cy="1022.7" r="8.3" stroke="none"/>
<circle cx="1633.59" cy="1028.5" r="8.3" stroke="none"/>
<circle cx="1646.05" cy="1040.5" r="8.3" stroke="none"/>
<circle cx="1658.5" cy="1046" r="8.3" stroke="none"/>
<circle cx="1670.96" cy="1053.2" r="8.3" stroke="none"/>
<circle cx="1683.41" cy="1062" r="8.3" stroke="none"/>
<circle cx="1695.87" cy="1068.3" r="8.3" stroke="none"/>
<circle cx="1708.32" cy="1076.7" r="8.3" stroke="none"/>
<circle cx="1720.78" cy="1085" r="8.3" stroke="none"/>
<circle cx="1733.23" cy="1093.3" r="8.3" stroke="none"/>
<circle cx="1745.69" cy="1102.5" r="8.3" stroke="none"/>
<circle cx="1758.14" cy="1108.3" r="8.3" stroke="none"/>
<circle cx="1770.6" cy="1113.3" r="8.3" stroke="none"/>
</g>
<line x1="1408" y1="890" x2="1771.7" y2="1117.5" stroke="#000" stroke-width="5.1"/>
<g stroke="#000" stroke-width="3.6" fill="none">
<line x1="1459" y1="1305" x2="1459" y2="1319.6"/>
<line x1="1679" y1="1305" x2="1679" y2="1319.6"/>
<line x1="1334" y1="955.8" x2="1349" y2="955.8"/>
<line x1="1334" y1="1130.4" x2="1349" y2="1130.4"/>
<line x1="1334" y1="1305" x2="1349" y2="1305"/>
<rect x="1349" y="825.1" width="483.9" height="479.9" stroke-width="3.6"/>
</g>
<text x="1324.2" y="970.8" font-size="41.67" text-anchor="end">−2</text>
<text x="1324.2" y="1145.4" font-size="41.67" text-anchor="end">−4</text>
<text x="1324.2" y="1320" font-size="41.67" text-anchor="end">−6</text>
<text x="1463" y="1364.2" font-size="41.67" text-anchor="middle">0</text>
<text x="1683" y="1364.2" font-size="41.67" text-anchor="middle">1</text>
<text x="1437.1" y="1420.7" font-size="46.5">log</text>
<text x="1501.3" y="1432.5" font-size="29.3">10</text>
<text x="1535.1" y="1420.7" font-size="41.8">[duration[s]]</text>
<text x="1398.4" y="814.5" font-size="45.83" xml:space="preserve">Fed <tspan font-style="italic">daf-16</tspan> mutant</text>
<text x="1792.6" y="877.3" font-size="50" font-weight="bold">f</text>
<text x="1369.6" y="1281.4" font-size="37.9">inactive</text>
<text x="1308.8" y="1486.6" font-size="37.8">inactive:</text>
<text x="1457.2" y="1486.6" class="dj it" font-size="37.5">y</text>
<text x="1486.1" y="1486.6" class="dj" font-size="39">=</text>
<text x="1532" y="1486.6" class="dj" font-size="39">−</text>
<text x="1571.4" y="1486.6" class="dj" font-size="37.5">1.58</text>
<text x="1655" y="1486.6" class="dj it" font-size="37.5">x</text>
<text x="1683.8" y="1486.6" class="dj" font-size="39">−</text>
<text x="1723.1" y="1486.6" class="dj" font-size="37.5">1.64</text>
</g>
</svg></body></html>
